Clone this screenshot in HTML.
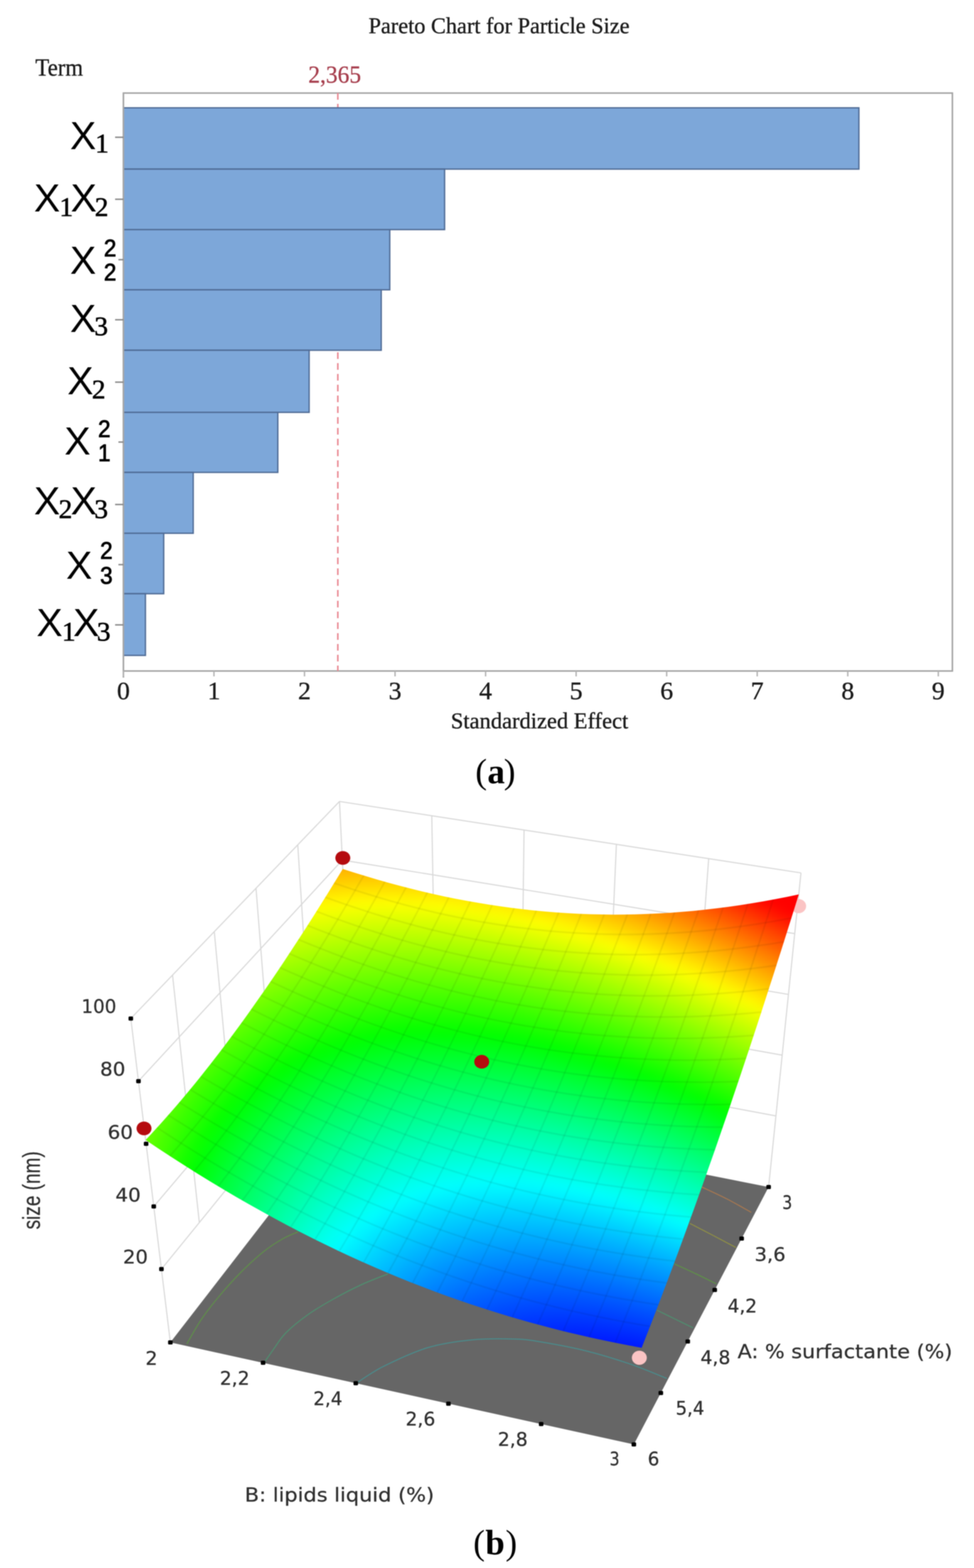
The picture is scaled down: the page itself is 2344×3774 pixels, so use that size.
<!DOCTYPE html>
<html lang="en"><head><meta charset="utf-8"><title>Pareto Chart for Particle Size</title>
<style>html,body{margin:0;padding:0;background:#fff}svg{display:block;filter:blur(0.8px)}text{white-space:pre}</style></head>
<body><svg width="2344" height="3774" viewBox="0 0 2344 3774">
<rect width="2344" height="3774" fill="#fff"/>
<rect x="297" y="224" width="1995" height="1391" fill="#fff" stroke="#a2a2a2" stroke-width="3.6"/>
<line x1="813" y1="224" x2="813" y2="1615" stroke="#ea8c95" stroke-width="3.8" stroke-dasharray="16 10"/>
<rect x="297" y="259.5" width="1770" height="147.5" fill="#7da7d9" stroke="#4f6b95" stroke-width="3.2"/>
<rect x="297" y="407" width="773" height="145.60000000000002" fill="#7da7d9" stroke="#4f6b95" stroke-width="3.2"/>
<rect x="297" y="552.6" width="641" height="144.89999999999998" fill="#7da7d9" stroke="#4f6b95" stroke-width="3.2"/>
<rect x="297" y="697.5" width="620.5" height="145.5" fill="#7da7d9" stroke="#4f6b95" stroke-width="3.2"/>
<rect x="297" y="843" width="447" height="149.5" fill="#7da7d9" stroke="#4f6b95" stroke-width="3.2"/>
<rect x="297" y="992.5" width="371.6" height="144.5" fill="#7da7d9" stroke="#4f6b95" stroke-width="3.2"/>
<rect x="297" y="1137" width="168" height="146.5" fill="#7da7d9" stroke="#4f6b95" stroke-width="3.2"/>
<rect x="297" y="1283.5" width="97" height="145.5" fill="#7da7d9" stroke="#4f6b95" stroke-width="3.2"/>
<rect x="297" y="1429" width="53" height="148.5" fill="#7da7d9" stroke="#4f6b95" stroke-width="3.2"/>
<line x1="297" y1="224" x2="297" y2="1631" stroke="#a8a8a8" stroke-width="3.8"/>
<line x1="277" y1="330.4" x2="297" y2="330.4" stroke="#888" stroke-width="3.4"/>
<line x1="277" y1="479.6" x2="297" y2="479.6" stroke="#888" stroke-width="3.4"/>
<line x1="285" y1="625" x2="297" y2="625" stroke="#888" stroke-width="3.4"/>
<line x1="277" y1="769.6" x2="297" y2="769.6" stroke="#888" stroke-width="3.4"/>
<line x1="277" y1="919.8" x2="297" y2="919.8" stroke="#888" stroke-width="3.4"/>
<line x1="285" y1="1064" x2="297" y2="1064" stroke="#888" stroke-width="3.4"/>
<line x1="277" y1="1214.3" x2="297" y2="1214.3" stroke="#888" stroke-width="3.4"/>
<line x1="285" y1="1359" x2="297" y2="1359" stroke="#888" stroke-width="3.4"/>
<line x1="277" y1="1504" x2="297" y2="1504" stroke="#888" stroke-width="3.4"/>
<line x1="297.0" y1="1615" x2="297.0" y2="1628" stroke="#b4b4b4" stroke-width="3.4"/>
<text x="297.0" y="1682.5" font-family="'Liberation Serif',serif" font-size="62" text-anchor="middle" fill="#1a1a1a" stroke="#1a1a1a" stroke-width="0.7">0</text>
<line x1="514.9" y1="1615" x2="514.9" y2="1628" stroke="#b4b4b4" stroke-width="3.4"/>
<text x="514.9" y="1682.5" font-family="'Liberation Serif',serif" font-size="62" text-anchor="middle" fill="#1a1a1a" stroke="#1a1a1a" stroke-width="0.7">1</text>
<line x1="732.8" y1="1615" x2="732.8" y2="1628" stroke="#b4b4b4" stroke-width="3.4"/>
<text x="732.8" y="1682.5" font-family="'Liberation Serif',serif" font-size="62" text-anchor="middle" fill="#1a1a1a" stroke="#1a1a1a" stroke-width="0.7">2</text>
<line x1="950.7" y1="1615" x2="950.7" y2="1628" stroke="#b4b4b4" stroke-width="3.4"/>
<text x="950.7" y="1682.5" font-family="'Liberation Serif',serif" font-size="62" text-anchor="middle" fill="#1a1a1a" stroke="#1a1a1a" stroke-width="0.7">3</text>
<line x1="1168.6" y1="1615" x2="1168.6" y2="1628" stroke="#b4b4b4" stroke-width="3.4"/>
<text x="1168.6" y="1682.5" font-family="'Liberation Serif',serif" font-size="62" text-anchor="middle" fill="#1a1a1a" stroke="#1a1a1a" stroke-width="0.7">4</text>
<line x1="1386.5" y1="1615" x2="1386.5" y2="1628" stroke="#b4b4b4" stroke-width="3.4"/>
<text x="1386.5" y="1682.5" font-family="'Liberation Serif',serif" font-size="62" text-anchor="middle" fill="#1a1a1a" stroke="#1a1a1a" stroke-width="0.7">5</text>
<line x1="1604.4" y1="1615" x2="1604.4" y2="1628" stroke="#b4b4b4" stroke-width="3.4"/>
<text x="1604.4" y="1682.5" font-family="'Liberation Serif',serif" font-size="62" text-anchor="middle" fill="#1a1a1a" stroke="#1a1a1a" stroke-width="0.7">6</text>
<line x1="1822.3" y1="1615" x2="1822.3" y2="1628" stroke="#b4b4b4" stroke-width="3.4"/>
<text x="1822.3" y="1682.5" font-family="'Liberation Serif',serif" font-size="62" text-anchor="middle" fill="#1a1a1a" stroke="#1a1a1a" stroke-width="0.7">7</text>
<line x1="2040.2" y1="1615" x2="2040.2" y2="1628" stroke="#b4b4b4" stroke-width="3.4"/>
<text x="2040.2" y="1682.5" font-family="'Liberation Serif',serif" font-size="62" text-anchor="middle" fill="#1a1a1a" stroke="#1a1a1a" stroke-width="0.7">8</text>
<line x1="2258.1" y1="1615" x2="2258.1" y2="1628" stroke="#b4b4b4" stroke-width="3.4"/>
<text x="2258.1" y="1682.5" font-family="'Liberation Serif',serif" font-size="62" text-anchor="middle" fill="#1a1a1a" stroke="#1a1a1a" stroke-width="0.7">9</text>
<text x="887" y="79.5" font-family="'Liberation Serif',serif" font-size="55" fill="#1a1a1a" textLength="628" lengthAdjust="spacingAndGlyphs" stroke="#1a1a1a" stroke-width="0.7">Pareto Chart for Particle Size</text>
<text x="85" y="182" font-family="'Liberation Serif',serif" font-size="60" fill="#1a1a1a" textLength="115" lengthAdjust="spacingAndGlyphs" stroke="#1a1a1a" stroke-width="0.7">Term</text>
<text x="742" y="198.6" font-family="'Liberation Serif',serif" font-size="60" fill="#a63d4c" textLength="127" lengthAdjust="spacingAndGlyphs" stroke="#a63d4c" stroke-width="0.6">2,365</text>
<text x="1085" y="1752.5" font-family="'Liberation Serif',serif" font-size="55" fill="#1a1a1a" textLength="427" lengthAdjust="spacingAndGlyphs" stroke="#1a1a1a" stroke-width="0.7">Standardized Effect</text>
<text x="168.4" y="358.5" font-family="'Liberation Sans',sans-serif" font-size="95" fill="#000" textLength="63" lengthAdjust="spacingAndGlyphs">X</text>
<text x="229" y="367" font-family="'Liberation Serif',serif" font-size="66" fill="#000" stroke="#000" stroke-width="1.1">1</text>
<text x="81.7" y="508.5" font-family="'Liberation Sans',sans-serif" font-size="95" fill="#000" textLength="63" lengthAdjust="spacingAndGlyphs">X</text>
<text x="143" y="520" font-family="'Liberation Serif',serif" font-size="66" fill="#000" stroke="#000" stroke-width="1.1">1</text>
<text x="170" y="508.5" font-family="'Liberation Sans',sans-serif" font-size="95" fill="#000" textLength="63" lengthAdjust="spacingAndGlyphs">X</text>
<text x="228" y="520" font-family="'Liberation Serif',serif" font-size="66" fill="#000" stroke="#000" stroke-width="1.1">2</text>
<text x="168.4" y="658.5" font-family="'Liberation Sans',sans-serif" font-size="95" fill="#000" textLength="63" lengthAdjust="spacingAndGlyphs">X</text>
<text x="250" y="616.5" font-family="'Liberation Sans',sans-serif" font-size="57" fill="#000" textLength="30" lengthAdjust="spacingAndGlyphs" stroke="#000" stroke-width="1.6">2</text>
<text x="250" y="675" font-family="'Liberation Sans',sans-serif" font-size="57" fill="#000" textLength="30" lengthAdjust="spacingAndGlyphs" stroke="#000" stroke-width="1.6">2</text>
<text x="168.4" y="798.5" font-family="'Liberation Sans',sans-serif" font-size="95" fill="#000" textLength="63" lengthAdjust="spacingAndGlyphs">X</text>
<text x="227" y="807" font-family="'Liberation Serif',serif" font-size="66" fill="#000" stroke="#000" stroke-width="1.1">3</text>
<text x="162" y="948.5" font-family="'Liberation Sans',sans-serif" font-size="95" fill="#000" textLength="63" lengthAdjust="spacingAndGlyphs">X</text>
<text x="221" y="959" font-family="'Liberation Serif',serif" font-size="66" fill="#000" stroke="#000" stroke-width="1.1">2</text>
<text x="155" y="1093.5" font-family="'Liberation Sans',sans-serif" font-size="95" fill="#000" textLength="63" lengthAdjust="spacingAndGlyphs">X</text>
<text x="236" y="1052" font-family="'Liberation Sans',sans-serif" font-size="57" fill="#000" textLength="30" lengthAdjust="spacingAndGlyphs" stroke="#000" stroke-width="1.6">2</text>
<text x="236" y="1110" font-family="'Liberation Sans',sans-serif" font-size="57" fill="#000" textLength="30" lengthAdjust="spacingAndGlyphs" stroke="#000" stroke-width="1.6">1</text>
<text x="81.7" y="1237.5" font-family="'Liberation Sans',sans-serif" font-size="95" fill="#000" textLength="63" lengthAdjust="spacingAndGlyphs">X</text>
<text x="141" y="1247" font-family="'Liberation Serif',serif" font-size="66" fill="#000" stroke="#000" stroke-width="1.1">2</text>
<text x="170" y="1237.5" font-family="'Liberation Sans',sans-serif" font-size="95" fill="#000" textLength="63" lengthAdjust="spacingAndGlyphs">X</text>
<text x="227" y="1247" font-family="'Liberation Serif',serif" font-size="66" fill="#000" stroke="#000" stroke-width="1.1">3</text>
<text x="159" y="1392.5" font-family="'Liberation Sans',sans-serif" font-size="95" fill="#000" textLength="63" lengthAdjust="spacingAndGlyphs">X</text>
<text x="241" y="1345" font-family="'Liberation Sans',sans-serif" font-size="57" fill="#000" textLength="30" lengthAdjust="spacingAndGlyphs" stroke="#000" stroke-width="1.6">2</text>
<text x="241" y="1405" font-family="'Liberation Sans',sans-serif" font-size="57" fill="#000" textLength="30" lengthAdjust="spacingAndGlyphs" stroke="#000" stroke-width="1.6">3</text>
<text x="87.7" y="1530.5" font-family="'Liberation Sans',sans-serif" font-size="95" fill="#000" textLength="63" lengthAdjust="spacingAndGlyphs">X</text>
<text x="149" y="1542" font-family="'Liberation Serif',serif" font-size="66" fill="#000" stroke="#000" stroke-width="1.1">1</text>
<text x="176" y="1530.5" font-family="'Liberation Sans',sans-serif" font-size="95" fill="#000" textLength="63" lengthAdjust="spacingAndGlyphs">X</text>
<text x="233" y="1542" font-family="'Liberation Serif',serif" font-size="66" fill="#000" stroke="#000" stroke-width="1.1">3</text>
<text y="1885" font-family="'Liberation Serif',serif" font-size="84" fill="#000"><tspan x="1144">(</tspan><tspan x="1173" font-weight="bold">a</tspan><tspan x="1212.5">)</tspan></text>
<text y="3741" font-family="'Liberation Serif',serif" font-size="84" fill="#000"><tspan x="1139">(</tspan><tspan x="1168" font-weight="bold">b</tspan><tspan x="1216.5">)</tspan></text>
<g fill="none" stroke="#d9d9d9" stroke-width="2.7" stroke-linejoin="round"><polyline points="388.5,3054.6 844.6,2493.8 1867.3,2685.9"/><polyline points="370.0,2903.8 837.7,2352.6 1882.4,2539.7"/><polyline points="351.6,2753.0 830.8,2211.4 1897.5,2393.5"/><polyline points="333.2,2602.2 823.9,2070.2 1912.5,2247.2"/><polyline points="314.8,2451.4 817.0,1929.0 1927.6,2101.0"/><polyline points="415.2,2346.9 479.7,2942.4"/><polyline points="515.7,2242.4 570.9,2830.3"/><polyline points="616.1,2138.0 662.1,2718.1"/><polyline points="716.6,2033.5 753.4,2606.0"/><polyline points="817.0,1929.0 844.6,2493.8"/><polyline points="1039.1,1963.4 1049.1,2532.2"/><polyline points="1261.2,1997.8 1253.7,2570.6"/><polyline points="1483.4,2032.2 1458.2,2609.1"/><polyline points="1705.5,2066.6 1662.8,2647.5"/><polyline points="314.8,2451.4 410.0,3231.0"/><polyline points="1927.6,2101.0 1849.7,2857.0"/></g>
<polygon points="410.0,3231.0 1525.4,3476.6 1849.7,2857.0 852.7,2659.0" fill="#666666"/>
<path d="M449.7,3234.5C455.6,3224.6 471.8,3194.4 485.0,3175.0C498.2,3155.6 513.2,3136.8 529.0,3118.0C544.8,3099.2 562.3,3079.7 580.0,3062.0C597.7,3044.3 618.3,3025.3 635.0,3012.0C651.7,2998.7 666.3,2989.8 680.0,2982.0C693.7,2974.2 710.8,2967.8 717.0,2965.0" fill="none" stroke="#5f8f4a" stroke-width="2.5"/>
<path d="M635.0,3281.0C639.2,3275.0 651.2,3257.2 660.0,3245.0C668.8,3232.8 674.7,3221.3 688.0,3208.0C701.3,3194.7 721.3,3178.3 740.0,3165.0C758.7,3151.7 778.3,3140.2 800.0,3128.0C821.7,3115.8 847.7,3102.3 870.0,3092.0C892.3,3081.7 923.3,3070.3 934.0,3066.0" fill="none" stroke="#4f8f6f" stroke-width="2.5"/>
<path d="M857.0,3329.5C868.0,3322.7 894.3,3303.0 923.0,3288.7C951.7,3274.4 993.7,3254.4 1029.0,3243.8C1064.3,3233.2 1099.7,3228.5 1135.0,3225.0C1170.3,3221.5 1212.2,3222.1 1240.7,3223.0C1269.2,3223.9 1277.3,3225.7 1305.8,3230.5C1334.3,3235.3 1376.3,3242.9 1411.6,3251.7C1446.9,3260.5 1485.3,3272.4 1517.5,3283.4C1549.7,3294.4 1590.2,3312.1 1604.8,3317.8" fill="none" stroke="#4a8c8c" stroke-width="2.5"/>
<path d="M1581.0,3153.5C1588.3,3157.1 1610.5,3167.9 1625.0,3175.0C1639.5,3182.1 1660.8,3192.5 1668.0,3196.0" fill="none" stroke="#4f8f6f" stroke-width="2.5"/>
<path d="M1623.0,3042.0C1631.7,3046.0 1658.2,3058.0 1675.0,3066.0C1691.8,3074.0 1715.8,3086.0 1724.0,3090.0" fill="none" stroke="#5f8f4a" stroke-width="2.5"/>
<path d="M1660.0,2944.5C1669.2,2949.2 1696.5,2963.3 1715.0,2973.0C1733.5,2982.7 1761.7,2997.8 1771.0,3002.7" fill="none" stroke="#8f8f45" stroke-width="2.5"/>
<path d="M1689.0,2857.0C1699.2,2861.8 1730.2,2875.8 1750.0,2886.0C1769.8,2896.2 1798.3,2912.7 1808.0,2918.0" fill="none" stroke="#a87850" stroke-width="2.5"/>
<ellipse cx="1922" cy="2181" rx="18" ry="17" fill="#fbc4c4"/>
<ellipse cx="1538.6" cy="3268" rx="18" ry="17" fill="#fbc4c4"/>
<defs><filter id="sb" x="-5%" y="-5%" width="110%" height="110%" color-interpolation-filters="sRGB"><feGaussianBlur stdDeviation="11"/></filter><filter id="mb" x="-5%" y="-5%" width="110%" height="110%"><feGaussianBlur stdDeviation="0.9"/></filter></defs>
<clipPath id="sc"><polygon points="824.9,2091.4 852.3,2100.2 879.5,2108.6 906.8,2116.7 934.0,2124.5 961.1,2131.8 988.3,2138.8 1015.4,2145.5 1042.4,2151.7 1069.5,2157.7 1096.5,2163.2 1123.6,2168.3 1150.6,2173.1 1177.6,2177.6 1204.6,2181.6 1231.7,2185.3 1258.7,2188.6 1285.8,2191.5 1312.9,2194.0 1340.0,2196.2 1367.1,2198.0 1394.3,2199.4 1421.5,2200.4 1448.7,2201.1 1476.0,2201.4 1503.3,2201.2 1530.7,2200.7 1558.2,2199.8 1585.7,2198.6 1613.3,2196.9 1640.9,2194.8 1668.6,2192.4 1696.4,2189.6 1724.3,2186.3 1752.3,2182.7 1780.4,2178.7 1808.5,2174.3 1836.8,2169.5 1865.2,2164.3 1893.7,2158.7 1922.3,2152.7 1912.1,2185.4 1901.9,2217.9 1891.8,2250.0 1881.8,2281.8 1871.7,2313.2 1861.8,2344.4 1851.8,2375.3 1841.9,2405.9 1832.1,2436.2 1822.3,2466.2 1812.5,2496.0 1802.8,2525.4 1793.1,2554.5 1783.4,2583.4 1773.8,2612.0 1764.2,2640.3 1754.7,2668.4 1745.2,2696.1 1735.7,2723.6 1726.3,2750.9 1716.9,2777.9 1707.5,2804.6 1698.2,2831.0 1688.9,2857.2 1679.6,2883.2 1670.4,2908.9 1661.2,2934.3 1652.0,2959.6 1642.9,2984.5 1633.8,3009.3 1624.7,3033.7 1615.6,3058.0 1606.6,3082.0 1597.6,3105.8 1588.6,3129.4 1579.7,3152.7 1570.8,3175.9 1561.9,3198.8 1553.0,3221.4 1544.2,3243.9 1514.8,3238.5 1485.4,3232.7 1456.1,3226.7 1426.7,3220.4 1397.5,3213.8 1368.2,3206.9 1339.0,3199.7 1309.8,3192.1 1280.6,3184.2 1251.4,3176.0 1222.2,3167.5 1193.0,3158.6 1163.8,3149.3 1134.6,3139.7 1105.3,3129.8 1076.0,3119.4 1046.7,3108.7 1017.4,3097.6 988.0,3086.2 958.5,3074.3 929.0,3062.0 899.4,3049.3 869.8,3036.2 840.1,3022.7 810.3,3008.7 780.4,2994.3 750.5,2979.5 720.4,2964.2 690.3,2948.5 660.0,2932.3 629.7,2915.6 599.2,2898.5 568.6,2880.9 537.8,2862.8 507.0,2844.2 476.0,2825.2 444.8,2805.6 413.6,2785.5 382.1,2764.9 350.5,2743.7 362.6,2730.9 374.6,2717.8 386.7,2704.6 398.7,2691.1 410.6,2677.5 422.6,2663.7 434.6,2649.7 446.5,2635.6 458.4,2621.2 470.3,2606.7 482.2,2592.0 494.0,2577.1 505.9,2562.1 517.7,2546.8 529.5,2531.4 541.4,2515.8 553.2,2500.0 565.0,2484.1 576.8,2468.0 588.6,2451.7 600.4,2435.3 612.1,2418.6 623.9,2401.8 635.7,2384.9 647.5,2367.8 659.3,2350.5 671.1,2333.0 682.8,2315.4 694.6,2297.6 706.4,2279.6 718.2,2261.5 730.0,2243.2 741.9,2224.8 753.7,2206.2 765.5,2187.5 777.4,2168.6 789.3,2149.5 801.1,2130.3 813.0,2110.9"/></clipPath>
<g clip-path="url(#sc)"><g filter="url(#sb)"><path d="M794,2033l26,9l-12,18l-26,-8z" fill="#ff8800"/><path d="M818,2041l26,8l-12,19l-26,-8z" fill="#ff9000"/><path d="M842,2049l26,8l-12,19l-26,-8z" fill="#ff9800"/><path d="M866,2056l25,8l-11,19l-26,-8z" fill="#ff9f00"/><path d="M890,2063l25,7l-11,20l-26,-8z" fill="#ffa600"/><path d="M913,2070l26,7l-11,20l-26,-8z" fill="#ffac00"/><path d="M937,2076l26,7l-11,20l-26,-7z" fill="#ffb100"/><path d="M961,2083l26,6l-11,20l-26,-6z" fill="#ffb600"/><path d="M985,2088l25,6l-11,21l-25,-6z" fill="#ffbb00"/><path d="M1009,2094l25,6l-11,21l-25,-6z" fill="#ffbe00"/><path d="M1032,2099l26,6l-11,21l-26,-6z" fill="#ffc100"/><path d="M1056,2104l26,6l-11,21l-26,-5z" fill="#ffc400"/><path d="M1080,2109l25,5l-10,22l-26,-5z" fill="#ffc600"/><path d="M1103,2114l26,4l-11,22l-25,-5z" fill="#ffc700"/><path d="M1127,2118l26,4l-11,22l-26,-4z" fill="#ffc800"/><path d="M1151,2122l25,4l-10,22l-26,-4z" fill="#ffc800"/><path d="M1174,2125l26,4l-11,23l-25,-4z" fill="#ffc800"/><path d="M1198,2129l26,3l-11,23l-25,-4z" fill="#ffc700"/><path d="M1222,2132l25,3l-10,23l-26,-3z" fill="#ffc500"/><path d="M1245,2135l26,2l-10,24l-26,-3z" fill="#ffc300"/><path d="M1269,2137l26,2l-11,24l-25,-2z" fill="#ffc000"/><path d="M1293,2139l26,2l-11,24l-25,-2z" fill="#ffbc00"/><path d="M1317,2141l25,2l-10,24l-26,-2z" fill="#ffb800"/><path d="M1340,2143l26,1l-10,25l-26,-2z" fill="#ffb400"/><path d="M1364,2144l26,1l-10,25l-26,-1z" fill="#ffaf00"/><path d="M1388,2145l26,1l-10,25l-26,-1z" fill="#ffa900"/><path d="M1412,2146l26,0l-11,25l-25,0z" fill="#ffa200"/><path d="M1436,2146l26,0l-11,26l-25,-1z" fill="#ff9c00"/><path d="M1460,2146l25,0l-10,26l-26,0z" fill="#ff9400"/><path d="M1484,2146l25,-1l-10,27l-26,0z" fill="#ff8c00"/><path d="M1507,2145l26,-1l-10,27l-26,1z" fill="#ff8300"/><path d="M1532,2145l25,-2l-10,27l-26,1z" fill="#ff7a00"/><path d="M1556,2143l26,-1l-10,27l-26,1z" fill="#ff7000"/><path d="M1580,2142l26,-2l-10,28l-26,1z" fill="#ff6500"/><path d="M1604,2140l26,-2l-10,28l-26,2z" fill="#ff5a00"/><path d="M1628,2138l26,-2l-10,28l-26,2z" fill="#ff4e00"/><path d="M1652,2136l27,-3l-10,28l-27,3z" fill="#ff4200"/><path d="M1677,2133l26,-3l-10,29l-26,3z" fill="#ff3500"/><path d="M1701,2130l26,-3l-9,29l-27,3z" fill="#ff2800"/><path d="M1725,2127l27,-4l-10,29l-26,4z" fill="#ff1900"/><path d="M1750,2124l27,-5l-10,30l-27,4z" fill="#ff0b00"/><path d="M1775,2120l26,-5l-10,30l-26,4z" fill="#ff0000"/><path d="M1799,2115l27,-4l-10,30l-27,4z" fill="#ff0000"/><path d="M1824,2111l27,-5l-10,30l-27,5z" fill="#ff0000"/><path d="M1849,2106l27,-5l-10,30l-27,6z" fill="#ff0000"/><path d="M1874,2101l27,-6l-10,31l-27,6z" fill="#ff0000"/><path d="M1899,2096l27,-7l-10,32l-27,6z" fill="#ff0000"/><path d="M1924,2090l27,-7l-10,32l-27,6z" fill="#ff0000"/><path d="M1949,2084l27,-7l-9,32l-28,7z" fill="#ff0000"/><path d="M1974,2077l28,-7l-10,33l-27,6z" fill="#ff0000"/><path d="M783,2050l26,9l-11,18l-26,-9z" fill="#ff9700"/><path d="M807,2058l26,9l-11,19l-26,-9z" fill="#ff9f00"/><path d="M831,2066l26,8l-11,19l-26,-8z" fill="#ffa800"/><path d="M855,2074l26,8l-11,19l-26,-8z" fill="#ffaf00"/><path d="M879,2081l26,8l-11,19l-26,-8z" fill="#ffb600"/><path d="M903,2088l26,7l-11,20l-26,-8z" fill="#ffbd00"/><path d="M927,2095l26,7l-11,20l-26,-8z" fill="#ffc300"/><path d="M951,2101l26,7l-11,20l-26,-7z" fill="#ffc800"/><path d="M975,2107l25,7l-11,20l-25,-6z" fill="#ffcd00"/><path d="M998,2113l26,6l-11,21l-26,-6z" fill="#ffd100"/><path d="M1022,2119l26,5l-11,21l-26,-5z" fill="#ffd400"/><path d="M1046,2124l26,5l-11,22l-26,-6z" fill="#ffd700"/><path d="M1070,2129l25,5l-10,22l-26,-6z" fill="#ffda00"/><path d="M1093,2134l26,5l-11,21l-25,-5z" fill="#ffdb00"/><path d="M1117,2138l26,5l-11,22l-25,-5z" fill="#ffdc00"/><path d="M1141,2142l26,5l-11,22l-26,-5z" fill="#ffdd00"/><path d="M1165,2146l25,4l-10,23l-26,-4z" fill="#ffdd00"/><path d="M1188,2150l26,3l-10,23l-26,-4z" fill="#ffdc00"/><path d="M1212,2153l26,3l-11,23l-25,-3z" fill="#ffdb00"/><path d="M1236,2156l25,3l-10,23l-26,-3z" fill="#ffd900"/><path d="M1260,2159l25,2l-10,24l-26,-3z" fill="#ffd700"/><path d="M1283,2161l26,2l-10,24l-26,-2z" fill="#ffd400"/><path d="M1307,2163l26,2l-10,24l-26,-2z" fill="#ffd000"/><path d="M1331,2165l26,2l-11,24l-25,-2z" fill="#ffcc00"/><path d="M1355,2167l25,1l-10,25l-26,-2z" fill="#ffc700"/><path d="M1379,2168l25,1l-10,25l-26,-1z" fill="#ffc200"/><path d="M1402,2169l26,1l-10,25l-26,-1z" fill="#ffbc00"/><path d="M1426,2170l26,0l-10,25l-26,0z" fill="#ffb500"/><path d="M1450,2170l26,0l-10,26l-26,-1z" fill="#ffae00"/><path d="M1474,2170l26,0l-10,26l-26,0z" fill="#ffa600"/><path d="M1498,2170l26,-1l-10,26l-26,1z" fill="#ff9e00"/><path d="M1522,2169l26,-1l-10,27l-26,1z" fill="#ff9500"/><path d="M1546,2168l26,-1l-10,27l-26,1z" fill="#ff8b00"/><path d="M1570,2167l27,-1l-10,27l-27,1z" fill="#ff8100"/><path d="M1595,2166l26,-2l-10,27l-26,2z" fill="#ff7600"/><path d="M1619,2164l26,-2l-10,28l-26,1z" fill="#ff6b00"/><path d="M1643,2162l26,-3l-9,28l-27,3z" fill="#ff5f00"/><path d="M1667,2160l27,-3l-10,28l-26,3z" fill="#ff5300"/><path d="M1692,2157l26,-3l-10,28l-26,3z" fill="#ff4600"/><path d="M1716,2154l27,-4l-10,29l-27,4z" fill="#ff3800"/><path d="M1741,2151l26,-4l-9,29l-27,4z" fill="#ff2a00"/><path d="M1765,2147l27,-4l-10,29l-26,4z" fill="#ff1b00"/><path d="M1790,2143l27,-4l-10,29l-27,5z" fill="#ff0b00"/><path d="M1815,2139l27,-5l-10,30l-27,5z" fill="#ff0000"/><path d="M1840,2134l27,-5l-10,31l-27,5z" fill="#ff0000"/><path d="M1865,2130l27,-6l-10,31l-27,5z" fill="#ff0000"/><path d="M1890,2124l27,-6l-10,32l-27,5z" fill="#ff0000"/><path d="M1915,2119l27,-6l-10,31l-27,6z" fill="#ff0000"/><path d="M1940,2113l27,-6l-9,31l-28,7z" fill="#ff0000"/><path d="M1965,2107l28,-7l-10,32l-27,7z" fill="#ff0000"/><path d="M772,2067l27,9l-12,18l-26,-9z" fill="#ffa500"/><path d="M797,2075l26,9l-12,19l-26,-9z" fill="#ffae00"/><path d="M821,2084l26,8l-12,19l-26,-9z" fill="#ffb700"/><path d="M845,2091l26,8l-12,19l-26,-8z" fill="#ffbf00"/><path d="M869,2099l26,8l-12,19l-25,-8z" fill="#ffc600"/><path d="M893,2106l26,8l-12,19l-25,-8z" fill="#ffcd00"/><path d="M917,2113l25,7l-11,20l-25,-7z" fill="#ffd400"/><path d="M941,2120l25,7l-11,20l-25,-7z" fill="#ffd900"/><path d="M964,2126l26,7l-11,20l-26,-7z" fill="#ffde00"/><path d="M988,2132l26,6l-11,21l-26,-6z" fill="#ffe300"/><path d="M1012,2138l26,6l-11,21l-26,-6z" fill="#ffe700"/><path d="M1036,2144l26,5l-11,21l-26,-6z" fill="#ffea00"/><path d="M1060,2149l25,5l-10,22l-26,-6z" fill="#ffed00"/><path d="M1084,2154l25,5l-10,21l-26,-5z" fill="#ffef00"/><path d="M1107,2158l26,5l-11,22l-25,-5z" fill="#fff000"/><path d="M1131,2163l26,4l-11,22l-25,-4z" fill="#fff100"/><path d="M1155,2167l26,4l-11,22l-26,-4z" fill="#fff200"/><path d="M1179,2171l25,4l-10,22l-26,-4z" fill="#fff100"/><path d="M1202,2174l26,4l-10,23l-26,-4z" fill="#fff100"/><path d="M1226,2177l26,4l-10,23l-26,-4z" fill="#ffef00"/><path d="M1250,2180l26,3l-11,24l-25,-3z" fill="#ffed00"/><path d="M1274,2183l25,3l-10,23l-26,-2z" fill="#ffea00"/><path d="M1298,2185l25,3l-10,24l-26,-3z" fill="#ffe700"/><path d="M1321,2188l26,1l-10,25l-26,-2z" fill="#ffe300"/><path d="M1345,2189l26,2l-10,24l-26,-1z" fill="#ffdf00"/><path d="M1369,2191l26,1l-10,25l-26,-2z" fill="#ffda00"/><path d="M1393,2192l26,1l-10,25l-26,-1z" fill="#ffd400"/><path d="M1417,2193l26,1l-10,25l-26,-1z" fill="#ffce00"/><path d="M1441,2194l26,0l-10,25l-26,0z" fill="#ffc800"/><path d="M1465,2194l26,0l-10,26l-26,-1z" fill="#ffc000"/><path d="M1489,2194l26,0l-10,26l-26,0z" fill="#ffb800"/><path d="M1513,2194l26,-1l-10,26l-26,1z" fill="#ffb000"/><path d="M1537,2193l26,-1l-10,27l-26,0z" fill="#ffa600"/><path d="M1561,2192l26,-1l-10,27l-26,1z" fill="#ff9d00"/><path d="M1585,2191l27,-2l-10,28l-27,1z" fill="#ff9200"/><path d="M1610,2189l26,-2l-10,28l-26,2z" fill="#ff8700"/><path d="M1634,2188l26,-3l-10,28l-26,2z" fill="#ff7c00"/><path d="M1658,2186l27,-3l-10,28l-27,2z" fill="#ff7000"/><path d="M1683,2183l26,-3l-10,29l-26,2z" fill="#ff6300"/><path d="M1707,2180l27,-3l-10,29l-27,3z" fill="#ff5600"/><path d="M1732,2177l26,-3l-9,29l-27,3z" fill="#ff4800"/><path d="M1756,2174l27,-4l-10,30l-26,3z" fill="#ff3900"/><path d="M1781,2171l27,-5l-10,30l-27,4z" fill="#ff2a00"/><path d="M1806,2167l27,-5l-10,30l-27,4z" fill="#ff1b00"/><path d="M1831,2162l27,-5l-10,31l-27,4z" fill="#ff0a00"/><path d="M1856,2158l27,-5l-10,30l-27,5z" fill="#ff0000"/><path d="M1881,2153l27,-6l-10,31l-27,6z" fill="#ff0000"/><path d="M1906,2148l27,-6l-10,31l-27,6z" fill="#ff0000"/><path d="M1931,2142l27,-6l-9,32l-28,6z" fill="#ff0000"/><path d="M1956,2137l28,-7l-10,32l-27,6z" fill="#ff0000"/><path d="M762,2084l26,9l-11,18l-27,-9z" fill="#ffb300"/><path d="M786,2092l26,9l-11,19l-26,-10z" fill="#ffbd00"/><path d="M810,2101l26,8l-11,19l-26,-9z" fill="#ffc600"/><path d="M834,2109l26,8l-11,19l-26,-9z" fill="#ffce00"/><path d="M858,2116l26,9l-11,19l-26,-9z" fill="#ffd600"/><path d="M882,2124l26,8l-11,19l-26,-8z" fill="#ffdd00"/><path d="M906,2131l26,8l-11,19l-26,-7z" fill="#ffe400"/><path d="M930,2138l26,7l-11,20l-26,-7z" fill="#ffea00"/><path d="M954,2145l26,7l-11,20l-26,-7z" fill="#fff000"/><path d="M978,2151l26,7l-11,20l-26,-7z" fill="#fff400"/><path d="M1002,2157l26,6l-11,21l-26,-6z" fill="#fff900"/><path d="M1026,2163l26,6l-11,21l-26,-6z" fill="#fffc00"/><path d="M1050,2168l26,6l-11,21l-26,-6z" fill="#feff00"/><path d="M1074,2174l25,5l-10,21l-26,-5z" fill="#fcff00"/><path d="M1097,2178l26,5l-10,22l-26,-5z" fill="#faff00"/><path d="M1121,2183l26,5l-10,22l-26,-5z" fill="#f9ff00"/><path d="M1145,2187l26,5l-11,22l-25,-5z" fill="#f8ff00"/><path d="M1169,2192l26,4l-11,22l-26,-4z" fill="#f8ff00"/><path d="M1193,2195l25,4l-10,23l-26,-4z" fill="#f8ff00"/><path d="M1217,2199l25,3l-10,23l-26,-3z" fill="#f9ff00"/><path d="M1240,2202l26,3l-10,23l-26,-3z" fill="#fbff00"/><path d="M1264,2205l26,3l-10,23l-26,-3z" fill="#fdff00"/><path d="M1288,2207l26,3l-10,24l-26,-3z" fill="#fffe00"/><path d="M1312,2210l26,2l-10,24l-26,-2z" fill="#fffb00"/><path d="M1336,2212l26,2l-11,24l-25,-2z" fill="#fff700"/><path d="M1360,2214l26,1l-11,25l-25,-2z" fill="#fff200"/><path d="M1384,2215l25,1l-10,25l-26,-1z" fill="#ffed00"/><path d="M1408,2216l25,1l-10,25l-26,-1z" fill="#ffe700"/><path d="M1432,2217l25,1l-10,25l-26,-1z" fill="#ffe100"/><path d="M1456,2218l26,0l-10,26l-26,-1z" fill="#ffda00"/><path d="M1480,2218l26,0l-10,26l-26,0z" fill="#ffd200"/><path d="M1504,2218l26,-1l-10,27l-26,0z" fill="#ffca00"/><path d="M1528,2217l26,0l-10,26l-26,1z" fill="#ffc100"/><path d="M1552,2217l26,-1l-10,27l-26,0z" fill="#ffb800"/><path d="M1576,2216l26,-1l-9,27l-27,1z" fill="#ffae00"/><path d="M1600,2215l27,-2l-10,27l-26,2z" fill="#ffa300"/><path d="M1625,2213l26,-2l-10,28l-26,2z" fill="#ff9800"/><path d="M1649,2211l27,-2l-10,28l-27,2z" fill="#ff8c00"/><path d="M1674,2209l26,-2l-10,28l-26,2z" fill="#ff8000"/><path d="M1698,2207l27,-3l-10,28l-27,3z" fill="#ff7300"/><path d="M1723,2204l26,-3l-9,29l-27,3z" fill="#ff6600"/><path d="M1747,2201l27,-4l-10,30l-26,3z" fill="#ff5800"/><path d="M1772,2198l27,-4l-10,29l-27,4z" fill="#ff4900"/><path d="M1797,2194l27,-4l-10,30l-27,4z" fill="#ff3a00"/><path d="M1822,2190l27,-4l-10,30l-27,4z" fill="#ff2a00"/><path d="M1847,2186l27,-5l-10,30l-27,5z" fill="#ff1900"/><path d="M1872,2181l27,-5l-10,31l-27,5z" fill="#ff0800"/><path d="M1897,2176l27,-5l-10,31l-27,5z" fill="#ff0000"/><path d="M1922,2171l27,-6l-9,32l-28,5z" fill="#ff0000"/><path d="M1947,2166l28,-6l-10,31l-27,6z" fill="#ff0000"/><path d="M751,2100l26,10l-11,18l-26,-10z" fill="#ffc100"/><path d="M775,2109l27,9l-12,19l-26,-10z" fill="#ffcb00"/><path d="M800,2118l26,9l-11,18l-27,-9z" fill="#ffd400"/><path d="M824,2126l26,9l-11,18l-26,-8z" fill="#ffdd00"/><path d="M848,2134l26,8l-11,19l-26,-8z" fill="#ffe500"/><path d="M872,2142l26,8l-11,19l-26,-8z" fill="#ffed00"/><path d="M896,2149l26,8l-11,19l-26,-8z" fill="#fff400"/><path d="M920,2156l26,8l-11,20l-26,-8z" fill="#fffa00"/><path d="M944,2163l26,7l-11,20l-26,-7z" fill="#feff00"/><path d="M968,2170l26,7l-11,20l-26,-7z" fill="#f8ff00"/><path d="M992,2176l26,7l-11,20l-26,-7z" fill="#f4ff00"/><path d="M1016,2182l26,6l-11,21l-26,-6z" fill="#f0ff00"/><path d="M1040,2188l26,6l-11,21l-26,-6z" fill="#ecff00"/><path d="M1064,2193l26,6l-11,21l-26,-6z" fill="#e9ff00"/><path d="M1088,2198l25,6l-10,21l-26,-5z" fill="#e7ff00"/><path d="M1112,2203l25,5l-10,22l-26,-5z" fill="#e5ff00"/><path d="M1135,2208l26,4l-10,23l-26,-5z" fill="#e4ff00"/><path d="M1159,2212l26,4l-10,23l-26,-5z" fill="#e3ff00"/><path d="M1183,2216l26,4l-10,23l-26,-4z" fill="#e4ff00"/><path d="M1207,2220l26,4l-11,22l-25,-3z" fill="#e4ff00"/><path d="M1231,2223l26,4l-11,23l-26,-4z" fill="#e5ff00"/><path d="M1255,2226l25,4l-10,23l-26,-3z" fill="#e7ff00"/><path d="M1279,2229l25,3l-10,24l-26,-3z" fill="#eaff00"/><path d="M1302,2232l26,2l-10,24l-26,-2z" fill="#edff00"/><path d="M1326,2234l26,2l-10,24l-26,-2z" fill="#f0ff00"/><path d="M1350,2236l26,2l-10,24l-26,-2z" fill="#f5ff00"/><path d="M1374,2238l26,1l-10,25l-26,-2z" fill="#f9ff00"/><path d="M1398,2239l26,1l-10,25l-26,-1z" fill="#ffff00"/><path d="M1422,2240l26,1l-10,25l-26,-1z" fill="#fff900"/><path d="M1446,2241l26,1l-10,25l-26,-1z" fill="#fff300"/><path d="M1470,2242l26,0l-10,26l-26,-1z" fill="#ffec00"/><path d="M1494,2242l27,0l-10,26l-26,0z" fill="#ffe400"/><path d="M1519,2242l26,-1l-10,27l-26,0z" fill="#ffdb00"/><path d="M1543,2241l26,0l-10,26l-26,1z" fill="#ffd200"/><path d="M1567,2241l26,-1l-10,27l-26,0z" fill="#ffc900"/><path d="M1591,2240l27,-2l-10,28l-26,1z" fill="#ffbf00"/><path d="M1616,2239l26,-2l-10,27l-26,2z" fill="#ffb400"/><path d="M1640,2237l27,-2l-10,28l-27,1z" fill="#ffa900"/><path d="M1665,2235l26,-2l-10,28l-26,2z" fill="#ff9d00"/><path d="M1689,2233l27,-3l-10,29l-27,2z" fill="#ff9000"/><path d="M1714,2230l26,-2l-9,28l-27,3z" fill="#ff8300"/><path d="M1738,2228l27,-4l-10,29l-26,3z" fill="#ff7600"/><path d="M1763,2225l27,-4l-10,29l-27,4z" fill="#ff6700"/><path d="M1788,2221l27,-4l-10,30l-27,4z" fill="#ff5800"/><path d="M1813,2218l27,-5l-10,30l-27,4z" fill="#ff4900"/><path d="M1838,2214l27,-5l-10,30l-27,5z" fill="#ff3900"/><path d="M1863,2209l27,-4l-10,30l-27,5z" fill="#ff2800"/><path d="M1888,2205l27,-5l-10,30l-27,5z" fill="#ff1700"/><path d="M1913,2200l27,-6l-9,32l-28,5z" fill="#ff0500"/><path d="M1938,2195l28,-6l-10,31l-27,6z" fill="#ff0000"/><path d="M741,2117l26,10l-12,17l-26,-10z" fill="#ffce00"/><path d="M765,2126l26,9l-11,18l-26,-9z" fill="#ffd800"/><path d="M789,2135l26,9l-11,18l-26,-9z" fill="#ffe200"/><path d="M813,2143l27,9l-12,19l-26,-9z" fill="#ffeb00"/><path d="M838,2151l26,9l-11,19l-27,-9z" fill="#fff400"/><path d="M862,2159l26,9l-11,19l-26,-9z" fill="#fffc00"/><path d="M886,2167l26,8l-11,19l-26,-8z" fill="#fbff00"/><path d="M910,2174l26,8l-11,20l-26,-8z" fill="#f4ff00"/><path d="M934,2182l26,7l-11,20l-26,-8z" fill="#edff00"/><path d="M958,2188l26,7l-11,21l-26,-8z" fill="#e8ff00"/><path d="M982,2195l26,7l-11,20l-26,-7z" fill="#e3ff00"/><path d="M1006,2201l26,7l-11,20l-26,-6z" fill="#deff00"/><path d="M1030,2207l26,6l-11,21l-26,-6z" fill="#daff00"/><path d="M1054,2213l26,6l-11,21l-26,-6z" fill="#d7ff00"/><path d="M1078,2218l26,6l-11,21l-26,-6z" fill="#d4ff00"/><path d="M1102,2223l26,5l-11,22l-26,-5z" fill="#d2ff00"/><path d="M1126,2228l25,5l-10,22l-26,-5z" fill="#d1ff00"/><path d="M1150,2233l25,4l-10,22l-26,-4z" fill="#d0ff00"/><path d="M1173,2237l26,4l-10,23l-26,-5z" fill="#cfff00"/><path d="M1197,2241l26,4l-10,23l-26,-5z" fill="#d0ff00"/><path d="M1221,2245l26,3l-10,23l-26,-4z" fill="#d0ff00"/><path d="M1245,2248l26,3l-10,23l-26,-3z" fill="#d2ff00"/><path d="M1269,2251l26,3l-10,24l-26,-4z" fill="#d4ff00"/><path d="M1293,2254l26,3l-10,23l-26,-3z" fill="#d6ff00"/><path d="M1317,2256l26,3l-10,24l-26,-3z" fill="#daff00"/><path d="M1341,2259l26,2l-10,24l-26,-2z" fill="#ddff00"/><path d="M1365,2260l26,2l-10,25l-26,-2z" fill="#e2ff00"/><path d="M1389,2262l26,2l-10,24l-26,-1z" fill="#e7ff00"/><path d="M1413,2263l26,2l-10,25l-26,-2z" fill="#ecff00"/><path d="M1437,2264l26,1l-10,26l-26,-1z" fill="#f3ff00"/><path d="M1461,2265l26,1l-10,25l-26,0z" fill="#f9ff00"/><path d="M1485,2266l26,0l-9,26l-27,-1z" fill="#fffd00"/><path d="M1509,2266l27,0l-10,26l-26,0z" fill="#fff500"/><path d="M1534,2266l26,-1l-10,27l-26,0z" fill="#ffed00"/><path d="M1558,2265l26,0l-10,26l-26,1z" fill="#ffe400"/><path d="M1582,2265l27,-1l-10,27l-27,0z" fill="#ffda00"/><path d="M1607,2264l26,-2l-10,27l-26,2z" fill="#ffcf00"/><path d="M1631,2262l26,-1l-9,27l-27,2z" fill="#ffc500"/><path d="M1656,2261l26,-2l-10,28l-26,1z" fill="#ffb900"/><path d="M1680,2259l27,-2l-10,28l-27,2z" fill="#ffad00"/><path d="M1705,2257l26,-3l-9,28l-27,3z" fill="#ffa000"/><path d="M1729,2254l27,-3l-10,29l-26,3z" fill="#ff9300"/><path d="M1754,2251l27,-3l-10,29l-27,3z" fill="#ff8500"/><path d="M1779,2248l27,-3l-10,29l-27,3z" fill="#ff7700"/><path d="M1804,2245l27,-4l-10,30l-27,3z" fill="#ff6700"/><path d="M1829,2241l27,-4l-10,30l-27,4z" fill="#ff5800"/><path d="M1854,2237l27,-4l-10,30l-27,4z" fill="#ff4800"/><path d="M1879,2233l27,-5l-9,31l-28,4z" fill="#ff3700"/><path d="M1904,2229l27,-6l-9,31l-27,5z" fill="#ff2500"/><path d="M1929,2224l28,-6l-10,31l-27,5z" fill="#ff1300"/><path d="M730,2133l26,10l-11,18l-26,-10z" fill="#ffda00"/><path d="M754,2142l27,10l-12,18l-26,-10z" fill="#ffe500"/><path d="M779,2151l26,10l-11,18l-27,-10z" fill="#fff000"/><path d="M803,2160l26,9l-11,19l-26,-10z" fill="#fff900"/><path d="M827,2169l26,9l-11,18l-26,-9z" fill="#fcff00"/><path d="M852,2177l26,8l-11,19l-27,-8z" fill="#f3ff00"/><path d="M876,2185l26,8l-11,19l-26,-8z" fill="#ebff00"/><path d="M900,2192l26,8l-11,20l-26,-8z" fill="#e4ff00"/><path d="M924,2200l26,7l-11,20l-26,-8z" fill="#deff00"/><path d="M948,2207l26,7l-11,20l-26,-7z" fill="#d7ff00"/><path d="M972,2214l26,7l-11,20l-26,-7z" fill="#d2ff00"/><path d="M996,2220l26,7l-11,20l-26,-7z" fill="#cdff00"/><path d="M1020,2226l26,7l-11,21l-26,-7z" fill="#c9ff00"/><path d="M1044,2232l26,6l-11,21l-25,-6z" fill="#c5ff00"/><path d="M1068,2238l26,6l-11,21l-25,-6z" fill="#c2ff00"/><path d="M1092,2243l26,6l-11,21l-25,-5z" fill="#bfff00"/><path d="M1116,2248l26,5l-11,22l-25,-5z" fill="#beff00"/><path d="M1140,2253l26,5l-11,22l-25,-5z" fill="#bcff00"/><path d="M1164,2257l26,5l-11,22l-25,-4z" fill="#bbff00"/><path d="M1188,2262l26,4l-11,22l-25,-4z" fill="#bbff00"/><path d="M1212,2266l26,3l-11,23l-26,-4z" fill="#bcff00"/><path d="M1236,2269l26,4l-11,23l-26,-4z" fill="#bdff00"/><path d="M1260,2273l26,3l-11,23l-26,-3z" fill="#beff00"/><path d="M1284,2276l26,3l-11,23l-26,-3z" fill="#c1ff00"/><path d="M1308,2278l26,3l-11,24l-26,-3z" fill="#c3ff00"/><path d="M1332,2281l26,2l-10,24l-26,-2z" fill="#c7ff00"/><path d="M1356,2283l26,2l-10,24l-26,-2z" fill="#cbff00"/><path d="M1380,2285l26,2l-10,24l-26,-2z" fill="#cfff00"/><path d="M1404,2286l26,2l-10,25l-26,-2z" fill="#d5ff00"/><path d="M1428,2288l26,1l-10,25l-26,-1z" fill="#daff00"/><path d="M1452,2289l26,0l-10,26l-26,-1z" fill="#e1ff00"/><path d="M1476,2289l26,1l-10,26l-26,-1z" fill="#e8ff00"/><path d="M1500,2290l27,0l-10,26l-27,0z" fill="#efff00"/><path d="M1525,2290l26,0l-10,26l-26,0z" fill="#f8ff00"/><path d="M1549,2290l26,-1l-10,27l-26,0z" fill="#fffe00"/><path d="M1573,2289l27,0l-10,26l-27,1z" fill="#fff400"/><path d="M1598,2289l26,-2l-10,28l-26,0z" fill="#ffea00"/><path d="M1622,2288l26,-2l-9,27l-27,2z" fill="#ffe000"/><path d="M1647,2286l26,-2l-10,28l-26,2z" fill="#ffd500"/><path d="M1671,2285l27,-2l-10,27l-27,2z" fill="#ffc900"/><path d="M1696,2283l26,-3l-9,28l-27,3z" fill="#ffbd00"/><path d="M1720,2280l27,-2l-10,28l-26,3z" fill="#ffb000"/><path d="M1745,2278l27,-3l-10,29l-27,2z" fill="#ffa200"/><path d="M1770,2275l27,-3l-10,29l-27,3z" fill="#ff9400"/><path d="M1795,2272l27,-4l-10,30l-27,3z" fill="#ff8600"/><path d="M1820,2269l27,-4l-10,29l-27,4z" fill="#ff7600"/><path d="M1845,2265l27,-4l-10,30l-27,4z" fill="#ff6600"/><path d="M1870,2261l27,-5l-9,31l-28,4z" fill="#ff5600"/><path d="M1895,2257l28,-5l-10,30l-27,5z" fill="#ff4500"/><path d="M1921,2252l27,-5l-10,31l-27,5z" fill="#ff3300"/><path d="M719,2149l27,11l-12,17l-26,-10z" fill="#ffe700"/><path d="M744,2159l26,10l-11,18l-27,-11z" fill="#fff200"/><path d="M768,2168l27,10l-12,18l-26,-10z" fill="#fffd00"/><path d="M793,2177l26,10l-11,18l-27,-10z" fill="#f7ff00"/><path d="M817,2186l26,9l-11,19l-26,-10z" fill="#eeff00"/><path d="M841,2194l26,9l-11,19l-26,-9z" fill="#e5ff00"/><path d="M866,2202l26,9l-11,19l-26,-9z" fill="#ddff00"/><path d="M890,2210l26,8l-11,20l-26,-9z" fill="#d5ff00"/><path d="M914,2218l26,8l-11,19l-26,-8z" fill="#ceff00"/><path d="M938,2225l26,8l-11,20l-26,-8z" fill="#c8ff00"/><path d="M962,2232l26,7l-11,21l-26,-8z" fill="#c2ff00"/><path d="M986,2239l26,7l-10,20l-26,-7z" fill="#bcff00"/><path d="M1010,2245l26,7l-10,21l-26,-7z" fill="#b8ff00"/><path d="M1034,2251l26,7l-10,21l-26,-7z" fill="#b4ff00"/><path d="M1058,2257l26,6l-10,22l-26,-7z" fill="#b0ff00"/><path d="M1082,2263l26,6l-10,21l-26,-6z" fill="#adff00"/><path d="M1106,2268l26,6l-10,21l-26,-5z" fill="#abff00"/><path d="M1130,2273l26,5l-10,22l-26,-5z" fill="#a9ff00"/><path d="M1154,2278l26,5l-10,22l-26,-5z" fill="#a8ff00"/><path d="M1178,2282l26,5l-10,22l-26,-4z" fill="#a8ff00"/><path d="M1202,2286l26,5l-10,22l-26,-4z" fill="#a8ff00"/><path d="M1226,2290l26,4l-10,23l-26,-4z" fill="#a8ff00"/><path d="M1250,2294l26,3l-10,24l-26,-4z" fill="#a9ff00"/><path d="M1274,2297l26,3l-10,24l-26,-4z" fill="#abff00"/><path d="M1298,2300l26,3l-10,24l-26,-3z" fill="#aeff00"/><path d="M1322,2303l26,2l-10,24l-26,-2z" fill="#b1ff00"/><path d="M1346,2305l26,3l-10,24l-26,-3z" fill="#b4ff00"/><path d="M1370,2307l26,2l-9,25l-27,-2z" fill="#b9ff00"/><path d="M1394,2309l27,2l-10,25l-26,-2z" fill="#bdff00"/><path d="M1419,2311l26,1l-10,25l-26,-2z" fill="#c3ff00"/><path d="M1443,2312l26,1l-10,25l-26,-1z" fill="#c9ff00"/><path d="M1467,2313l26,1l-10,25l-26,-1z" fill="#cfff00"/><path d="M1491,2314l26,0l-9,26l-27,-1z" fill="#d6ff00"/><path d="M1515,2314l27,0l-10,26l-26,0z" fill="#deff00"/><path d="M1540,2314l26,0l-10,26l-26,0z" fill="#e7ff00"/><path d="M1564,2314l27,-1l-10,27l-27,0z" fill="#efff00"/><path d="M1589,2313l26,0l-10,26l-26,1z" fill="#f9ff00"/><path d="M1613,2313l26,-2l-9,28l-27,0z" fill="#fffb00"/><path d="M1638,2312l26,-2l-10,27l-26,2z" fill="#fff000"/><path d="M1662,2310l27,-2l-10,28l-27,2z" fill="#ffe500"/><path d="M1687,2309l26,-3l-9,28l-27,2z" fill="#ffd900"/><path d="M1711,2307l27,-3l-9,28l-27,2z" fill="#ffcc00"/><path d="M1736,2304l27,-2l-10,28l-26,3z" fill="#ffbf00"/><path d="M1761,2302l27,-3l-10,29l-27,2z" fill="#ffb200"/><path d="M1786,2299l27,-3l-10,29l-27,3z" fill="#ffa300"/><path d="M1811,2296l27,-4l-10,30l-27,3z" fill="#ff9400"/><path d="M1836,2292l27,-4l-9,30l-28,4z" fill="#ff8500"/><path d="M1861,2289l27,-5l-9,30l-27,4z" fill="#ff7500"/><path d="M1886,2285l28,-5l-10,30l-27,5z" fill="#ff6400"/><path d="M1912,2280l27,-4l-9,30l-28,5z" fill="#ff5300"/><path d="M709,2165l26,11l-11,17l-27,-11z" fill="#fff300"/><path d="M733,2175l27,10l-11,18l-27,-10z" fill="#fffe00"/><path d="M758,2185l26,10l-11,18l-26,-11z" fill="#f5ff00"/><path d="M782,2194l27,10l-12,18l-26,-10z" fill="#eaff00"/><path d="M807,2203l26,9l-11,19l-26,-10z" fill="#e1ff00"/><path d="M831,2212l26,9l-11,18l-26,-9z" fill="#d7ff00"/><path d="M855,2220l27,9l-11,19l-27,-9z" fill="#cfff00"/><path d="M880,2228l26,8l-11,20l-26,-9z" fill="#c7ff00"/><path d="M904,2236l26,8l-11,20l-26,-9z" fill="#bfff00"/><path d="M928,2243l26,8l-11,20l-26,-8z" fill="#b8ff00"/><path d="M952,2251l26,7l-10,20l-27,-8z" fill="#b2ff00"/><path d="M976,2258l26,7l-10,20l-26,-7z" fill="#acff00"/><path d="M1000,2264l26,7l-10,21l-26,-7z" fill="#a7ff00"/><path d="M1024,2271l26,6l-10,21l-26,-7z" fill="#a3ff00"/><path d="M1049,2277l26,6l-11,21l-26,-6z" fill="#9fff00"/><path d="M1073,2283l26,5l-11,22l-26,-6z" fill="#9bff00"/><path d="M1097,2288l26,6l-11,21l-26,-6z" fill="#99ff00"/><path d="M1121,2293l26,6l-11,21l-26,-5z" fill="#97ff00"/><path d="M1145,2298l26,5l-11,22l-26,-5z" fill="#95ff00"/><path d="M1169,2303l26,5l-11,22l-26,-5z" fill="#94ff00"/><path d="M1193,2307l26,5l-10,22l-26,-4z" fill="#94ff00"/><path d="M1217,2311l26,4l-10,23l-26,-4z" fill="#94ff00"/><path d="M1241,2315l26,4l-10,23l-26,-4z" fill="#95ff00"/><path d="M1265,2319l26,3l-10,23l-26,-3z" fill="#96ff00"/><path d="M1289,2322l26,3l-10,24l-26,-4z" fill="#98ff00"/><path d="M1313,2325l26,3l-10,23l-26,-3z" fill="#9bff00"/><path d="M1337,2327l26,3l-10,24l-26,-3z" fill="#9eff00"/><path d="M1361,2330l26,2l-10,24l-26,-2z" fill="#a2ff00"/><path d="M1385,2332l26,2l-9,24l-27,-2z" fill="#a6ff00"/><path d="M1409,2334l27,1l-10,25l-26,-2z" fill="#abff00"/><path d="M1434,2335l26,1l-10,25l-26,-1z" fill="#b1ff00"/><path d="M1458,2336l26,1l-10,26l-26,-2z" fill="#b7ff00"/><path d="M1482,2337l26,1l-9,25l-27,-1z" fill="#beff00"/><path d="M1506,2338l27,0l-10,26l-26,-1z" fill="#c5ff00"/><path d="M1531,2338l26,0l-10,26l-26,0z" fill="#cdff00"/><path d="M1555,2338l27,0l-10,26l-27,0z" fill="#d6ff00"/><path d="M1580,2338l26,-1l-10,27l-26,0z" fill="#dfff00"/><path d="M1604,2337l27,0l-10,26l-27,1z" fill="#e9ff00"/><path d="M1629,2337l26,-2l-9,28l-27,0z" fill="#f3ff00"/><path d="M1653,2335l27,-1l-10,27l-26,2z" fill="#feff00"/><path d="M1678,2334l27,-2l-10,28l-27,2z" fill="#fff500"/><path d="M1703,2332l26,-2l-9,28l-27,2z" fill="#ffe800"/><path d="M1727,2330l27,-2l-9,28l-27,2z" fill="#ffdc00"/><path d="M1752,2328l27,-3l-9,29l-27,2z" fill="#ffce00"/><path d="M1777,2326l27,-3l-9,28l-27,3z" fill="#ffc100"/><path d="M1802,2323l27,-4l-9,30l-27,3z" fill="#ffb200"/><path d="M1827,2320l27,-4l-9,29l-27,4z" fill="#ffa300"/><path d="M1852,2316l28,-4l-10,30l-27,4z" fill="#ff9300"/><path d="M1878,2313l27,-5l-10,30l-27,4z" fill="#ff8300"/><path d="M1903,2309l27,-5l-9,30l-28,5z" fill="#ff7200"/><path d="M698,2181l27,11l-12,17l-26,-11z" fill="#fffe00"/><path d="M723,2191l26,11l-11,17l-27,-10z" fill="#f4ff00"/><path d="M747,2201l27,10l-11,18l-27,-10z" fill="#e9ff00"/><path d="M772,2211l26,10l-11,18l-26,-11z" fill="#deff00"/><path d="M796,2220l27,9l-11,19l-27,-10z" fill="#d4ff00"/><path d="M821,2229l26,9l-11,19l-26,-10z" fill="#caff00"/><path d="M845,2237l26,9l-11,19l-26,-9z" fill="#c1ff00"/><path d="M869,2246l27,8l-11,20l-26,-9z" fill="#b8ff00"/><path d="M894,2254l26,8l-11,20l-26,-9z" fill="#b1ff00"/><path d="M918,2261l26,9l-11,19l-26,-8z" fill="#a9ff00"/><path d="M942,2269l26,8l-10,20l-26,-8z" fill="#a3ff00"/><path d="M966,2276l27,8l-11,20l-26,-8z" fill="#9dff00"/><path d="M991,2283l26,7l-11,21l-26,-8z" fill="#97ff00"/><path d="M1015,2290l26,6l-11,21l-26,-7z" fill="#92ff00"/><path d="M1039,2296l26,6l-11,21l-26,-6z" fill="#8eff00"/><path d="M1063,2302l26,6l-10,21l-26,-6z" fill="#8aff00"/><path d="M1087,2308l26,6l-10,21l-26,-6z" fill="#87ff00"/><path d="M1111,2313l26,6l-10,21l-26,-5z" fill="#85ff00"/><path d="M1135,2318l26,6l-10,22l-26,-6z" fill="#83ff00"/><path d="M1159,2323l26,5l-10,22l-26,-5z" fill="#81ff00"/><path d="M1183,2328l26,5l-10,22l-26,-5z" fill="#81ff00"/><path d="M1207,2332l26,5l-10,22l-26,-4z" fill="#80ff00"/><path d="M1231,2336l26,4l-10,23l-26,-4z" fill="#81ff00"/><path d="M1256,2340l26,4l-10,23l-27,-4z" fill="#82ff00"/><path d="M1280,2343l26,4l-10,23l-26,-4z" fill="#83ff00"/><path d="M1304,2347l26,3l-10,23l-26,-3z" fill="#86ff00"/><path d="M1328,2349l26,3l-10,24l-26,-3z" fill="#89ff00"/><path d="M1352,2352l26,2l-10,25l-26,-3z" fill="#8cff00"/><path d="M1376,2354l26,2l-10,25l-26,-3z" fill="#90ff00"/><path d="M1400,2356l26,2l-9,25l-27,-2z" fill="#95ff00"/><path d="M1425,2358l26,2l-10,24l-26,-1z" fill="#9aff00"/><path d="M1449,2359l26,2l-10,25l-26,-2z" fill="#9fff00"/><path d="M1473,2361l26,1l-9,25l-27,-1z" fill="#a6ff00"/><path d="M1497,2361l27,1l-10,26l-26,-1z" fill="#adff00"/><path d="M1522,2362l26,0l-10,26l-26,0z" fill="#b4ff00"/><path d="M1546,2362l27,0l-10,26l-27,0z" fill="#bdff00"/><path d="M1571,2362l26,0l-10,26l-26,0z" fill="#c5ff00"/><path d="M1595,2362l27,-1l-10,27l-27,0z" fill="#cfff00"/><path d="M1620,2361l26,0l-9,26l-27,1z" fill="#d9ff00"/><path d="M1644,2361l27,-2l-10,28l-26,1z" fill="#e3ff00"/><path d="M1669,2359l27,-1l-10,27l-27,2z" fill="#eeff00"/><path d="M1694,2358l26,-2l-9,28l-27,2z" fill="#faff00"/><path d="M1718,2356l27,-2l-9,28l-27,2z" fill="#fff800"/><path d="M1743,2354l27,-2l-9,28l-27,2z" fill="#ffeb00"/><path d="M1768,2352l27,-3l-9,29l-27,2z" fill="#ffdd00"/><path d="M1793,2349l27,-3l-9,29l-27,3z" fill="#ffcf00"/><path d="M1818,2347l28,-4l-10,29l-27,4z" fill="#ffc100"/><path d="M1844,2343l27,-3l-10,29l-27,4z" fill="#ffb100"/><path d="M1869,2340l27,-4l-9,30l-28,4z" fill="#ffa100"/><path d="M1894,2336l28,-4l-10,30l-27,4z" fill="#ff9100"/><path d="M688,2197l26,11l-11,17l-27,-11z" fill="#f5ff00"/><path d="M712,2207l27,11l-11,18l-27,-11z" fill="#e9ff00"/><path d="M737,2217l27,11l-12,18l-26,-11z" fill="#ddff00"/><path d="M762,2227l26,10l-11,18l-27,-10z" fill="#d2ff00"/><path d="M786,2237l26,9l-11,19l-26,-10z" fill="#c7ff00"/><path d="M811,2246l26,9l-11,19l-26,-10z" fill="#bdff00"/><path d="M835,2255l26,9l-11,19l-26,-10z" fill="#b4ff00"/><path d="M859,2263l27,9l-11,19l-27,-9z" fill="#abff00"/><path d="M884,2271l26,9l-11,19l-26,-9z" fill="#a2ff00"/><path d="M908,2279l26,9l-10,19l-27,-8z" fill="#9bff00"/><path d="M932,2287l26,8l-10,20l-26,-8z" fill="#94ff00"/><path d="M957,2295l26,7l-11,20l-26,-8z" fill="#8dff00"/><path d="M981,2302l26,7l-11,20l-26,-7z" fill="#87ff00"/><path d="M1005,2309l26,7l-10,20l-27,-7z" fill="#82ff00"/><path d="M1029,2315l26,7l-10,21l-26,-7z" fill="#7dff00"/><path d="M1053,2321l26,7l-10,21l-26,-7z" fill="#79ff00"/><path d="M1077,2327l26,6l-10,22l-26,-7z" fill="#76ff00"/><path d="M1102,2333l26,6l-11,21l-26,-6z" fill="#73ff00"/><path d="M1126,2338l26,6l-10,22l-27,-6z" fill="#71ff00"/><path d="M1150,2344l26,5l-10,22l-26,-6z" fill="#6fff00"/><path d="M1174,2348l26,5l-10,22l-26,-5z" fill="#6eff00"/><path d="M1198,2353l26,4l-10,23l-26,-5z" fill="#6dff00"/><path d="M1222,2357l26,4l-10,23l-26,-4z" fill="#6dff00"/><path d="M1246,2361l26,4l-10,23l-26,-4z" fill="#6eff00"/><path d="M1270,2365l26,3l-10,24l-26,-4z" fill="#6fff00"/><path d="M1294,2368l27,3l-10,24l-26,-4z" fill="#71ff00"/><path d="M1319,2371l26,3l-10,24l-26,-3z" fill="#73ff00"/><path d="M1343,2374l26,3l-10,24l-26,-3z" fill="#76ff00"/><path d="M1367,2377l26,2l-10,24l-26,-3z" fill="#7aff00"/><path d="M1391,2379l26,2l-9,24l-27,-2z" fill="#7eff00"/><path d="M1415,2381l27,2l-10,24l-26,-2z" fill="#83ff00"/><path d="M1440,2382l26,2l-10,25l-26,-2z" fill="#88ff00"/><path d="M1464,2384l26,1l-9,25l-27,-1z" fill="#8eff00"/><path d="M1488,2385l27,1l-10,25l-26,-1z" fill="#95ff00"/><path d="M1513,2386l26,0l-9,26l-27,-1z" fill="#9cff00"/><path d="M1537,2386l27,1l-10,25l-26,0z" fill="#a4ff00"/><path d="M1562,2387l26,-1l-9,27l-27,-1z" fill="#acff00"/><path d="M1586,2386l27,0l-10,27l-26,0z" fill="#b5ff00"/><path d="M1611,2386l26,0l-9,26l-27,1z" fill="#bfff00"/><path d="M1635,2386l27,-1l-9,27l-27,0z" fill="#c9ff00"/><path d="M1660,2385l27,-2l-10,28l-26,1z" fill="#d3ff00"/><path d="M1685,2384l27,-2l-10,27l-27,2z" fill="#dfff00"/><path d="M1710,2382l27,-2l-10,28l-27,2z" fill="#ebff00"/><path d="M1735,2380l26,-2l-9,28l-27,2z" fill="#f7ff00"/><path d="M1759,2378l28,-2l-10,28l-27,2z" fill="#fffa00"/><path d="M1785,2376l27,-3l-10,29l-27,2z" fill="#ffec00"/><path d="M1810,2373l27,-3l-10,29l-27,3z" fill="#ffde00"/><path d="M1835,2370l27,-3l-9,29l-28,3z" fill="#ffcf00"/><path d="M1860,2367l27,-3l-9,29l-27,4z" fill="#ffbf00"/><path d="M1885,2364l28,-4l-10,30l-27,3z" fill="#ffaf00"/><path d="M677,2213l27,11l-12,17l-26,-11z" fill="#ebff00"/><path d="M702,2223l27,11l-12,18l-27,-12z" fill="#deff00"/><path d="M727,2234l26,10l-11,18l-27,-11z" fill="#d2ff00"/><path d="M751,2244l27,10l-11,18l-27,-11z" fill="#c6ff00"/><path d="M776,2253l26,10l-11,18l-26,-10z" fill="#bbff00"/><path d="M800,2263l27,9l-11,19l-27,-10z" fill="#b1ff00"/><path d="M825,2272l26,9l-11,19l-26,-10z" fill="#a7ff00"/><path d="M849,2281l27,9l-11,19l-27,-10z" fill="#9eff00"/><path d="M874,2289l26,9l-11,19l-26,-9z" fill="#95ff00"/><path d="M898,2297l26,9l-10,19l-27,-9z" fill="#8dff00"/><path d="M922,2305l27,8l-11,20l-26,-8z" fill="#85ff00"/><path d="M947,2313l26,8l-11,20l-26,-9z" fill="#7eff00"/><path d="M971,2320l26,8l-10,20l-27,-8z" fill="#78ff00"/><path d="M995,2327l26,8l-10,20l-26,-8z" fill="#72ff00"/><path d="M1019,2334l27,7l-11,21l-26,-8z" fill="#6dff00"/><path d="M1044,2341l26,6l-11,21l-26,-7z" fill="#69ff00"/><path d="M1068,2347l26,6l-10,21l-27,-6z" fill="#65ff00"/><path d="M1092,2353l26,6l-10,21l-26,-6z" fill="#62ff00"/><path d="M1116,2358l26,6l-10,22l-26,-6z" fill="#5fff00"/><path d="M1140,2364l26,5l-10,22l-26,-6z" fill="#5dff00"/><path d="M1164,2369l27,5l-11,22l-26,-6z" fill="#5bff00"/><path d="M1189,2373l26,5l-10,23l-26,-6z" fill="#5aff00"/><path d="M1213,2378l26,4l-10,23l-26,-5z" fill="#5aff00"/><path d="M1237,2382l26,4l-10,23l-26,-4z" fill="#5aff00"/><path d="M1261,2386l26,4l-10,23l-26,-4z" fill="#5bff00"/><path d="M1285,2390l26,3l-9,23l-27,-3z" fill="#5cff00"/><path d="M1309,2393l27,3l-10,24l-26,-4z" fill="#5eff00"/><path d="M1334,2396l26,3l-10,24l-26,-4z" fill="#61ff00"/><path d="M1358,2399l26,2l-10,24l-26,-3z" fill="#64ff00"/><path d="M1382,2401l26,3l-9,24l-27,-3z" fill="#68ff00"/><path d="M1406,2403l27,2l-10,25l-26,-2z" fill="#6dff00"/><path d="M1431,2405l26,2l-10,25l-26,-2z" fill="#72ff00"/><path d="M1455,2407l26,1l-9,25l-27,-1z" fill="#77ff00"/><path d="M1479,2408l27,1l-10,26l-26,-2z" fill="#7dff00"/><path d="M1504,2409l26,1l-9,26l-27,-1z" fill="#84ff00"/><path d="M1528,2410l27,1l-10,25l-26,0z" fill="#8bff00"/><path d="M1553,2411l26,0l-9,26l-27,-1z" fill="#93ff00"/><path d="M1577,2411l27,0l-10,26l-26,0z" fill="#9cff00"/><path d="M1602,2411l27,-1l-10,27l-27,0z" fill="#a5ff00"/><path d="M1627,2410l26,0l-9,26l-27,1z" fill="#afff00"/><path d="M1651,2410l27,-1l-9,27l-27,0z" fill="#b9ff00"/><path d="M1676,2409l27,-2l-10,28l-26,1z" fill="#c4ff00"/><path d="M1701,2408l27,-2l-10,28l-27,1z" fill="#d0ff00"/><path d="M1726,2406l27,-2l-10,28l-27,2z" fill="#dcff00"/><path d="M1751,2404l27,-2l-10,28l-27,2z" fill="#e8ff00"/><path d="M1776,2402l27,-2l-10,28l-27,2z" fill="#f6ff00"/><path d="M1801,2400l27,-3l-9,29l-28,2z" fill="#fffa00"/><path d="M1826,2397l27,-3l-9,29l-27,3z" fill="#ffec00"/><path d="M1851,2394l28,-3l-10,29l-27,3z" fill="#ffdd00"/><path d="M1877,2391l27,-3l-9,29l-28,4z" fill="#ffcd00"/><path d="M666,2228l27,12l-11,17l-27,-12z" fill="#e1ff00"/><path d="M691,2239l27,11l-11,18l-27,-12z" fill="#d3ff00"/><path d="M716,2250l27,11l-11,17l-27,-11z" fill="#c7ff00"/><path d="M741,2260l26,11l-11,17l-26,-11z" fill="#bbff00"/><path d="M765,2270l27,10l-11,18l-27,-10z" fill="#afff00"/><path d="M790,2279l27,10l-11,19l-27,-11z" fill="#a5ff00"/><path d="M815,2289l26,9l-11,19l-26,-10z" fill="#9aff00"/><path d="M839,2298l27,9l-11,19l-27,-10z" fill="#91ff00"/><path d="M864,2307l26,9l-11,19l-26,-10z" fill="#88ff00"/><path d="M888,2315l26,9l-10,19l-27,-9z" fill="#7fff00"/><path d="M912,2323l27,9l-11,19l-26,-9z" fill="#77ff00"/><path d="M937,2331l26,8l-10,20l-27,-9z" fill="#70ff00"/><path d="M961,2339l26,7l-10,20l-26,-8z" fill="#69ff00"/><path d="M985,2346l27,7l-11,21l-26,-8z" fill="#63ff00"/><path d="M1010,2353l26,7l-10,21l-27,-8z" fill="#5eff00"/><path d="M1034,2360l26,7l-10,20l-26,-7z" fill="#59ff00"/><path d="M1058,2366l26,7l-10,21l-26,-7z" fill="#55ff00"/><path d="M1082,2372l27,6l-11,22l-26,-7z" fill="#51ff00"/><path d="M1107,2378l26,6l-10,21l-27,-6z" fill="#4eff00"/><path d="M1131,2384l26,5l-10,22l-26,-6z" fill="#4bff00"/><path d="M1155,2389l26,5l-10,22l-26,-6z" fill="#49ff00"/><path d="M1179,2394l26,5l-10,22l-26,-5z" fill="#48ff00"/><path d="M1203,2399l27,4l-10,23l-27,-5z" fill="#47ff00"/><path d="M1228,2403l26,4l-10,23l-26,-5z" fill="#47ff00"/><path d="M1252,2407l26,4l-10,23l-26,-4z" fill="#47ff00"/><path d="M1276,2411l26,4l-10,23l-26,-4z" fill="#49ff00"/><path d="M1300,2414l26,4l-9,23l-27,-3z" fill="#4aff00"/><path d="M1325,2418l26,3l-10,23l-26,-3z" fill="#4cff00"/><path d="M1349,2421l26,3l-10,23l-26,-3z" fill="#4fff00"/><path d="M1373,2423l26,3l-9,24l-27,-3z" fill="#53ff00"/><path d="M1397,2426l27,2l-10,24l-26,-2z" fill="#57ff00"/><path d="M1422,2428l26,2l-10,24l-26,-2z" fill="#5bff00"/><path d="M1446,2430l26,1l-9,25l-27,-2z" fill="#60ff00"/><path d="M1470,2431l27,2l-10,25l-26,-2z" fill="#66ff00"/><path d="M1495,2433l26,1l-9,25l-27,-1z" fill="#6dff00"/><path d="M1519,2434l27,0l-10,26l-26,-1z" fill="#73ff00"/><path d="M1544,2434l26,1l-9,26l-27,-1z" fill="#7bff00"/><path d="M1568,2435l27,0l-9,26l-27,0z" fill="#83ff00"/><path d="M1593,2435l27,0l-10,26l-26,0z" fill="#8cff00"/><path d="M1618,2435l26,-1l-9,27l-27,0z" fill="#95ff00"/><path d="M1642,2434l27,0l-9,27l-27,0z" fill="#9fff00"/><path d="M1667,2434l27,-1l-9,27l-27,1z" fill="#aaff00"/><path d="M1692,2433l27,-2l-9,28l-27,1z" fill="#b5ff00"/><path d="M1717,2432l27,-2l-9,28l-27,1z" fill="#c1ff00"/><path d="M1742,2430l27,-2l-9,28l-27,2z" fill="#cdff00"/><path d="M1767,2428l27,-2l-9,28l-27,2z" fill="#daff00"/><path d="M1792,2426l27,-2l-9,28l-27,2z" fill="#e7ff00"/><path d="M1817,2424l28,-3l-10,29l-27,2z" fill="#f5ff00"/><path d="M1843,2421l27,-3l-9,29l-28,3z" fill="#fffa00"/><path d="M1868,2418l28,-3l-10,29l-27,3z" fill="#ffeb00"/><path d="M656,2244l27,12l-11,17l-27,-13z" fill="#d7ff00"/><path d="M681,2255l27,11l-12,18l-26,-12z" fill="#c9ff00"/><path d="M706,2266l26,11l-11,17l-27,-11z" fill="#bcff00"/><path d="M730,2276l27,11l-11,18l-27,-12z" fill="#b0ff00"/><path d="M755,2286l27,11l-11,18l-27,-11z" fill="#a4ff00"/><path d="M780,2296l27,10l-11,18l-27,-10z" fill="#99ff00"/><path d="M805,2306l26,10l-11,18l-26,-10z" fill="#8eff00"/><path d="M829,2315l27,10l-11,18l-27,-10z" fill="#84ff00"/><path d="M854,2324l26,9l-11,19l-26,-10z" fill="#7bff00"/><path d="M878,2333l27,9l-11,19l-27,-10z" fill="#72ff00"/><path d="M903,2341l26,9l-11,19l-26,-9z" fill="#6aff00"/><path d="M927,2349l26,8l-10,20l-27,-9z" fill="#62ff00"/><path d="M951,2357l27,8l-11,20l-26,-9z" fill="#5bff00"/><path d="M976,2364l26,8l-10,20l-27,-8z" fill="#55ff00"/><path d="M1000,2372l26,7l-10,20l-26,-7z" fill="#4fff00"/><path d="M1024,2379l27,7l-11,20l-26,-7z" fill="#49ff00"/><path d="M1049,2385l26,7l-10,21l-27,-7z" fill="#45ff00"/><path d="M1073,2392l26,6l-10,21l-26,-7z" fill="#41ff00"/><path d="M1097,2398l26,6l-10,21l-26,-6z" fill="#3dff00"/><path d="M1121,2403l27,6l-10,22l-27,-6z" fill="#3aff00"/><path d="M1146,2409l26,5l-10,22l-26,-6z" fill="#38ff00"/><path d="M1170,2414l26,5l-10,22l-26,-5z" fill="#36ff00"/><path d="M1194,2419l26,5l-10,22l-26,-5z" fill="#35ff00"/><path d="M1218,2424l27,4l-10,23l-27,-5z" fill="#34ff00"/><path d="M1243,2428l26,4l-10,23l-26,-5z" fill="#34ff00"/><path d="M1267,2432l26,4l-10,23l-26,-4z" fill="#35ff00"/><path d="M1291,2436l26,4l-9,23l-27,-4z" fill="#36ff00"/><path d="M1315,2439l27,4l-10,23l-26,-4z" fill="#38ff00"/><path d="M1340,2442l26,4l-10,23l-26,-3z" fill="#3aff00"/><path d="M1364,2445l26,3l-9,24l-27,-3z" fill="#3dff00"/><path d="M1388,2448l27,3l-10,24l-26,-3z" fill="#41ff00"/><path d="M1413,2450l26,3l-10,24l-26,-2z" fill="#45ff00"/><path d="M1437,2452l27,2l-10,25l-27,-2z" fill="#4aff00"/><path d="M1462,2454l26,2l-10,25l-26,-2z" fill="#4fff00"/><path d="M1486,2456l26,1l-9,25l-27,-1z" fill="#55ff00"/><path d="M1511,2457l26,1l-9,25l-27,-1z" fill="#5cff00"/><path d="M1535,2458l27,1l-10,25l-26,-1z" fill="#63ff00"/><path d="M1560,2459l26,0l-9,26l-27,-1z" fill="#6bff00"/><path d="M1584,2459l27,0l-10,26l-26,0z" fill="#73ff00"/><path d="M1609,2459l27,0l-10,26l-26,0z" fill="#7cff00"/><path d="M1634,2459l27,0l-10,26l-27,0z" fill="#86ff00"/><path d="M1659,2459l26,-1l-9,27l-27,0z" fill="#90ff00"/><path d="M1683,2458l27,-1l-9,27l-27,1z" fill="#9bff00"/><path d="M1708,2457l27,-1l-9,27l-27,1z" fill="#a6ff00"/><path d="M1733,2456l27,-2l-9,28l-27,1z" fill="#b2ff00"/><path d="M1758,2454l28,-2l-10,28l-27,2z" fill="#beff00"/><path d="M1783,2452l28,-2l-10,28l-27,2z" fill="#cbff00"/><path d="M1809,2450l27,-2l-9,28l-28,2z" fill="#d9ff00"/><path d="M1834,2448l27,-3l-9,29l-27,2z" fill="#e7ff00"/><path d="M1859,2445l28,-3l-9,29l-28,3z" fill="#f6ff00"/><path d="M645,2259l27,12l-11,17l-27,-12z" fill="#ceff00"/><path d="M670,2270l27,12l-11,17l-27,-12z" fill="#c0ff00"/><path d="M695,2281l27,12l-11,17l-27,-12z" fill="#b3ff00"/><path d="M720,2292l27,11l-11,18l-27,-12z" fill="#a6ff00"/><path d="M745,2302l27,11l-11,18l-27,-11z" fill="#99ff00"/><path d="M770,2313l26,10l-11,18l-26,-11z" fill="#8eff00"/><path d="M794,2322l27,11l-11,18l-27,-11z" fill="#83ff00"/><path d="M819,2332l27,10l-11,18l-27,-10z" fill="#78ff00"/><path d="M844,2341l26,10l-11,18l-26,-9z" fill="#6fff00"/><path d="M868,2350l27,9l-11,19l-27,-9z" fill="#65ff00"/><path d="M893,2359l26,9l-10,19l-27,-9z" fill="#5dff00"/><path d="M917,2367l27,9l-11,19l-26,-9z" fill="#55ff00"/><path d="M942,2375l26,8l-10,20l-27,-9z" fill="#4dff00"/><path d="M966,2383l26,8l-10,20l-26,-9z" fill="#46ff00"/><path d="M990,2390l27,8l-11,20l-26,-8z" fill="#40ff00"/><path d="M1015,2397l26,8l-10,20l-27,-8z" fill="#3aff00"/><path d="M1039,2404l26,7l-10,21l-26,-7z" fill="#35ff00"/><path d="M1063,2411l27,7l-10,20l-27,-7z" fill="#31ff00"/><path d="M1088,2417l26,7l-10,21l-26,-7z" fill="#2dff00"/><path d="M1112,2423l26,6l-10,22l-26,-7z" fill="#29ff00"/><path d="M1136,2429l27,6l-10,21l-27,-6z" fill="#27ff00"/><path d="M1161,2434l26,6l-10,22l-26,-6z" fill="#25ff00"/><path d="M1185,2439l26,6l-10,22l-26,-6z" fill="#23ff00"/><path d="M1209,2444l26,5l-9,22l-27,-5z" fill="#22ff00"/><path d="M1233,2449l27,4l-10,23l-26,-5z" fill="#22ff00"/><path d="M1258,2453l26,4l-10,23l-26,-5z" fill="#22ff00"/><path d="M1282,2457l26,4l-9,23l-27,-4z" fill="#23ff00"/><path d="M1306,2461l27,3l-10,24l-26,-4z" fill="#24ff00"/><path d="M1331,2464l26,4l-10,23l-26,-4z" fill="#26ff00"/><path d="M1355,2467l26,3l-9,24l-27,-3z" fill="#29ff00"/><path d="M1379,2470l27,3l-10,24l-26,-3z" fill="#2cff00"/><path d="M1404,2473l26,2l-9,24l-27,-2z" fill="#30ff00"/><path d="M1428,2475l27,2l-10,25l-26,-3z" fill="#34ff00"/><path d="M1453,2477l26,2l-9,25l-27,-3z" fill="#39ff00"/><path d="M1477,2479l27,1l-10,25l-26,-2z" fill="#3fff00"/><path d="M1502,2480l26,2l-9,25l-27,-2z" fill="#45ff00"/><path d="M1526,2481l27,1l-10,26l-26,-1z" fill="#4cff00"/><path d="M1551,2482l26,1l-9,26l-27,-1z" fill="#53ff00"/><path d="M1576,2483l26,0l-9,26l-27,0z" fill="#5bff00"/><path d="M1600,2483l27,0l-9,27l-27,-1z" fill="#64ff00"/><path d="M1625,2483l27,0l-10,27l-26,0z" fill="#6dff00"/><path d="M1650,2483l27,0l-10,26l-27,1z" fill="#76ff00"/><path d="M1675,2483l27,-1l-10,27l-27,0z" fill="#81ff00"/><path d="M1700,2482l27,-1l-10,27l-27,1z" fill="#8cff00"/><path d="M1725,2481l27,-1l-10,27l-27,1z" fill="#97ff00"/><path d="M1750,2480l27,-2l-9,28l-28,1z" fill="#a3ff00"/><path d="M1775,2478l27,-2l-9,28l-27,2z" fill="#b0ff00"/><path d="M1800,2476l27,-2l-9,28l-27,2z" fill="#bdff00"/><path d="M1825,2474l28,-2l-9,28l-28,2z" fill="#cbff00"/><path d="M1851,2472l27,-3l-9,29l-27,2z" fill="#daff00"/><path d="M635,2274l27,13l-11,16l-28,-12z" fill="#c5ff00"/><path d="M660,2286l27,12l-11,17l-27,-13z" fill="#b7ff00"/><path d="M685,2297l27,12l-11,17l-27,-12z" fill="#a9ff00"/><path d="M710,2308l27,11l-11,18l-27,-12z" fill="#9cff00"/><path d="M735,2319l27,11l-11,17l-27,-11z" fill="#8fff00"/><path d="M760,2329l26,11l-11,18l-26,-11z" fill="#83ff00"/><path d="M784,2339l27,11l-11,18l-27,-11z" fill="#78ff00"/><path d="M809,2349l27,10l-11,18l-27,-10z" fill="#6dff00"/><path d="M834,2358l26,10l-10,19l-27,-11z" fill="#63ff00"/><path d="M858,2367l27,10l-11,19l-26,-10z" fill="#59ff00"/><path d="M883,2376l26,9l-10,19l-27,-9z" fill="#50ff00"/><path d="M907,2385l27,9l-11,19l-26,-9z" fill="#48ff00"/><path d="M932,2393l26,9l-10,19l-27,-9z" fill="#40ff00"/><path d="M956,2401l27,8l-11,20l-26,-9z" fill="#38ff00"/><path d="M981,2409l26,8l-10,20l-27,-9z" fill="#32ff00"/><path d="M1005,2416l27,8l-11,20l-26,-8z" fill="#2cff00"/><path d="M1030,2423l26,7l-10,21l-27,-8z" fill="#26ff00"/><path d="M1054,2430l26,7l-10,21l-26,-8z" fill="#21ff00"/><path d="M1078,2436l27,7l-10,21l-27,-7z" fill="#1dff00"/><path d="M1103,2443l26,6l-10,21l-26,-7z" fill="#19ff00"/><path d="M1127,2448l26,7l-10,21l-26,-6z" fill="#16ff00"/><path d="M1151,2454l27,6l-10,22l-27,-6z" fill="#14ff00"/><path d="M1176,2459l26,6l-10,22l-26,-6z" fill="#12ff00"/><path d="M1200,2465l26,5l-10,22l-26,-6z" fill="#10ff00"/><path d="M1224,2469l27,5l-10,23l-27,-6z" fill="#0fff00"/><path d="M1249,2474l26,4l-10,23l-26,-5z" fill="#0fff00"/><path d="M1273,2478l26,4l-10,23l-26,-4z" fill="#10ff00"/><path d="M1297,2482l27,4l-10,23l-26,-4z" fill="#11ff00"/><path d="M1322,2486l26,3l-10,24l-26,-4z" fill="#12ff00"/><path d="M1346,2489l26,3l-9,24l-27,-4z" fill="#15ff00"/><path d="M1370,2492l27,3l-10,24l-26,-3z" fill="#17ff00"/><path d="M1395,2495l26,3l-9,24l-27,-3z" fill="#1bff00"/><path d="M1419,2497l27,3l-10,24l-26,-3z" fill="#1fff00"/><path d="M1444,2500l26,2l-9,24l-27,-2z" fill="#23ff00"/><path d="M1468,2502l27,1l-10,25l-26,-2z" fill="#29ff00"/><path d="M1493,2503l26,2l-9,25l-27,-2z" fill="#2eff00"/><path d="M1517,2505l27,1l-9,25l-27,-1z" fill="#35ff00"/><path d="M1542,2506l27,1l-10,25l-26,-1z" fill="#3cff00"/><path d="M1567,2507l26,0l-9,26l-27,-1z" fill="#43ff00"/><path d="M1591,2507l27,1l-9,26l-27,-1z" fill="#4bff00"/><path d="M1616,2508l27,0l-9,26l-27,0z" fill="#54ff00"/><path d="M1641,2508l27,-1l-9,27l-27,0z" fill="#5dff00"/><path d="M1666,2507l27,0l-9,27l-27,0z" fill="#67ff00"/><path d="M1691,2507l27,-1l-9,27l-27,1z" fill="#72ff00"/><path d="M1716,2506l27,-1l-9,27l-27,1z" fill="#7dff00"/><path d="M1741,2505l27,-1l-9,27l-27,1z" fill="#89ff00"/><path d="M1766,2504l28,-2l-10,28l-27,1z" fill="#95ff00"/><path d="M1791,2502l28,-2l-9,28l-28,2z" fill="#a2ff00"/><path d="M1817,2500l27,-2l-9,28l-27,2z" fill="#afff00"/><path d="M1842,2498l28,-2l-10,28l-27,3z" fill="#beff00"/><path d="M624,2289l27,13l-11,17l-27,-13z" fill="#bdff00"/><path d="M649,2301l27,13l-11,16l-27,-12z" fill="#aeff00"/><path d="M674,2313l27,12l-11,17l-27,-13z" fill="#a0ff00"/><path d="M699,2324l27,12l-11,17l-27,-12z" fill="#92ff00"/><path d="M724,2335l27,11l-11,18l-27,-12z" fill="#85ff00"/><path d="M749,2345l27,11l-11,18l-27,-11z" fill="#79ff00"/><path d="M774,2355l27,11l-11,18l-27,-11z" fill="#6dff00"/><path d="M799,2365l27,11l-11,18l-27,-11z" fill="#62ff00"/><path d="M824,2375l26,10l-10,19l-27,-11z" fill="#57ff00"/><path d="M848,2384l27,10l-11,19l-26,-10z" fill="#4dff00"/><path d="M873,2394l27,9l-11,19l-27,-10z" fill="#44ff00"/><path d="M898,2402l26,9l-10,20l-27,-10z" fill="#3bff00"/><path d="M922,2411l27,9l-11,19l-26,-9z" fill="#33ff00"/><path d="M947,2419l26,8l-10,20l-27,-9z" fill="#2bff00"/><path d="M971,2427l27,8l-11,20l-26,-9z" fill="#24ff00"/><path d="M996,2434l26,8l-10,20l-27,-8z" fill="#1dff00"/><path d="M1020,2442l26,7l-10,21l-26,-8z" fill="#17ff00"/><path d="M1045,2449l26,7l-10,21l-27,-8z" fill="#12ff00"/><path d="M1069,2455l26,7l-10,21l-26,-7z" fill="#0dff00"/><path d="M1093,2462l27,7l-10,21l-27,-7z" fill="#09ff00"/><path d="M1118,2468l26,6l-10,22l-26,-7z" fill="#06ff00"/><path d="M1142,2474l26,6l-10,21l-26,-6z" fill="#03ff00"/><path d="M1166,2480l27,5l-10,22l-27,-6z" fill="#01ff00"/><path d="M1191,2485l26,5l-10,22l-26,-6z" fill="#00ff01"/><path d="M1215,2490l26,5l-9,22l-27,-5z" fill="#00ff02"/><path d="M1240,2494l26,5l-10,23l-26,-5z" fill="#00ff03"/><path d="M1264,2499l26,4l-10,23l-26,-5z" fill="#00ff03"/><path d="M1288,2503l27,4l-10,23l-26,-4z" fill="#00ff02"/><path d="M1313,2507l26,4l-10,23l-26,-4z" fill="#00ff01"/><path d="M1337,2511l26,3l-9,23l-27,-3z" fill="#01ff00"/><path d="M1362,2514l26,3l-10,24l-26,-4z" fill="#03ff00"/><path d="M1386,2517l26,3l-9,24l-27,-4z" fill="#06ff00"/><path d="M1410,2520l27,2l-10,24l-26,-3z" fill="#0aff00"/><path d="M1435,2522l26,2l-9,25l-27,-3z" fill="#0eff00"/><path d="M1459,2524l27,2l-9,25l-27,-2z" fill="#13ff00"/><path d="M1484,2526l27,2l-10,25l-26,-2z" fill="#18ff00"/><path d="M1509,2528l26,1l-9,25l-27,-1z" fill="#1eff00"/><path d="M1533,2529l27,1l-9,26l-27,-2z" fill="#25ff00"/><path d="M1558,2530l27,1l-10,26l-26,-2z" fill="#2cff00"/><path d="M1583,2531l27,1l-10,25l-27,0z" fill="#34ff00"/><path d="M1608,2532l26,0l-9,26l-27,-1z" fill="#3cff00"/><path d="M1632,2532l27,0l-9,26l-27,0z" fill="#45ff00"/><path d="M1657,2532l27,0l-9,26l-27,0z" fill="#4fff00"/><path d="M1682,2532l27,-1l-9,27l-27,0z" fill="#59ff00"/><path d="M1707,2531l27,-1l-9,27l-27,1z" fill="#63ff00"/><path d="M1732,2530l28,-1l-10,27l-27,1z" fill="#6fff00"/><path d="M1758,2529l27,-1l-9,27l-28,1z" fill="#7bff00"/><path d="M1783,2528l27,-2l-9,28l-27,1z" fill="#87ff00"/><path d="M1808,2526l28,-2l-10,28l-27,2z" fill="#94ff00"/><path d="M1834,2524l27,-2l-9,28l-28,2z" fill="#a2ff00"/><path d="M614,2304l27,13l-11,17l-28,-14z" fill="#b5ff00"/><path d="M639,2316l27,13l-11,17l-27,-13z" fill="#a6ff00"/><path d="M664,2328l27,12l-11,17l-27,-12z" fill="#97ff00"/><path d="M689,2339l27,12l-11,18l-27,-13z" fill="#89ff00"/><path d="M714,2351l27,11l-11,18l-27,-12z" fill="#7cff00"/><path d="M739,2361l27,12l-11,17l-27,-11z" fill="#6fff00"/><path d="M764,2372l27,11l-11,18l-27,-12z" fill="#63ff00"/><path d="M789,2382l27,11l-11,18l-27,-11z" fill="#57ff00"/><path d="M814,2392l26,10l-10,19l-27,-11z" fill="#4cff00"/><path d="M838,2402l27,10l-10,18l-27,-10z" fill="#42ff00"/><path d="M863,2411l27,10l-11,18l-26,-10z" fill="#38ff00"/><path d="M888,2420l26,9l-10,19l-27,-9z" fill="#2fff00"/><path d="M912,2429l27,9l-10,19l-27,-9z" fill="#26ff00"/><path d="M937,2437l27,9l-11,19l-26,-9z" fill="#1eff00"/><path d="M962,2445l26,8l-10,20l-27,-9z" fill="#16ff00"/><path d="M986,2453l27,8l-11,20l-26,-8z" fill="#10ff00"/><path d="M1011,2460l26,8l-10,20l-27,-8z" fill="#09ff00"/><path d="M1035,2468l26,7l-10,20l-26,-7z" fill="#04ff00"/><path d="M1060,2475l26,7l-10,20l-27,-7z" fill="#00ff01"/><path d="M1084,2481l26,7l-10,21l-26,-7z" fill="#00ff06"/><path d="M1108,2488l27,6l-10,21l-27,-7z" fill="#00ff0a"/><path d="M1133,2494l26,6l-10,21l-26,-6z" fill="#00ff0d"/><path d="M1157,2499l27,6l-10,22l-27,-6z" fill="#00ff10"/><path d="M1182,2505l26,5l-10,22l-26,-6z" fill="#00ff12"/><path d="M1206,2510l26,5l-9,22l-27,-5z" fill="#00ff14"/><path d="M1230,2515l27,5l-10,22l-26,-5z" fill="#00ff15"/><path d="M1255,2520l26,4l-10,23l-26,-5z" fill="#00ff15"/><path d="M1279,2524l27,4l-10,23l-26,-5z" fill="#00ff15"/><path d="M1304,2528l26,4l-10,23l-26,-4z" fill="#00ff14"/><path d="M1328,2532l27,4l-10,23l-27,-4z" fill="#00ff12"/><path d="M1353,2535l26,4l-10,23l-26,-3z" fill="#00ff10"/><path d="M1377,2539l27,3l-10,23l-26,-3z" fill="#00ff0e"/><path d="M1402,2542l26,3l-9,23l-27,-3z" fill="#00ff0b"/><path d="M1426,2544l27,3l-10,24l-26,-3z" fill="#00ff07"/><path d="M1451,2547l26,2l-9,24l-27,-2z" fill="#00ff02"/><path d="M1475,2549l27,2l-10,24l-26,-2z" fill="#03ff00"/><path d="M1500,2551l27,1l-10,25l-26,-2z" fill="#08ff00"/><path d="M1525,2552l26,2l-9,25l-27,-2z" fill="#0eff00"/><path d="M1549,2554l27,1l-9,25l-27,-1z" fill="#15ff00"/><path d="M1574,2555l27,0l-9,26l-27,-1z" fill="#1cff00"/><path d="M1599,2555l27,1l-9,26l-27,-1z" fill="#24ff00"/><path d="M1624,2556l27,0l-10,26l-26,0z" fill="#2dff00"/><path d="M1649,2556l27,0l-10,26l-27,0z" fill="#36ff00"/><path d="M1674,2556l27,0l-9,26l-28,0z" fill="#40ff00"/><path d="M1699,2556l27,-1l-9,27l-27,0z" fill="#4aff00"/><path d="M1724,2555l27,-1l-9,27l-27,1z" fill="#55ff00"/><path d="M1749,2554l27,-1l-9,28l-27,0z" fill="#60ff00"/><path d="M1774,2553l28,-1l-9,27l-28,2z" fill="#6dff00"/><path d="M1800,2552l27,-2l-9,28l-27,2z" fill="#79ff00"/><path d="M1825,2550l28,-2l-9,28l-28,2z" fill="#87ff00"/><path d="M603,2319l27,13l-11,17l-27,-14z" fill="#aeff00"/><path d="M628,2331l28,13l-12,17l-27,-13z" fill="#9eff00"/><path d="M654,2343l27,13l-11,17l-28,-13z" fill="#8fff00"/><path d="M679,2355l27,12l-11,17l-27,-12z" fill="#81ff00"/><path d="M704,2366l27,12l-11,17l-27,-12z" fill="#73ff00"/><path d="M729,2377l27,12l-11,17l-27,-11z" fill="#66ff00"/><path d="M754,2388l27,11l-11,18l-27,-11z" fill="#59ff00"/><path d="M779,2399l27,10l-11,18l-27,-11z" fill="#4dff00"/><path d="M804,2409l27,10l-11,18l-27,-10z" fill="#42ff00"/><path d="M829,2418l26,11l-10,18l-27,-10z" fill="#37ff00"/><path d="M853,2428l27,10l-11,19l-26,-11z" fill="#2dff00"/><path d="M878,2437l27,10l-11,19l-26,-10z" fill="#23ff00"/><path d="M903,2446l26,9l-10,19l-27,-9z" fill="#1aff00"/><path d="M927,2455l27,9l-10,19l-27,-9z" fill="#11ff00"/><path d="M952,2463l27,9l-11,19l-26,-9z" fill="#0aff00"/><path d="M977,2471l26,8l-10,20l-27,-8z" fill="#02ff00"/><path d="M1001,2479l27,8l-11,20l-26,-8z" fill="#00ff04"/><path d="M1026,2486l26,8l-10,20l-27,-8z" fill="#00ff0b"/><path d="M1050,2493l27,8l-10,20l-27,-7z" fill="#00ff10"/><path d="M1075,2500l26,7l-10,21l-26,-7z" fill="#00ff15"/><path d="M1099,2507l27,7l-10,21l-27,-7z" fill="#00ff19"/><path d="M1124,2513l26,7l-10,21l-26,-7z" fill="#00ff1d"/><path d="M1148,2519l26,6l-9,22l-27,-7z" fill="#00ff20"/><path d="M1172,2525l27,6l-10,21l-26,-6z" fill="#00ff23"/><path d="M1197,2530l26,6l-9,22l-27,-6z" fill="#00ff25"/><path d="M1221,2535l27,6l-10,22l-26,-6z" fill="#00ff26"/><path d="M1246,2540l26,5l-9,22l-27,-5z" fill="#00ff27"/><path d="M1270,2545l27,4l-10,23l-26,-5z" fill="#00ff27"/><path d="M1295,2549l26,4l-9,23l-27,-4z" fill="#00ff26"/><path d="M1319,2553l27,4l-10,23l-26,-4z" fill="#00ff25"/><path d="M1344,2557l26,4l-9,23l-27,-4z" fill="#00ff24"/><path d="M1368,2560l27,4l-10,23l-26,-4z" fill="#00ff22"/><path d="M1393,2563l26,4l-9,23l-27,-3z" fill="#00ff1f"/><path d="M1417,2566l27,3l-10,24l-26,-3z" fill="#00ff1b"/><path d="M1442,2569l27,3l-10,24l-27,-3z" fill="#00ff17"/><path d="M1467,2571l26,3l-9,24l-27,-3z" fill="#00ff13"/><path d="M1491,2573l27,2l-9,25l-27,-2z" fill="#00ff0e"/><path d="M1516,2575l27,2l-10,25l-26,-2z" fill="#00ff08"/><path d="M1541,2577l26,1l-9,25l-27,-1z" fill="#00ff01"/><path d="M1565,2578l27,1l-9,25l-27,-1z" fill="#06ff00"/><path d="M1590,2579l27,1l-9,25l-27,-1z" fill="#0dff00"/><path d="M1615,2580l27,0l-9,26l-27,-1z" fill="#15ff00"/><path d="M1640,2580l27,0l-9,27l-27,-1z" fill="#1eff00"/><path d="M1665,2580l27,0l-9,27l-27,-1z" fill="#27ff00"/><path d="M1690,2580l27,0l-9,27l-27,0z" fill="#31ff00"/><path d="M1715,2580l28,-1l-10,27l-27,1z" fill="#3cff00"/><path d="M1741,2579l27,0l-9,27l-28,0z" fill="#47ff00"/><path d="M1766,2579l27,-2l-9,28l-27,1z" fill="#53ff00"/><path d="M1791,2578l28,-2l-9,28l-28,1z" fill="#5fff00"/><path d="M1817,2576l27,-2l-9,28l-27,2z" fill="#6cff00"/><path d="M593,2334l27,13l-11,16l-28,-13z" fill="#a7ff00"/><path d="M618,2346l27,14l-11,16l-27,-14z" fill="#97ff00"/><path d="M643,2359l28,12l-12,17l-27,-13z" fill="#87ff00"/><path d="M669,2370l27,13l-11,17l-28,-13z" fill="#79ff00"/><path d="M694,2382l27,12l-11,17l-27,-12z" fill="#6aff00"/><path d="M719,2393l27,12l-11,17l-27,-12z" fill="#5dff00"/><path d="M744,2404l27,12l-11,17l-27,-12z" fill="#50ff00"/><path d="M769,2415l27,11l-11,18l-27,-12z" fill="#43ff00"/><path d="M794,2425l27,11l-11,18l-27,-11z" fill="#38ff00"/><path d="M819,2435l26,11l-10,18l-27,-11z" fill="#2cff00"/><path d="M843,2445l27,10l-10,19l-27,-11z" fill="#22ff00"/><path d="M868,2454l27,10l-10,19l-27,-10z" fill="#18ff00"/><path d="M893,2464l27,9l-11,19l-26,-10z" fill="#0eff00"/><path d="M918,2472l26,10l-10,19l-27,-10z" fill="#05ff00"/><path d="M942,2481l27,9l-10,19l-27,-9z" fill="#00ff03"/><path d="M967,2489l27,9l-11,19l-26,-8z" fill="#00ff0b"/><path d="M992,2497l26,8l-10,20l-27,-8z" fill="#00ff12"/><path d="M1016,2505l27,8l-10,20l-27,-8z" fill="#00ff18"/><path d="M1041,2512l26,8l-10,20l-26,-8z" fill="#00ff1e"/><path d="M1065,2519l27,8l-10,20l-27,-7z" fill="#00ff23"/><path d="M1090,2526l26,7l-10,21l-26,-7z" fill="#00ff28"/><path d="M1114,2532l27,7l-10,21l-27,-7z" fill="#00ff2c"/><path d="M1139,2539l26,6l-10,21l-26,-6z" fill="#00ff30"/><path d="M1163,2545l27,6l-10,21l-27,-6z" fill="#00ff33"/><path d="M1188,2550l26,6l-9,22l-27,-6z" fill="#00ff35"/><path d="M1212,2556l27,5l-10,22l-26,-6z" fill="#00ff37"/><path d="M1237,2561l26,5l-9,22l-27,-5z" fill="#00ff38"/><path d="M1261,2565l27,5l-10,23l-26,-5z" fill="#00ff38"/><path d="M1286,2570l26,4l-9,23l-27,-5z" fill="#00ff38"/><path d="M1310,2574l27,4l-10,23l-26,-4z" fill="#00ff38"/><path d="M1335,2578l26,4l-9,23l-27,-4z" fill="#00ff37"/><path d="M1359,2582l27,3l-10,24l-26,-4z" fill="#00ff35"/><path d="M1384,2585l27,4l-10,23l-27,-4z" fill="#00ff32"/><path d="M1409,2588l26,3l-9,24l-27,-3z" fill="#00ff2f"/><path d="M1433,2591l27,3l-10,24l-26,-3z" fill="#00ff2c"/><path d="M1458,2594l27,2l-10,24l-27,-2z" fill="#00ff28"/><path d="M1483,2596l26,2l-9,25l-27,-3z" fill="#00ff23"/><path d="M1507,2598l27,2l-9,25l-27,-3z" fill="#00ff1d"/><path d="M1532,2600l27,1l-9,25l-27,-2z" fill="#00ff17"/><path d="M1557,2601l27,2l-10,25l-26,-2z" fill="#00ff11"/><path d="M1582,2602l27,2l-10,25l-27,-1z" fill="#00ff0a"/><path d="M1607,2603l27,1l-10,26l-27,-1z" fill="#00ff02"/><path d="M1632,2604l27,1l-10,25l-27,0z" fill="#06ff00"/><path d="M1657,2605l27,0l-9,26l-28,-1z" fill="#0fff00"/><path d="M1682,2605l27,0l-9,26l-27,0z" fill="#19ff00"/><path d="M1707,2605l27,-1l-9,27l-27,0z" fill="#23ff00"/><path d="M1732,2604l27,0l-9,26l-27,1z" fill="#2eff00"/><path d="M1757,2604l28,-1l-9,27l-28,0z" fill="#39ff00"/><path d="M1783,2603l27,-1l-9,27l-27,1z" fill="#45ff00"/><path d="M1808,2602l28,-2l-9,28l-28,1z" fill="#51ff00"/><path d="M582,2348l28,14l-12,16l-27,-14z" fill="#a0ff00"/><path d="M608,2361l27,14l-11,16l-28,-14z" fill="#90ff00"/><path d="M633,2374l27,13l-11,16l-27,-13z" fill="#80ff00"/><path d="M658,2386l27,12l-11,17l-27,-13z" fill="#71ff00"/><path d="M683,2398l28,12l-11,17l-28,-13z" fill="#62ff00"/><path d="M709,2409l27,12l-11,17l-27,-12z" fill="#54ff00"/><path d="M734,2420l27,12l-11,17l-27,-12z" fill="#47ff00"/><path d="M759,2431l27,11l-11,18l-27,-12z" fill="#3aff00"/><path d="M784,2442l27,11l-11,18l-27,-12z" fill="#2eff00"/><path d="M809,2452l27,11l-11,18l-27,-11z" fill="#22ff00"/><path d="M834,2462l27,10l-11,19l-27,-11z" fill="#17ff00"/><path d="M859,2472l26,10l-10,18l-27,-10z" fill="#0dff00"/><path d="M883,2481l27,10l-10,18l-27,-10z" fill="#03ff00"/><path d="M908,2490l27,9l-11,19l-26,-9z" fill="#00ff06"/><path d="M933,2499l26,9l-10,19l-27,-9z" fill="#00ff0f"/><path d="M958,2507l26,9l-10,19l-27,-9z" fill="#00ff17"/><path d="M982,2515l27,9l-10,19l-27,-8z" fill="#00ff1f"/><path d="M1007,2523l26,8l-10,20l-26,-8z" fill="#00ff25"/><path d="M1031,2531l27,8l-10,20l-27,-8z" fill="#00ff2c"/><path d="M1056,2538l27,8l-10,20l-27,-8z" fill="#00ff31"/><path d="M1081,2545l26,7l-10,21l-26,-8z" fill="#00ff37"/><path d="M1105,2552l27,7l-10,20l-27,-7z" fill="#00ff3b"/><path d="M1130,2558l26,7l-10,21l-26,-7z" fill="#00ff3f"/><path d="M1154,2564l27,7l-10,21l-27,-7z" fill="#00ff42"/><path d="M1179,2570l26,6l-10,22l-26,-7z" fill="#00ff45"/><path d="M1203,2576l27,5l-10,22l-26,-6z" fill="#00ff47"/><path d="M1228,2581l26,5l-9,22l-27,-5z" fill="#00ff49"/><path d="M1252,2586l27,5l-10,22l-26,-5z" fill="#00ff4a"/><path d="M1277,2591l26,4l-9,23l-27,-5z" fill="#00ff4a"/><path d="M1301,2595l27,5l-10,22l-26,-5z" fill="#00ff4a"/><path d="M1326,2599l27,4l-10,23l-27,-4z" fill="#00ff49"/><path d="M1351,2603l26,4l-9,23l-27,-4z" fill="#00ff48"/><path d="M1375,2607l27,3l-10,24l-26,-4z" fill="#00ff46"/><path d="M1400,2610l26,3l-9,24l-27,-4z" fill="#00ff43"/><path d="M1424,2613l27,3l-9,24l-27,-3z" fill="#00ff40"/><path d="M1449,2616l27,3l-9,24l-27,-3z" fill="#00ff3c"/><path d="M1474,2618l27,3l-10,24l-26,-3z" fill="#00ff38"/><path d="M1499,2621l26,2l-9,24l-27,-2z" fill="#00ff33"/><path d="M1523,2623l27,1l-9,25l-27,-2z" fill="#00ff2d"/><path d="M1548,2624l27,2l-9,25l-27,-2z" fill="#00ff27"/><path d="M1573,2626l27,1l-9,25l-27,-1z" fill="#00ff20"/><path d="M1598,2627l27,1l-9,25l-27,-1z" fill="#00ff19"/><path d="M1623,2628l27,1l-9,25l-27,-1z" fill="#00ff11"/><path d="M1648,2628l27,1l-9,26l-27,-1z" fill="#00ff08"/><path d="M1673,2629l27,0l-9,26l-27,0z" fill="#01ff00"/><path d="M1698,2629l28,0l-9,26l-28,0z" fill="#0bff00"/><path d="M1724,2629l27,-1l-9,27l-27,0z" fill="#15ff00"/><path d="M1749,2629l27,-1l-9,27l-27,0z" fill="#20ff00"/><path d="M1774,2628l28,-1l-9,27l-28,1z" fill="#2bff00"/><path d="M1800,2627l27,-1l-9,27l-27,1z" fill="#37ff00"/><path d="M571,2363l28,14l-11,16l-28,-15z" fill="#9aff00"/><path d="M597,2376l28,14l-12,16l-27,-14z" fill="#89ff00"/><path d="M623,2389l27,13l-11,16l-28,-13z" fill="#79ff00"/><path d="M648,2401l27,13l-11,16l-27,-13z" fill="#6aff00"/><path d="M673,2413l28,13l-11,16l-28,-13z" fill="#5bff00"/><path d="M698,2425l28,12l-11,17l-27,-13z" fill="#4cff00"/><path d="M724,2436l27,12l-11,17l-27,-12z" fill="#3fff00"/><path d="M749,2447l27,12l-11,17l-27,-12z" fill="#31ff00"/><path d="M774,2458l27,11l-11,18l-27,-12z" fill="#25ff00"/><path d="M799,2468l27,11l-11,18l-27,-11z" fill="#19ff00"/><path d="M824,2479l27,10l-11,18l-27,-10z" fill="#0dff00"/><path d="M849,2488l27,11l-11,18l-27,-10z" fill="#02ff00"/><path d="M874,2498l26,10l-10,19l-27,-11z" fill="#00ff08"/><path d="M898,2507l27,10l-10,19l-27,-10z" fill="#00ff12"/><path d="M923,2516l27,10l-10,19l-27,-10z" fill="#00ff1b"/><path d="M948,2525l27,9l-10,19l-27,-9z" fill="#00ff23"/><path d="M973,2533l26,9l-10,20l-26,-9z" fill="#00ff2b"/><path d="M997,2541l27,9l-10,20l-27,-9z" fill="#00ff32"/><path d="M1022,2549l27,8l-10,20l-27,-8z" fill="#00ff39"/><path d="M1047,2557l26,7l-10,21l-26,-8z" fill="#00ff3f"/><path d="M1071,2564l27,7l-10,21l-27,-8z" fill="#00ff45"/><path d="M1096,2571l26,7l-9,21l-27,-8z" fill="#00ff49"/><path d="M1121,2577l26,7l-10,21l-26,-7z" fill="#00ff4e"/><path d="M1145,2584l27,6l-10,21l-27,-6z" fill="#00ff51"/><path d="M1170,2590l26,6l-10,21l-26,-6z" fill="#00ff55"/><path d="M1194,2596l27,5l-10,22l-26,-6z" fill="#00ff57"/><path d="M1219,2601l26,6l-9,21l-27,-5z" fill="#00ff59"/><path d="M1243,2606l27,6l-10,22l-26,-6z" fill="#00ff5a"/><path d="M1268,2611l27,5l-10,22l-27,-5z" fill="#00ff5b"/><path d="M1293,2616l26,4l-9,23l-27,-5z" fill="#00ff5b"/><path d="M1317,2620l27,5l-10,22l-26,-4z" fill="#00ff5b"/><path d="M1342,2624l26,4l-9,23l-27,-4z" fill="#00ff5a"/><path d="M1366,2628l27,4l-9,23l-27,-4z" fill="#00ff58"/><path d="M1391,2632l27,3l-10,23l-26,-3z" fill="#00ff56"/><path d="M1416,2635l26,3l-9,24l-27,-4z" fill="#00ff53"/><path d="M1440,2638l27,3l-9,24l-27,-4z" fill="#00ff50"/><path d="M1465,2641l27,2l-9,24l-27,-3z" fill="#00ff4c"/><path d="M1490,2643l27,2l-9,25l-27,-3z" fill="#00ff47"/><path d="M1515,2645l27,2l-10,25l-26,-3z" fill="#00ff42"/><path d="M1540,2647l27,2l-10,25l-27,-2z" fill="#00ff3c"/><path d="M1565,2649l27,1l-10,25l-27,-2z" fill="#00ff36"/><path d="M1590,2650l27,1l-10,26l-27,-2z" fill="#00ff2f"/><path d="M1615,2651l27,1l-10,26l-27,-2z" fill="#00ff27"/><path d="M1640,2652l27,1l-9,25l-28,0z" fill="#00ff1f"/><path d="M1665,2653l27,0l-9,26l-27,-1z" fill="#00ff17"/><path d="M1690,2653l27,0l-9,26l-27,0z" fill="#00ff0d"/><path d="M1715,2653l28,0l-10,26l-27,0z" fill="#00ff03"/><path d="M1741,2653l27,0l-9,26l-28,0z" fill="#07ff00"/><path d="M1766,2653l27,-1l-9,27l-27,0z" fill="#12ff00"/><path d="M1791,2652l28,-1l-9,27l-28,1z" fill="#1eff00"/><path d="M561,2377l28,15l-12,15l-27,-14z" fill="#95ff00"/><path d="M587,2390l27,14l-11,16l-28,-14z" fill="#83ff00"/><path d="M612,2403l28,14l-11,16l-28,-14z" fill="#73ff00"/><path d="M638,2416l27,13l-11,17l-28,-14z" fill="#63ff00"/><path d="M663,2428l27,13l-11,17l-27,-13z" fill="#54ff00"/><path d="M688,2440l28,13l-11,17l-28,-13z" fill="#45ff00"/><path d="M714,2452l27,12l-11,17l-27,-12z" fill="#37ff00"/><path d="M739,2463l27,12l-11,17l-27,-12z" fill="#29ff00"/><path d="M764,2474l27,12l-11,17l-27,-12z" fill="#1cff00"/><path d="M789,2485l27,11l-11,18l-27,-12z" fill="#0fff00"/><path d="M814,2495l27,11l-10,18l-28,-11z" fill="#04ff00"/><path d="M839,2505l27,11l-10,18l-27,-11z" fill="#00ff08"/><path d="M864,2515l27,10l-11,19l-26,-11z" fill="#00ff12"/><path d="M889,2525l27,9l-11,19l-27,-10z" fill="#00ff1c"/><path d="M914,2534l26,9l-10,19l-27,-10z" fill="#00ff26"/><path d="M939,2543l26,9l-10,19l-27,-9z" fill="#00ff2f"/><path d="M963,2551l27,9l-10,20l-27,-10z" fill="#00ff37"/><path d="M988,2559l27,9l-10,20l-27,-9z" fill="#00ff3f"/><path d="M1013,2567l26,9l-10,20l-26,-9z" fill="#00ff46"/><path d="M1037,2575l27,8l-10,20l-27,-8z" fill="#00ff4c"/><path d="M1062,2583l27,7l-10,21l-27,-8z" fill="#00ff52"/><path d="M1087,2590l26,7l-9,21l-27,-8z" fill="#00ff57"/><path d="M1111,2597l27,7l-10,20l-26,-7z" fill="#00ff5c"/><path d="M1136,2603l27,7l-10,21l-27,-7z" fill="#00ff60"/><path d="M1161,2609l26,7l-9,21l-27,-7z" fill="#00ff64"/><path d="M1185,2615l27,6l-10,22l-26,-7z" fill="#00ff67"/><path d="M1210,2621l26,6l-9,21l-27,-6z" fill="#00ff69"/><path d="M1234,2626l27,6l-10,22l-26,-6z" fill="#00ff6b"/><path d="M1259,2631l27,6l-10,22l-26,-6z" fill="#00ff6c"/><path d="M1284,2636l26,5l-9,23l-27,-6z" fill="#00ff6c"/><path d="M1308,2641l27,5l-9,22l-27,-5z" fill="#00ff6c"/><path d="M1333,2645l27,5l-10,22l-26,-4z" fill="#00ff6c"/><path d="M1358,2649l26,4l-9,23l-27,-4z" fill="#00ff6b"/><path d="M1382,2653l27,4l-9,23l-27,-4z" fill="#00ff69"/><path d="M1407,2656l27,4l-10,23l-26,-3z" fill="#00ff66"/><path d="M1432,2660l27,3l-10,23l-26,-3z" fill="#00ff63"/><path d="M1457,2663l26,2l-9,24l-27,-3z" fill="#00ff60"/><path d="M1481,2665l27,3l-9,24l-27,-3z" fill="#00ff5c"/><path d="M1506,2668l27,2l-9,24l-27,-2z" fill="#00ff57"/><path d="M1531,2670l27,2l-9,24l-27,-2z" fill="#00ff51"/><path d="M1556,2672l27,1l-9,25l-27,-2z" fill="#00ff4b"/><path d="M1581,2673l27,2l-9,25l-27,-2z" fill="#00ff45"/><path d="M1606,2675l27,1l-9,25l-27,-1z" fill="#00ff3e"/><path d="M1631,2676l27,1l-9,25l-27,-1z" fill="#00ff36"/><path d="M1656,2677l28,0l-10,26l-27,-1z" fill="#00ff2e"/><path d="M1682,2677l27,0l-9,26l-28,0z" fill="#00ff25"/><path d="M1707,2677l27,1l-9,26l-27,-1z" fill="#00ff1b"/><path d="M1732,2678l28,-1l-9,27l-28,0z" fill="#00ff11"/><path d="M1758,2677l27,0l-9,27l-28,0z" fill="#00ff06"/><path d="M1783,2677l28,-1l-9,27l-28,1z" fill="#05ff00"/><path d="M550,2391l28,15l-11,15l-28,-14z" fill="#8fff00"/><path d="M576,2405l28,14l-11,16l-28,-15z" fill="#7eff00"/><path d="M602,2418l27,14l-11,16l-27,-14z" fill="#6dff00"/><path d="M627,2431l28,13l-11,17l-28,-14z" fill="#5dff00"/><path d="M653,2443l27,13l-11,17l-27,-13z" fill="#4dff00"/><path d="M678,2455l28,13l-11,17l-28,-13z" fill="#3eff00"/><path d="M704,2467l27,13l-11,17l-27,-13z" fill="#2fff00"/><path d="M729,2479l27,12l-11,17l-27,-12z" fill="#21ff00"/><path d="M754,2490l27,12l-10,17l-28,-12z" fill="#14ff00"/><path d="M779,2501l27,12l-10,17l-27,-12z" fill="#07ff00"/><path d="M804,2512l27,11l-10,18l-27,-12z" fill="#00ff06"/><path d="M829,2522l27,11l-10,18l-27,-11z" fill="#00ff11"/><path d="M854,2532l27,10l-10,19l-27,-11z" fill="#00ff1c"/><path d="M879,2542l27,10l-10,18l-27,-10z" fill="#00ff27"/><path d="M904,2551l27,10l-10,19l-27,-10z" fill="#00ff30"/><path d="M929,2560l27,10l-10,19l-27,-10z" fill="#00ff3a"/><path d="M954,2569l27,9l-10,19l-27,-9z" fill="#00ff42"/><path d="M979,2577l26,9l-10,20l-26,-9z" fill="#00ff4a"/><path d="M1003,2586l27,8l-10,20l-27,-9z" fill="#00ff52"/><path d="M1028,2594l27,8l-10,20l-27,-9z" fill="#00ff59"/><path d="M1053,2601l27,8l-10,20l-27,-8z" fill="#00ff5f"/><path d="M1078,2608l26,8l-10,20l-26,-7z" fill="#00ff65"/><path d="M1102,2616l27,7l-10,20l-27,-7z" fill="#00ff6a"/><path d="M1127,2622l27,7l-10,21l-27,-7z" fill="#00ff6e"/><path d="M1152,2629l26,6l-9,21l-27,-6z" fill="#00ff72"/><path d="M1176,2635l27,6l-10,21l-26,-6z" fill="#00ff76"/><path d="M1201,2641l27,6l-10,21l-27,-6z" fill="#00ff78"/><path d="M1226,2646l26,6l-9,22l-27,-6z" fill="#00ff7b"/><path d="M1250,2652l27,5l-10,22l-26,-6z" fill="#00ff7c"/><path d="M1275,2657l27,5l-10,22l-27,-5z" fill="#00ff7d"/><path d="M1300,2662l26,4l-9,23l-27,-5z" fill="#00ff7d"/><path d="M1324,2666l27,5l-9,22l-27,-5z" fill="#00ff7d"/><path d="M1349,2670l27,4l-10,23l-26,-4z" fill="#00ff7c"/><path d="M1374,2674l26,4l-9,23l-27,-4z" fill="#00ff7b"/><path d="M1398,2678l27,4l-9,23l-27,-4z" fill="#00ff79"/><path d="M1423,2681l27,4l-9,23l-27,-4z" fill="#00ff76"/><path d="M1448,2684l27,3l-9,24l-27,-3z" fill="#00ff73"/><path d="M1473,2687l27,3l-10,24l-26,-3z" fill="#00ff6f"/><path d="M1498,2690l27,2l-10,24l-26,-2z" fill="#00ff6b"/><path d="M1523,2692l27,2l-10,25l-27,-3z" fill="#00ff66"/><path d="M1548,2694l27,2l-10,25l-27,-2z" fill="#00ff60"/><path d="M1573,2696l27,2l-9,25l-28,-2z" fill="#00ff5a"/><path d="M1598,2698l27,1l-9,25l-27,-2z" fill="#00ff54"/><path d="M1623,2699l27,1l-9,25l-27,-1z" fill="#00ff4c"/><path d="M1648,2700l27,1l-9,25l-27,-1z" fill="#00ff44"/><path d="M1673,2701l27,0l-9,26l-27,-1z" fill="#00ff3c"/><path d="M1698,2701l28,1l-9,26l-28,-1z" fill="#00ff33"/><path d="M1724,2702l27,0l-9,26l-27,0z" fill="#00ff29"/><path d="M1749,2702l28,0l-9,26l-28,0z" fill="#00ff1f"/><path d="M1775,2702l27,-1l-9,27l-27,0z" fill="#00ff14"/><path d="M540,2405l28,15l-12,16l-28,-15z" fill="#8bff00"/><path d="M566,2419l27,15l-11,15l-28,-15z" fill="#79ff00"/><path d="M591,2433l28,14l-11,15l-28,-14z" fill="#67ff00"/><path d="M617,2446l28,13l-11,16l-28,-14z" fill="#57ff00"/><path d="M643,2458l27,14l-11,16l-28,-14z" fill="#46ff00"/><path d="M668,2471l27,13l-10,16l-28,-13z" fill="#37ff00"/><path d="M693,2483l28,13l-11,16l-27,-13z" fill="#28ff00"/><path d="M719,2495l27,12l-11,17l-27,-13z" fill="#19ff00"/><path d="M744,2506l27,12l-10,17l-28,-12z" fill="#0cff00"/><path d="M769,2517l27,12l-10,17l-27,-12z" fill="#00ff02"/><path d="M794,2528l28,11l-11,18l-27,-11z" fill="#00ff0e"/><path d="M820,2539l27,11l-11,18l-27,-12z" fill="#00ff1a"/><path d="M845,2549l27,10l-11,19l-27,-11z" fill="#00ff26"/><path d="M870,2559l27,10l-11,18l-27,-10z" fill="#00ff31"/><path d="M895,2568l27,10l-11,19l-27,-10z" fill="#00ff3b"/><path d="M920,2578l26,9l-10,19l-27,-10z" fill="#00ff44"/><path d="M944,2587l27,9l-10,19l-27,-10z" fill="#00ff4d"/><path d="M969,2595l27,9l-10,20l-27,-10z" fill="#00ff56"/><path d="M994,2604l27,8l-10,20l-27,-9z" fill="#00ff5e"/><path d="M1019,2612l27,8l-10,20l-27,-9z" fill="#00ff65"/><path d="M1044,2620l26,8l-9,20l-27,-9z" fill="#00ff6c"/><path d="M1068,2627l27,8l-10,20l-26,-8z" fill="#00ff72"/><path d="M1093,2634l27,8l-10,20l-27,-7z" fill="#00ff77"/><path d="M1118,2641l27,7l-10,21l-27,-7z" fill="#00ff7c"/><path d="M1143,2648l26,7l-9,21l-27,-7z" fill="#00ff81"/><path d="M1167,2654l27,7l-10,21l-26,-7z" fill="#00ff84"/><path d="M1192,2660l27,7l-10,21l-27,-7z" fill="#00ff88"/><path d="M1217,2666l26,6l-9,22l-27,-6z" fill="#00ff8a"/><path d="M1241,2672l27,5l-9,22l-27,-6z" fill="#00ff8c"/><path d="M1266,2677l27,5l-10,22l-26,-5z" fill="#00ff8d"/><path d="M1291,2682l26,5l-9,22l-27,-5z" fill="#00ff8e"/><path d="M1316,2687l26,4l-9,23l-27,-5z" fill="#00ff8e"/><path d="M1340,2691l27,5l-9,22l-27,-5z" fill="#00ff8e"/><path d="M1365,2695l27,4l-10,23l-26,-4z" fill="#00ff8d"/><path d="M1390,2699l27,4l-10,23l-27,-4z" fill="#00ff8b"/><path d="M1415,2703l26,3l-9,24l-27,-4z" fill="#00ff89"/><path d="M1439,2706l27,3l-9,24l-27,-4z" fill="#00ff86"/><path d="M1464,2709l27,3l-9,24l-27,-3z" fill="#00ff83"/><path d="M1489,2712l27,3l-9,24l-27,-3z" fill="#00ff7f"/><path d="M1514,2715l27,2l-9,24l-27,-3z" fill="#00ff7a"/><path d="M1539,2717l27,2l-9,24l-27,-2z" fill="#00ff75"/><path d="M1564,2719l27,2l-9,24l-27,-2z" fill="#00ff6f"/><path d="M1589,2721l27,1l-9,25l-27,-2z" fill="#00ff69"/><path d="M1614,2722l28,2l-10,25l-27,-2z" fill="#00ff62"/><path d="M1639,2723l28,2l-9,25l-28,-2z" fill="#00ff5a"/><path d="M1665,2724l27,1l-9,26l-27,-1z" fill="#00ff52"/><path d="M1690,2725l27,1l-9,25l-27,0z" fill="#00ff4a"/><path d="M1715,2726l28,0l-9,26l-28,-1z" fill="#00ff40"/><path d="M1741,2726l27,0l-9,26l-27,0z" fill="#00ff36"/><path d="M1766,2726l28,0l-9,26l-28,0z" fill="#00ff2c"/><path d="M529,2419l28,15l-11,16l-28,-16z" fill="#86ff00"/><path d="M555,2433l28,15l-11,15l-28,-15z" fill="#74ff00"/><path d="M581,2447l28,14l-11,16l-28,-15z" fill="#62ff00"/><path d="M607,2460l27,14l-11,16l-27,-14z" fill="#51ff00"/><path d="M632,2473l28,14l-11,16l-28,-14z" fill="#41ff00"/><path d="M658,2486l27,13l-10,17l-28,-14z" fill="#31ff00"/><path d="M683,2498l28,13l-11,17l-28,-13z" fill="#21ff00"/><path d="M709,2510l27,13l-11,17l-27,-13z" fill="#12ff00"/><path d="M734,2522l27,12l-10,17l-28,-12z" fill="#04ff00"/><path d="M759,2533l28,12l-11,17l-27,-12z" fill="#00ff09"/><path d="M785,2544l27,12l-11,17l-27,-11z" fill="#00ff16"/><path d="M810,2555l27,11l-10,18l-28,-11z" fill="#00ff23"/><path d="M835,2565l27,11l-10,18l-27,-11z" fill="#00ff2f"/><path d="M860,2576l27,10l-10,18l-27,-10z" fill="#00ff3a"/><path d="M885,2585l27,11l-10,18l-27,-10z" fill="#00ff45"/><path d="M910,2595l27,10l-10,19l-27,-11z" fill="#00ff4f"/><path d="M935,2604l27,10l-10,19l-27,-10z" fill="#00ff58"/><path d="M960,2613l27,9l-10,19l-27,-9z" fill="#00ff61"/><path d="M985,2622l27,9l-10,19l-27,-9z" fill="#00ff69"/><path d="M1010,2630l26,9l-9,19l-27,-9z" fill="#00ff71"/><path d="M1034,2638l27,8l-10,20l-26,-8z" fill="#00ff78"/><path d="M1059,2646l27,8l-10,20l-27,-9z" fill="#00ff7f"/><path d="M1084,2653l27,8l-10,20l-27,-8z" fill="#00ff84"/><path d="M1109,2660l27,8l-10,20l-27,-8z" fill="#00ff8a"/><path d="M1134,2667l26,7l-9,21l-27,-7z" fill="#00ff8e"/><path d="M1158,2674l27,6l-10,21l-26,-7z" fill="#00ff93"/><path d="M1183,2680l27,6l-10,22l-27,-7z" fill="#00ff96"/><path d="M1208,2686l27,6l-10,21l-27,-6z" fill="#00ff99"/><path d="M1233,2692l26,6l-9,21l-27,-6z" fill="#00ff9b"/><path d="M1257,2697l27,6l-9,21l-27,-5z" fill="#00ff9d"/><path d="M1282,2702l27,6l-10,22l-26,-6z" fill="#00ff9e"/><path d="M1307,2707l27,5l-10,22l-27,-5z" fill="#00ff9f"/><path d="M1332,2712l26,4l-9,23l-27,-5z" fill="#00ff9f"/><path d="M1356,2716l27,5l-9,22l-27,-4z" fill="#00ff9e"/><path d="M1381,2720l27,4l-9,23l-27,-4z" fill="#00ff9d"/><path d="M1406,2724l27,4l-9,23l-27,-4z" fill="#00ff9b"/><path d="M1431,2728l27,3l-9,23l-27,-3z" fill="#00ff99"/><path d="M1456,2731l27,3l-9,24l-27,-4z" fill="#00ff96"/><path d="M1481,2734l27,3l-9,24l-27,-4z" fill="#00ff92"/><path d="M1506,2737l27,2l-9,24l-27,-3z" fill="#00ff8e"/><path d="M1531,2739l27,3l-9,24l-27,-3z" fill="#00ff89"/><path d="M1556,2741l27,3l-9,24l-27,-3z" fill="#00ff84"/><path d="M1581,2743l27,2l-9,25l-27,-2z" fill="#00ff7e"/><path d="M1606,2745l27,2l-9,24l-27,-1z" fill="#00ff77"/><path d="M1631,2747l27,1l-9,25l-27,-2z" fill="#00ff70"/><path d="M1656,2748l28,1l-9,25l-28,-1z" fill="#00ff68"/><path d="M1682,2749l27,1l-9,25l-27,-1z" fill="#00ff60"/><path d="M1707,2750l28,0l-9,26l-28,-1z" fill="#00ff57"/><path d="M1733,2750l27,0l-9,26l-27,0z" fill="#00ff4e"/><path d="M1758,2750l28,0l-9,26l-28,0z" fill="#00ff44"/><path d="M519,2433l28,16l-12,15l-28,-16z" fill="#83ff00"/><path d="M545,2447l28,15l-12,16l-28,-16z" fill="#70ff00"/><path d="M571,2461l27,15l-11,15l-28,-15z" fill="#5eff00"/><path d="M596,2475l28,14l-11,16l-28,-15z" fill="#4cff00"/><path d="M622,2488l28,14l-11,16l-28,-14z" fill="#3bff00"/><path d="M648,2501l27,13l-11,17l-27,-14z" fill="#2bff00"/><path d="M673,2513l28,14l-11,16l-28,-13z" fill="#1bff00"/><path d="M699,2526l27,12l-10,17l-28,-13z" fill="#0cff00"/><path d="M724,2537l28,13l-11,17l-28,-13z" fill="#00ff03"/><path d="M750,2549l27,12l-11,17l-27,-12z" fill="#00ff11"/><path d="M775,2560l27,12l-10,18l-28,-12z" fill="#00ff1e"/><path d="M800,2571l27,12l-10,17l-27,-11z" fill="#00ff2b"/><path d="M825,2582l27,11l-10,18l-27,-11z" fill="#00ff37"/><path d="M850,2592l28,11l-11,18l-27,-11z" fill="#00ff43"/><path d="M876,2602l27,11l-11,18l-27,-11z" fill="#00ff4e"/><path d="M901,2612l27,10l-11,19l-27,-11z" fill="#00ff58"/><path d="M926,2621l27,10l-10,19l-28,-10z" fill="#00ff62"/><path d="M951,2631l27,9l-11,19l-26,-10z" fill="#00ff6c"/><path d="M976,2639l26,10l-10,19l-26,-10z" fill="#00ff74"/><path d="M1000,2648l27,9l-10,19l-27,-9z" fill="#00ff7c"/><path d="M1025,2656l27,9l-10,19l-27,-8z" fill="#00ff84"/><path d="M1050,2664l27,8l-10,20l-27,-8z" fill="#00ff8b"/><path d="M1075,2672l27,8l-10,20l-27,-8z" fill="#00ff91"/><path d="M1100,2679l27,8l-10,20l-27,-8z" fill="#00ff97"/><path d="M1125,2686l26,7l-9,21l-27,-8z" fill="#00ff9c"/><path d="M1149,2693l27,7l-9,21l-27,-8z" fill="#00ffa0"/><path d="M1174,2699l27,7l-10,21l-26,-7z" fill="#00ffa4"/><path d="M1199,2705l27,7l-10,21l-27,-7z" fill="#00ffa8"/><path d="M1224,2711l27,6l-10,22l-27,-6z" fill="#00ffaa"/><path d="M1249,2717l26,6l-9,21l-27,-6z" fill="#00ffac"/><path d="M1273,2722l27,6l-9,22l-27,-6z" fill="#00ffae"/><path d="M1298,2727l27,6l-9,22l-27,-6z" fill="#00ffaf"/><path d="M1323,2732l27,5l-10,22l-26,-5z" fill="#00ffaf"/><path d="M1348,2737l27,4l-10,23l-27,-5z" fill="#00ffaf"/><path d="M1373,2741l26,4l-9,23l-27,-4z" fill="#00ffae"/><path d="M1397,2745l27,4l-9,23l-27,-4z" fill="#00ffad"/><path d="M1422,2749l27,4l-9,23l-27,-4z" fill="#00ffab"/><path d="M1447,2752l27,4l-9,23l-27,-4z" fill="#00ffa8"/><path d="M1472,2756l27,3l-9,23l-27,-3z" fill="#00ffa5"/><path d="M1497,2759l27,2l-9,24l-27,-3z" fill="#00ffa1"/><path d="M1522,2761l27,3l-9,24l-27,-3z" fill="#00ff9d"/><path d="M1547,2764l27,2l-9,24l-27,-2z" fill="#00ff98"/><path d="M1572,2766l28,2l-9,24l-28,-2z" fill="#00ff92"/><path d="M1598,2768l27,2l-9,24l-27,-2z" fill="#00ff8c"/><path d="M1623,2770l27,1l-9,25l-27,-2z" fill="#00ff85"/><path d="M1648,2771l27,1l-9,25l-27,-1z" fill="#00ff7e"/><path d="M1673,2772l28,1l-9,25l-28,-1z" fill="#00ff76"/><path d="M1699,2773l27,1l-9,25l-27,-1z" fill="#00ff6e"/><path d="M1724,2774l28,0l-9,26l-28,-1z" fill="#00ff65"/><path d="M1750,2774l27,1l-8,26l-28,-1z" fill="#00ff5b"/><path d="M508,2447l28,15l-11,15l-28,-16z" fill="#7fff00"/><path d="M534,2461l28,15l-11,16l-28,-16z" fill="#6cff00"/><path d="M560,2475l28,15l-11,16l-28,-16z" fill="#5aff00"/><path d="M586,2489l28,15l-11,15l-28,-15z" fill="#48ff00"/><path d="M612,2503l28,14l-11,16l-28,-15z" fill="#36ff00"/><path d="M638,2516l27,13l-11,17l-27,-14z" fill="#25ff00"/><path d="M663,2528l28,14l-11,16l-28,-13z" fill="#15ff00"/><path d="M689,2541l27,13l-10,17l-28,-14z" fill="#06ff00"/><path d="M714,2553l28,13l-11,17l-27,-13z" fill="#00ff09"/><path d="M740,2565l27,12l-10,17l-28,-12z" fill="#00ff18"/><path d="M765,2576l27,12l-10,18l-27,-13z" fill="#00ff26"/><path d="M790,2587l28,12l-11,18l-27,-12z" fill="#00ff33"/><path d="M816,2598l27,12l-10,17l-28,-11z" fill="#00ff3f"/><path d="M841,2609l27,11l-10,18l-27,-11z" fill="#00ff4b"/><path d="M866,2619l27,11l-10,18l-27,-11z" fill="#00ff57"/><path d="M891,2629l27,10l-10,19l-27,-11z" fill="#00ff62"/><path d="M916,2639l27,10l-10,18l-27,-10z" fill="#00ff6c"/><path d="M941,2648l27,10l-10,19l-27,-10z" fill="#00ff76"/><path d="M966,2657l27,9l-10,19l-27,-9z" fill="#00ff7f"/><path d="M991,2666l27,9l-10,19l-27,-9z" fill="#00ff87"/><path d="M1016,2674l27,9l-10,19l-27,-9z" fill="#00ff8f"/><path d="M1041,2682l27,9l-10,19l-27,-8z" fill="#00ff96"/><path d="M1066,2690l27,8l-10,20l-27,-8z" fill="#00ff9d"/><path d="M1091,2698l27,7l-10,21l-27,-8z" fill="#00ffa3"/><path d="M1116,2705l26,7l-9,21l-27,-8z" fill="#00ffa9"/><path d="M1140,2712l27,7l-9,21l-27,-8z" fill="#00ffae"/><path d="M1165,2718l27,7l-9,21l-27,-7z" fill="#00ffb2"/><path d="M1190,2725l27,6l-10,21l-26,-6z" fill="#00ffb6"/><path d="M1215,2731l27,6l-10,21l-27,-6z" fill="#00ffb9"/><path d="M1240,2737l27,6l-10,21l-27,-6z" fill="#00ffbb"/><path d="M1265,2742l26,6l-9,22l-27,-6z" fill="#00ffbd"/><path d="M1289,2748l27,5l-9,22l-27,-6z" fill="#00ffbf"/><path d="M1314,2753l27,5l-9,22l-27,-5z" fill="#00ffbf"/><path d="M1339,2757l27,5l-9,22l-27,-5z" fill="#00ffc0"/><path d="M1364,2762l27,4l-9,23l-27,-5z" fill="#00ffbf"/><path d="M1389,2766l27,4l-9,23l-27,-4z" fill="#00ffbe"/><path d="M1414,2770l27,4l-9,23l-27,-4z" fill="#00ffbd"/><path d="M1439,2774l27,3l-9,24l-27,-4z" fill="#00ffba"/><path d="M1464,2777l27,4l-9,23l-27,-4z" fill="#00ffb8"/><path d="M1489,2780l27,3l-9,24l-27,-3z" fill="#00ffb4"/><path d="M1514,2783l27,3l-9,24l-27,-3z" fill="#00ffb0"/><path d="M1539,2786l27,2l-9,24l-27,-2z" fill="#00ffac"/><path d="M1564,2788l27,3l-9,24l-27,-3z" fill="#00ffa6"/><path d="M1589,2790l28,2l-9,25l-28,-2z" fill="#00ffa1"/><path d="M1614,2792l28,2l-9,25l-27,-2z" fill="#00ff9a"/><path d="M1640,2794l27,1l-9,25l-27,-1z" fill="#00ff93"/><path d="M1665,2795l28,2l-9,25l-28,-2z" fill="#00ff8c"/><path d="M1691,2797l27,1l-9,25l-27,-1z" fill="#00ff84"/><path d="M1716,2797l28,1l-9,26l-28,-1z" fill="#00ff7b"/><path d="M1742,2798l27,1l-9,25l-27,0z" fill="#00ff72"/><path d="M497,2460l29,16l-12,15l-28,-16z" fill="#7cff00"/><path d="M524,2475l28,16l-11,14l-29,-15z" fill="#69ff00"/><path d="M550,2489l28,15l-11,16l-29,-16z" fill="#56ff00"/><path d="M576,2503l28,15l-11,16l-28,-15z" fill="#43ff00"/><path d="M602,2517l27,14l-11,16l-27,-15z" fill="#32ff00"/><path d="M627,2530l28,14l-11,16l-28,-14z" fill="#20ff00"/><path d="M653,2543l28,14l-11,16l-28,-14z" fill="#10ff00"/><path d="M679,2556l27,13l-10,17l-28,-14z" fill="#00ff00"/><path d="M704,2568l28,13l-11,17l-27,-13z" fill="#00ff10"/><path d="M730,2580l27,13l-10,17l-28,-13z" fill="#00ff1e"/><path d="M755,2592l28,12l-11,18l-27,-13z" fill="#00ff2d"/><path d="M781,2603l27,12l-10,18l-28,-12z" fill="#00ff3a"/><path d="M806,2615l27,11l-10,18l-27,-12z" fill="#00ff47"/><path d="M831,2625l28,12l-11,17l-27,-11z" fill="#00ff54"/><path d="M857,2636l27,11l-10,18l-28,-11z" fill="#00ff5f"/><path d="M882,2646l27,10l-10,19l-28,-11z" fill="#00ff6b"/><path d="M907,2656l27,10l-10,18l-27,-10z" fill="#00ff75"/><path d="M932,2665l27,10l-10,19l-27,-10z" fill="#00ff7f"/><path d="M957,2674l27,10l-10,19l-27,-10z" fill="#00ff89"/><path d="M982,2683l27,10l-10,19l-27,-10z" fill="#00ff92"/><path d="M1007,2692l27,9l-10,19l-27,-9z" fill="#00ff9a"/><path d="M1032,2700l27,9l-10,20l-27,-9z" fill="#00ffa2"/><path d="M1057,2708l27,9l-10,19l-27,-8z" fill="#00ffa9"/><path d="M1082,2716l27,8l-10,20l-27,-8z" fill="#00ffaf"/><path d="M1107,2723l27,8l-10,20l-27,-8z" fill="#00ffb5"/><path d="M1132,2731l26,7l-9,20l-27,-7z" fill="#00ffbb"/><path d="M1156,2738l27,7l-9,20l-27,-7z" fill="#00ffbf"/><path d="M1181,2744l27,7l-9,21l-27,-7z" fill="#00ffc3"/><path d="M1206,2750l27,7l-9,21l-27,-7z" fill="#00ffc7"/><path d="M1231,2756l27,7l-9,21l-27,-7z" fill="#00ffca"/><path d="M1256,2762l27,6l-10,22l-26,-7z" fill="#00ffcc"/><path d="M1281,2768l27,5l-10,22l-27,-6z" fill="#00ffce"/><path d="M1306,2773l27,5l-10,22l-27,-5z" fill="#00ffcf"/><path d="M1331,2778l26,5l-9,22l-27,-5z" fill="#00ffd0"/><path d="M1355,2782l27,5l-9,23l-27,-5z" fill="#00ffd0"/><path d="M1380,2787l27,4l-9,23l-27,-5z" fill="#00ffcf"/><path d="M1405,2791l27,4l-9,23l-27,-4z" fill="#00ffce"/><path d="M1430,2795l27,4l-9,23l-27,-4z" fill="#00ffcc"/><path d="M1455,2799l27,3l-9,23l-27,-4z" fill="#00ffca"/><path d="M1480,2802l27,3l-9,24l-27,-4z" fill="#00ffc7"/><path d="M1505,2805l28,3l-9,24l-28,-4z" fill="#00ffc3"/><path d="M1531,2808l27,3l-9,23l-27,-3z" fill="#00ffbf"/><path d="M1556,2810l27,3l-9,24l-27,-3z" fill="#00ffba"/><path d="M1581,2813l27,2l-9,24l-27,-2z" fill="#00ffb5"/><path d="M1606,2815l28,2l-9,24l-28,-2z" fill="#00ffaf"/><path d="M1632,2817l27,1l-9,25l-27,-2z" fill="#00ffa8"/><path d="M1657,2818l27,2l-9,25l-27,-2z" fill="#00ffa1"/><path d="M1682,2820l28,1l-9,25l-28,-1z" fill="#00ff99"/><path d="M1708,2821l27,1l-8,25l-28,-1z" fill="#00ff91"/><path d="M1733,2822l28,0l-9,26l-27,-1z" fill="#00ff88"/><path d="M487,2474l28,16l-11,14l-29,-16z" fill="#7aff00"/><path d="M513,2489l28,15l-11,15l-28,-16z" fill="#66ff00"/><path d="M539,2503l28,16l-11,15l-28,-16z" fill="#52ff00"/><path d="M565,2517l28,15l-11,16l-28,-15z" fill="#40ff00"/><path d="M591,2531l28,15l-11,16l-28,-15z" fill="#2eff00"/><path d="M617,2545l28,14l-11,16l-28,-15z" fill="#1cff00"/><path d="M643,2558l28,14l-11,16l-28,-14z" fill="#0bff00"/><path d="M669,2571l27,14l-10,16l-28,-14z" fill="#00ff05"/><path d="M694,2584l28,13l-11,16l-27,-13z" fill="#00ff15"/><path d="M720,2596l28,13l-11,16l-28,-13z" fill="#00ff24"/><path d="M746,2608l27,12l-10,17l-28,-12z" fill="#00ff33"/><path d="M771,2619l27,13l-10,17l-28,-13z" fill="#00ff41"/><path d="M796,2631l28,11l-11,18l-27,-12z" fill="#00ff4e"/><path d="M822,2642l27,11l-10,18l-28,-12z" fill="#00ff5b"/><path d="M847,2652l27,11l-10,18l-27,-11z" fill="#00ff68"/><path d="M872,2663l27,10l-10,19l-27,-12z" fill="#00ff73"/><path d="M897,2673l28,10l-10,18l-28,-10z" fill="#00ff7e"/><path d="M923,2682l27,10l-10,19l-27,-10z" fill="#00ff89"/><path d="M948,2692l27,10l-10,18l-27,-10z" fill="#00ff93"/><path d="M973,2701l27,9l-10,19l-27,-9z" fill="#00ff9c"/><path d="M998,2710l27,9l-10,19l-27,-9z" fill="#00ffa4"/><path d="M1023,2718l27,9l-10,20l-27,-10z" fill="#00ffad"/><path d="M1048,2726l27,9l-10,20l-27,-9z" fill="#00ffb4"/><path d="M1073,2734l27,9l-10,19l-27,-8z" fill="#00ffbb"/><path d="M1098,2742l27,8l-10,20l-27,-8z" fill="#00ffc1"/><path d="M1123,2749l27,8l-10,20l-27,-8z" fill="#00ffc7"/><path d="M1148,2756l26,8l-9,20l-27,-7z" fill="#00ffcc"/><path d="M1173,2763l26,7l-9,21l-27,-7z" fill="#00ffd1"/><path d="M1197,2770l27,6l-9,21l-27,-7z" fill="#00ffd5"/><path d="M1222,2776l27,6l-9,21l-27,-6z" fill="#00ffd8"/><path d="M1247,2782l27,6l-9,21l-27,-6z" fill="#00ffdb"/><path d="M1272,2788l27,5l-9,22l-27,-6z" fill="#00ffdd"/><path d="M1297,2793l27,5l-9,22l-27,-6z" fill="#00ffde"/><path d="M1322,2798l27,5l-9,22l-27,-5z" fill="#00ffdf"/><path d="M1347,2803l27,5l-9,22l-27,-5z" fill="#00ffe0"/><path d="M1372,2808l27,4l-9,23l-27,-5z" fill="#00ffdf"/><path d="M1397,2812l27,4l-9,23l-27,-5z" fill="#00ffdf"/><path d="M1422,2816l27,4l-9,23l-27,-5z" fill="#00ffdd"/><path d="M1447,2820l27,4l-9,22l-27,-4z" fill="#00ffdb"/><path d="M1472,2823l27,4l-9,23l-27,-4z" fill="#00ffd9"/><path d="M1497,2827l27,3l-9,23l-27,-3z" fill="#00ffd5"/><path d="M1522,2830l27,3l-9,23l-27,-3z" fill="#00ffd2"/><path d="M1547,2832l28,3l-9,24l-28,-3z" fill="#00ffcd"/><path d="M1573,2835l27,2l-9,24l-27,-2z" fill="#00ffc8"/><path d="M1598,2837l27,2l-9,25l-27,-3z" fill="#00ffc3"/><path d="M1623,2839l28,2l-9,25l-28,-2z" fill="#00ffbd"/><path d="M1649,2841l27,2l-9,24l-27,-1z" fill="#00ffb6"/><path d="M1674,2843l28,1l-9,25l-28,-2z" fill="#00ffae"/><path d="M1700,2844l27,1l-9,25l-27,-1z" fill="#00ffa7"/><path d="M1725,2845l28,1l-9,25l-28,-1z" fill="#00ff9e"/><path d="M476,2487l29,16l-12,15l-28,-17z" fill="#78ff00"/><path d="M503,2502l28,16l-11,15l-29,-16z" fill="#63ff00"/><path d="M529,2517l28,16l-11,15l-28,-16z" fill="#50ff00"/><path d="M555,2531l28,16l-11,15l-28,-16z" fill="#3cff00"/><path d="M581,2546l28,14l-11,16l-28,-15z" fill="#2aff00"/><path d="M607,2559l28,15l-11,16l-28,-15z" fill="#18ff00"/><path d="M633,2573l28,14l-11,16l-28,-15z" fill="#07ff00"/><path d="M659,2586l28,14l-11,16l-28,-14z" fill="#00ff0a"/><path d="M684,2599l28,13l-10,17l-28,-14z" fill="#00ff1a"/><path d="M710,2611l28,13l-11,17l-27,-13z" fill="#00ff2a"/><path d="M736,2623l27,13l-10,17l-28,-13z" fill="#00ff39"/><path d="M761,2635l28,12l-11,18l-27,-13z" fill="#00ff47"/><path d="M787,2647l27,12l-10,17l-28,-12z" fill="#00ff55"/><path d="M812,2658l28,11l-11,18l-27,-12z" fill="#00ff63"/><path d="M838,2669l27,11l-10,18l-28,-12z" fill="#00ff6f"/><path d="M863,2679l27,11l-10,18l-27,-11z" fill="#00ff7b"/><path d="M888,2689l27,11l-10,18l-27,-11z" fill="#00ff87"/><path d="M913,2699l27,11l-10,18l-27,-10z" fill="#00ff91"/><path d="M938,2709l28,10l-10,19l-28,-11z" fill="#00ff9c"/><path d="M964,2718l27,10l-10,19l-27,-10z" fill="#00ffa5"/><path d="M989,2727l27,10l-10,19l-27,-10z" fill="#00ffae"/><path d="M1014,2736l27,9l-10,19l-27,-9z" fill="#00ffb7"/><path d="M1039,2744l27,9l-10,20l-27,-9z" fill="#00ffbf"/><path d="M1064,2753l27,8l-10,20l-27,-9z" fill="#00ffc6"/><path d="M1089,2760l27,9l-10,19l-27,-8z" fill="#00ffcd"/><path d="M1114,2768l27,8l-10,20l-27,-8z" fill="#00ffd3"/><path d="M1139,2775l27,8l-10,20l-27,-8z" fill="#00ffd8"/><path d="M1164,2782l27,7l-10,21l-27,-8z" fill="#00ffdd"/><path d="M1189,2789l27,7l-10,20l-27,-7z" fill="#00ffe2"/><path d="M1214,2795l27,7l-10,21l-27,-7z" fill="#00ffe5"/><path d="M1239,2801l26,7l-9,21l-27,-7z" fill="#00ffe9"/><path d="M1263,2807l27,6l-9,22l-27,-7z" fill="#00ffeb"/><path d="M1288,2813l27,6l-9,21l-27,-6z" fill="#00ffed"/><path d="M1313,2818l27,6l-9,21l-27,-5z" fill="#00ffee"/><path d="M1338,2823l27,5l-9,22l-27,-5z" fill="#00ffef"/><path d="M1363,2828l27,5l-9,22l-27,-5z" fill="#00ffef"/><path d="M1388,2833l27,4l-9,22l-27,-4z" fill="#00ffef"/><path d="M1413,2837l28,4l-10,23l-27,-5z" fill="#00ffee"/><path d="M1439,2841l27,4l-9,23l-28,-5z" fill="#00ffec"/><path d="M1464,2845l27,3l-9,23l-27,-4z" fill="#00ffea"/><path d="M1489,2848l27,3l-9,24l-27,-4z" fill="#00ffe7"/><path d="M1514,2851l27,3l-9,24l-27,-4z" fill="#00ffe4"/><path d="M1539,2854l27,3l-8,24l-28,-3z" fill="#00ffe0"/><path d="M1564,2857l28,3l-9,23l-28,-2z" fill="#00ffdb"/><path d="M1590,2859l27,3l-9,24l-27,-3z" fill="#00ffd6"/><path d="M1615,2862l27,2l-8,24l-28,-2z" fill="#00ffd0"/><path d="M1640,2864l28,2l-9,24l-27,-2z" fill="#00ffca"/><path d="M1666,2866l27,1l-8,25l-28,-2z" fill="#00ffc3"/><path d="M1691,2867l28,1l-9,25l-27,-1z" fill="#00ffbc"/><path d="M1717,2868l28,2l-9,25l-28,-2z" fill="#00ffb3"/><path d="M466,2500l28,17l-11,14l-29,-17z" fill="#76ff00"/><path d="M492,2516l29,16l-12,14l-28,-16z" fill="#61ff00"/><path d="M518,2531l29,15l-11,15l-29,-16z" fill="#4dff00"/><path d="M545,2545l28,16l-11,15l-29,-16z" fill="#3aff00"/><path d="M571,2560l28,15l-11,15l-28,-15z" fill="#27ff00"/><path d="M597,2574l28,14l-11,16l-28,-15z" fill="#14ff00"/><path d="M623,2587l28,15l-11,15l-28,-14z" fill="#03ff00"/><path d="M649,2601l28,14l-11,16l-28,-15z" fill="#00ff0f"/><path d="M675,2614l27,13l-10,17l-28,-14z" fill="#00ff1f"/><path d="M700,2626l28,14l-11,16l-27,-13z" fill="#00ff2f"/><path d="M726,2639l28,13l-11,16l-28,-13z" fill="#00ff3f"/><path d="M752,2651l27,12l-10,17l-28,-13z" fill="#00ff4d"/><path d="M777,2662l28,13l-11,17l-27,-13z" fill="#00ff5c"/><path d="M803,2674l27,12l-10,17l-28,-12z" fill="#00ff69"/><path d="M828,2685l27,11l-10,18l-27,-12z" fill="#00ff76"/><path d="M853,2696l28,11l-10,18l-28,-12z" fill="#00ff83"/><path d="M879,2706l27,11l-10,18l-27,-11z" fill="#00ff8f"/><path d="M904,2716l27,11l-10,18l-27,-11z" fill="#00ff9a"/><path d="M929,2726l27,10l-10,19l-27,-11z" fill="#00ffa4"/><path d="M954,2736l28,9l-10,19l-28,-10z" fill="#00ffaf"/><path d="M980,2745l27,9l-10,19l-27,-10z" fill="#00ffb8"/><path d="M1005,2754l27,9l-10,19l-27,-9z" fill="#00ffc1"/><path d="M1030,2762l27,9l-10,20l-27,-10z" fill="#00ffc9"/><path d="M1055,2771l27,8l-10,20l-27,-9z" fill="#00ffd1"/><path d="M1080,2779l27,8l-10,20l-27,-9z" fill="#00ffd8"/><path d="M1105,2786l27,8l-10,20l-27,-8z" fill="#00ffde"/><path d="M1130,2794l27,8l-10,20l-27,-8z" fill="#00ffe4"/><path d="M1155,2801l27,7l-9,21l-28,-8z" fill="#00ffea"/><path d="M1180,2808l27,7l-9,20l-27,-7z" fill="#00ffee"/><path d="M1205,2814l27,7l-9,21l-27,-7z" fill="#00fff3"/><path d="M1230,2821l27,6l-9,21l-27,-7z" fill="#00fff6"/><path d="M1255,2827l27,6l-9,21l-27,-6z" fill="#00fff9"/><path d="M1280,2833l27,6l-9,21l-27,-6z" fill="#00fffb"/><path d="M1305,2838l27,6l-9,21l-27,-6z" fill="#00fffd"/><path d="M1330,2843l27,6l-9,21l-27,-5z" fill="#00fffe"/><path d="M1355,2848l27,5l-9,22l-27,-5z" fill="#00ffff"/><path d="M1380,2853l27,5l-9,22l-27,-5z" fill="#00ffff"/><path d="M1405,2857l27,5l-9,22l-27,-4z" fill="#00fffe"/><path d="M1430,2862l27,4l-9,22l-27,-4z" fill="#00fffd"/><path d="M1455,2866l27,4l-9,22l-27,-4z" fill="#00fffb"/><path d="M1480,2869l28,4l-9,23l-28,-4z" fill="#00fff9"/><path d="M1506,2873l27,3l-9,23l-27,-3z" fill="#00fff6"/><path d="M1531,2876l27,3l-9,23l-27,-3z" fill="#00fff2"/><path d="M1556,2879l27,3l-8,23l-28,-3z" fill="#00ffee"/><path d="M1581,2881l28,3l-9,24l-27,-3z" fill="#00ffe9"/><path d="M1607,2884l27,2l-8,24l-28,-2z" fill="#00ffe4"/><path d="M1632,2886l28,2l-9,25l-28,-3z" fill="#00ffde"/><path d="M1658,2888l27,2l-8,24l-28,-2z" fill="#00ffd7"/><path d="M1683,2890l28,2l-9,24l-27,-2z" fill="#00ffd0"/><path d="M1709,2891l28,2l-9,25l-28,-2z" fill="#00ffc9"/><path d="M455,2513l29,17l-12,14l-28,-17z" fill="#75ff00"/><path d="M482,2529l28,16l-11,15l-29,-17z" fill="#60ff00"/><path d="M508,2544l28,16l-11,15l-28,-17z" fill="#4bff00"/><path d="M534,2559l29,16l-11,15l-29,-16z" fill="#37ff00"/><path d="M561,2574l28,15l-11,15l-29,-16z" fill="#24ff00"/><path d="M587,2588l28,15l-11,15l-28,-15z" fill="#11ff00"/><path d="M613,2602l28,14l-11,16l-28,-15z" fill="#00ff01"/><path d="M639,2615l28,15l-11,15l-28,-14z" fill="#00ff13"/><path d="M665,2628l27,14l-10,17l-28,-15z" fill="#00ff24"/><path d="M690,2641l28,14l-10,16l-28,-14z" fill="#00ff34"/><path d="M716,2654l28,13l-11,17l-27,-14z" fill="#00ff44"/><path d="M742,2666l28,13l-11,17l-28,-13z" fill="#00ff53"/><path d="M767,2678l28,13l-10,17l-28,-13z" fill="#00ff62"/><path d="M793,2690l28,12l-11,17l-27,-12z" fill="#00ff70"/><path d="M819,2701l27,12l-10,17l-28,-12z" fill="#00ff7d"/><path d="M844,2712l27,11l-10,18l-27,-12z" fill="#00ff8a"/><path d="M869,2723l28,11l-10,18l-28,-12z" fill="#00ff96"/><path d="M895,2733l27,11l-10,18l-27,-11z" fill="#00ffa2"/><path d="M920,2743l27,10l-10,19l-27,-11z" fill="#00ffad"/><path d="M945,2753l27,10l-9,18l-28,-10z" fill="#00ffb7"/><path d="M970,2762l28,10l-10,19l-27,-10z" fill="#00ffc1"/><path d="M996,2771l27,10l-10,19l-27,-10z" fill="#00ffca"/><path d="M1021,2780l27,9l-10,19l-27,-9z" fill="#00ffd3"/><path d="M1046,2788l27,9l-10,20l-27,-9z" fill="#00ffdb"/><path d="M1071,2797l27,8l-9,20l-28,-9z" fill="#00ffe3"/><path d="M1096,2805l27,8l-9,20l-27,-9z" fill="#00ffea"/><path d="M1121,2812l27,8l-9,20l-27,-8z" fill="#00fff0"/><path d="M1146,2820l27,7l-9,20l-27,-7z" fill="#00fff6"/><path d="M1171,2827l27,7l-9,20l-27,-7z" fill="#00fffb"/><path d="M1196,2833l27,7l-9,21l-27,-7z" fill="#00ffff"/><path d="M1221,2840l27,7l-9,20l-27,-6z" fill="#00fbff"/><path d="M1246,2846l27,7l-9,21l-27,-7z" fill="#00f8ff"/><path d="M1271,2852l27,6l-9,21l-27,-6z" fill="#00f5ff"/><path d="M1296,2858l27,6l-9,21l-27,-6z" fill="#00f3ff"/><path d="M1321,2863l27,6l-9,21l-27,-5z" fill="#00f1ff"/><path d="M1346,2868l28,6l-9,21l-28,-5z" fill="#00f0ff"/><path d="M1372,2873l27,5l-9,22l-28,-5z" fill="#00f0ff"/><path d="M1397,2878l27,5l-9,22l-27,-5z" fill="#00f0ff"/><path d="M1422,2882l27,5l-9,22l-27,-4z" fill="#00f1ff"/><path d="M1447,2886l27,5l-9,22l-27,-4z" fill="#00f2ff"/><path d="M1472,2890l27,4l-9,23l-27,-4z" fill="#00f4ff"/><path d="M1497,2894l28,4l-9,23l-28,-4z" fill="#00f7ff"/><path d="M1523,2897l27,4l-9,23l-27,-4z" fill="#00faff"/><path d="M1548,2900l27,4l-9,23l-27,-3z" fill="#00feff"/><path d="M1573,2903l28,3l-9,24l-28,-3z" fill="#00fffc"/><path d="M1599,2906l27,3l-9,23l-27,-2z" fill="#00fff7"/><path d="M1624,2908l28,3l-9,24l-28,-3z" fill="#00fff1"/><path d="M1650,2911l27,2l-9,24l-27,-2z" fill="#00ffeb"/><path d="M1675,2913l28,1l-9,25l-28,-2z" fill="#00ffe5"/><path d="M1701,2914l28,2l-9,24l-28,-1z" fill="#00ffdd"/><path d="M444,2526l29,17l-11,14l-29,-17z" fill="#74ff00"/><path d="M471,2542l29,17l-12,14l-28,-17z" fill="#5fff00"/><path d="M498,2557l28,17l-11,14l-29,-16z" fill="#4aff00"/><path d="M524,2573l28,16l-11,14l-28,-16z" fill="#35ff00"/><path d="M550,2587l29,16l-11,15l-29,-16z" fill="#22ff00"/><path d="M577,2602l28,15l-11,15l-28,-15z" fill="#0eff00"/><path d="M603,2616l28,15l-11,15l-28,-15z" fill="#00ff04"/><path d="M629,2630l28,14l-11,16l-28,-15z" fill="#00ff16"/><path d="M655,2643l28,14l-11,16l-28,-14z" fill="#00ff28"/><path d="M681,2656l27,14l-10,16l-28,-14z" fill="#00ff38"/><path d="M706,2669l28,14l-10,16l-28,-14z" fill="#00ff49"/><path d="M732,2682l28,13l-11,16l-27,-13z" fill="#00ff58"/><path d="M758,2694l27,12l-10,17l-28,-13z" fill="#00ff67"/><path d="M783,2705l28,13l-10,17l-28,-13z" fill="#00ff76"/><path d="M809,2717l28,12l-11,17l-27,-12z" fill="#00ff83"/><path d="M835,2728l27,12l-10,17l-28,-12z" fill="#00ff91"/><path d="M860,2739l27,11l-10,18l-27,-12z" fill="#00ff9d"/><path d="M885,2749l28,12l-10,17l-28,-11z" fill="#00ffa9"/><path d="M911,2760l27,10l-10,19l-27,-11z" fill="#00ffb5"/><path d="M936,2770l27,10l-10,18l-27,-10z" fill="#00ffc0"/><path d="M961,2779l28,10l-10,19l-28,-10z" fill="#00ffca"/><path d="M987,2789l27,9l-10,19l-27,-10z" fill="#00ffd3"/><path d="M1012,2798l27,9l-10,19l-27,-10z" fill="#00ffdd"/><path d="M1037,2806l27,9l-10,19l-27,-9z" fill="#00ffe5"/><path d="M1062,2815l27,8l-9,20l-28,-9z" fill="#00ffed"/><path d="M1087,2823l27,8l-9,20l-27,-9z" fill="#00fff4"/><path d="M1112,2831l27,8l-9,20l-27,-9z" fill="#00fffb"/><path d="M1137,2838l28,8l-10,20l-27,-8z" fill="#00fdff"/><path d="M1162,2845l28,8l-10,20l-27,-8z" fill="#00f7ff"/><path d="M1188,2852l27,8l-10,20l-27,-7z" fill="#00f3ff"/><path d="M1213,2859l27,7l-10,21l-27,-8z" fill="#00eeff"/><path d="M1238,2865l27,7l-9,21l-28,-7z" fill="#00eaff"/><path d="M1263,2872l27,6l-9,21l-27,-7z" fill="#00e7ff"/><path d="M1288,2877l27,7l-9,21l-27,-7z" fill="#00e5ff"/><path d="M1313,2883l27,6l-9,21l-27,-6z" fill="#00e3ff"/><path d="M1338,2888l27,6l-9,21l-27,-5z" fill="#00e1ff"/><path d="M1363,2893l27,6l-9,21l-27,-5z" fill="#00e1ff"/><path d="M1388,2898l27,5l-8,22l-28,-5z" fill="#00e1ff"/><path d="M1413,2903l28,5l-9,22l-28,-5z" fill="#00e1ff"/><path d="M1439,2907l27,5l-9,22l-27,-5z" fill="#00e2ff"/><path d="M1464,2911l27,4l-9,23l-27,-4z" fill="#00e4ff"/><path d="M1489,2915l27,4l-8,23l-28,-4z" fill="#00e6ff"/><path d="M1514,2919l28,3l-9,23l-27,-4z" fill="#00e9ff"/><path d="M1540,2922l27,3l-9,23l-27,-3z" fill="#00ecff"/><path d="M1565,2925l28,3l-9,23l-28,-3z" fill="#00f0ff"/><path d="M1591,2928l27,3l-9,23l-27,-3z" fill="#00f4ff"/><path d="M1616,2930l28,3l-9,24l-28,-3z" fill="#00faff"/><path d="M1642,2933l27,2l-9,24l-27,-2z" fill="#00ffff"/><path d="M1667,2935l28,2l-9,24l-28,-2z" fill="#00fff8"/><path d="M1693,2937l27,2l-8,24l-28,-2z" fill="#00fff1"/><path d="M434,2539l29,17l-12,14l-29,-18z" fill="#74ff00"/><path d="M460,2555l29,17l-11,14l-29,-17z" fill="#5eff00"/><path d="M487,2571l29,16l-11,15l-29,-17z" fill="#49ff00"/><path d="M514,2586l28,16l-11,15l-29,-17z" fill="#34ff00"/><path d="M540,2601l28,16l-11,15l-28,-16z" fill="#20ff00"/><path d="M566,2616l29,15l-11,15l-29,-15z" fill="#0cff00"/><path d="M593,2630l28,15l-11,16l-28,-16z" fill="#00ff07"/><path d="M619,2644l28,15l-11,15l-28,-15z" fill="#00ff19"/><path d="M645,2658l28,14l-11,16l-28,-15z" fill="#00ff2b"/><path d="M671,2671l28,14l-11,16l-28,-14z" fill="#00ff3c"/><path d="M697,2684l28,14l-11,16l-28,-14z" fill="#00ff4d"/><path d="M722,2697l28,13l-10,17l-28,-14z" fill="#00ff5d"/><path d="M748,2709l28,13l-10,17l-28,-13z" fill="#00ff6c"/><path d="M774,2721l28,13l-11,17l-27,-13z" fill="#00ff7b"/><path d="M800,2733l27,12l-10,17l-28,-12z" fill="#00ff89"/><path d="M825,2744l28,12l-10,17l-28,-12z" fill="#00ff97"/><path d="M851,2755l27,12l-10,17l-27,-11z" fill="#00ffa4"/><path d="M876,2766l28,11l-10,18l-28,-11z" fill="#00ffb0"/><path d="M901,2776l28,11l-10,18l-27,-11z" fill="#00ffbc"/><path d="M927,2786l27,11l-10,18l-27,-11z" fill="#00ffc7"/><path d="M952,2796l28,10l-10,19l-28,-11z" fill="#00ffd2"/><path d="M977,2806l28,10l-10,18l-27,-10z" fill="#00ffdc"/><path d="M1003,2815l27,10l-10,18l-27,-9z" fill="#00ffe6"/><path d="M1028,2824l27,9l-9,19l-28,-9z" fill="#00ffee"/><path d="M1053,2832l27,9l-9,20l-27,-10z" fill="#00fff7"/><path d="M1078,2841l28,8l-10,20l-27,-9z" fill="#00fffe"/><path d="M1104,2849l27,8l-10,20l-27,-9z" fill="#00f8ff"/><path d="M1129,2856l27,8l-10,20l-27,-8z" fill="#00f2ff"/><path d="M1154,2864l27,8l-9,20l-28,-8z" fill="#00ecff"/><path d="M1179,2871l27,7l-9,21l-27,-8z" fill="#00e7ff"/><path d="M1204,2878l27,7l-9,20l-27,-7z" fill="#00e2ff"/><path d="M1229,2885l27,6l-9,21l-27,-7z" fill="#00deff"/><path d="M1254,2891l27,6l-9,21l-27,-7z" fill="#00daff"/><path d="M1279,2897l28,6l-10,21l-27,-6z" fill="#00d7ff"/><path d="M1305,2903l27,6l-9,21l-28,-6z" fill="#00d5ff"/><path d="M1330,2908l27,6l-9,21l-27,-6z" fill="#00d3ff"/><path d="M1355,2913l27,6l-9,22l-27,-6z" fill="#00d2ff"/><path d="M1380,2918l27,6l-9,21l-27,-5z" fill="#00d2ff"/><path d="M1405,2923l27,5l-9,22l-27,-5z" fill="#00d2ff"/><path d="M1430,2928l28,4l-9,23l-28,-5z" fill="#00d2ff"/><path d="M1456,2932l27,4l-9,23l-27,-5z" fill="#00d3ff"/><path d="M1481,2936l27,4l-9,23l-27,-5z" fill="#00d5ff"/><path d="M1506,2940l28,3l-9,23l-28,-4z" fill="#00d8ff"/><path d="M1532,2943l27,4l-9,23l-27,-4z" fill="#00dbff"/><path d="M1557,2946l27,4l-8,23l-28,-4z" fill="#00deff"/><path d="M1582,2950l28,3l-9,23l-27,-3z" fill="#00e2ff"/><path d="M1608,2952l27,3l-8,24l-28,-3z" fill="#00e7ff"/><path d="M1633,2955l28,2l-9,24l-27,-3z" fill="#00ecff"/><path d="M1659,2957l28,2l-9,24l-28,-2z" fill="#00f2ff"/><path d="M1685,2959l27,2l-8,25l-28,-3z" fill="#00f9ff"/><path d="M423,2551l29,18l-11,14l-29,-18z" fill="#74ff00"/><path d="M450,2568l29,17l-12,14l-28,-18z" fill="#5eff00"/><path d="M477,2584l28,16l-11,15l-29,-17z" fill="#48ff00"/><path d="M503,2599l29,17l-11,14l-29,-17z" fill="#33ff00"/><path d="M530,2615l28,16l-11,14l-28,-16z" fill="#1eff00"/><path d="M556,2629l29,16l-11,15l-29,-16z" fill="#0aff00"/><path d="M582,2644l29,15l-11,16l-28,-16z" fill="#00ff09"/><path d="M609,2658l28,15l-11,16l-28,-16z" fill="#00ff1c"/><path d="M635,2672l28,15l-11,15l-28,-14z" fill="#00ff2e"/><path d="M661,2686l28,14l-11,16l-28,-15z" fill="#00ff40"/><path d="M687,2699l28,14l-11,16l-28,-14z" fill="#00ff51"/><path d="M713,2712l28,13l-11,17l-28,-14z" fill="#00ff61"/><path d="M739,2724l27,14l-10,16l-28,-13z" fill="#00ff71"/><path d="M764,2737l28,12l-10,17l-28,-13z" fill="#00ff80"/><path d="M790,2748l28,13l-10,17l-28,-13z" fill="#00ff8f"/><path d="M816,2760l27,12l-10,17l-28,-12z" fill="#00ff9d"/><path d="M841,2771l28,12l-10,18l-28,-12z" fill="#00ffaa"/><path d="M867,2782l27,12l-10,17l-27,-11z" fill="#00ffb7"/><path d="M892,2793l28,11l-10,18l-28,-11z" fill="#00ffc3"/><path d="M918,2803l27,11l-10,18l-27,-11z" fill="#00ffcf"/><path d="M943,2813l27,11l-9,18l-28,-11z" fill="#00ffda"/><path d="M968,2823l28,10l-10,18l-27,-10z" fill="#00ffe4"/><path d="M994,2832l27,10l-10,19l-27,-10z" fill="#00ffee"/><path d="M1019,2841l27,10l-9,19l-28,-10z" fill="#00fff7"/><path d="M1044,2850l28,9l-10,19l-27,-9z" fill="#00feff"/><path d="M1070,2859l27,8l-10,20l-27,-9z" fill="#00f6ff"/><path d="M1095,2867l27,8l-9,20l-28,-9z" fill="#00eeff"/><path d="M1120,2875l27,8l-9,20l-27,-9z" fill="#00e7ff"/><path d="M1145,2882l27,8l-9,20l-27,-8z" fill="#00e1ff"/><path d="M1170,2890l27,7l-9,20l-27,-7z" fill="#00dbff"/><path d="M1195,2897l28,7l-10,20l-27,-7z" fill="#00d6ff"/><path d="M1221,2903l27,7l-9,21l-28,-7z" fill="#00d2ff"/><path d="M1246,2910l27,7l-9,20l-27,-7z" fill="#00ceff"/><path d="M1271,2916l27,7l-9,21l-27,-7z" fill="#00caff"/><path d="M1296,2922l27,6l-9,21l-27,-6z" fill="#00c8ff"/><path d="M1321,2928l27,6l-9,21l-27,-6z" fill="#00c6ff"/><path d="M1346,2933l28,6l-9,21l-28,-5z" fill="#00c4ff"/><path d="M1372,2939l27,5l-9,21l-27,-5z" fill="#00c3ff"/><path d="M1397,2943l27,5l-9,22l-27,-5z" fill="#00c3ff"/><path d="M1422,2948l27,5l-8,22l-28,-5z" fill="#00c3ff"/><path d="M1447,2953l28,4l-9,22l-27,-4z" fill="#00c4ff"/><path d="M1473,2957l27,4l-9,22l-27,-4z" fill="#00c5ff"/><path d="M1498,2961l27,4l-8,22l-28,-4z" fill="#00c7ff"/><path d="M1523,2964l28,4l-9,23l-27,-4z" fill="#00caff"/><path d="M1549,2968l27,3l-8,23l-28,-3z" fill="#00cdff"/><path d="M1574,2971l28,3l-9,23l-27,-3z" fill="#00d1ff"/><path d="M1600,2974l27,3l-8,23l-28,-3z" fill="#00d5ff"/><path d="M1625,2977l28,2l-9,24l-27,-3z" fill="#00daff"/><path d="M1651,2979l28,3l-9,24l-28,-3z" fill="#00dfff"/><path d="M1677,2982l27,2l-8,24l-28,-3z" fill="#00e6ff"/><path d="M412,2564l30,18l-12,13l-29,-18z" fill="#75ff00"/><path d="M439,2580l29,18l-11,14l-29,-18z" fill="#5eff00"/><path d="M466,2597l29,17l-11,14l-29,-18z" fill="#48ff00"/><path d="M493,2612l29,17l-12,14l-28,-17z" fill="#32ff00"/><path d="M519,2628l29,16l-11,15l-29,-17z" fill="#1dff00"/><path d="M546,2643l28,16l-11,15l-28,-16z" fill="#09ff00"/><path d="M572,2658l29,16l-11,15l-29,-16z" fill="#00ff0b"/><path d="M599,2672l28,16l-11,15l-28,-16z" fill="#00ff1e"/><path d="M625,2686l28,15l-11,16l-28,-15z" fill="#00ff31"/><path d="M651,2700l28,15l-10,16l-29,-15z" fill="#00ff43"/><path d="M677,2714l28,14l-10,16l-29,-15z" fill="#00ff54"/><path d="M703,2727l28,14l-10,16l-28,-14z" fill="#00ff65"/><path d="M729,2740l28,13l-11,16l-27,-13z" fill="#00ff75"/><path d="M755,2752l28,13l-11,17l-28,-14z" fill="#00ff85"/><path d="M781,2764l27,13l-10,17l-28,-13z" fill="#00ff94"/><path d="M806,2776l28,12l-10,17l-28,-12z" fill="#00ffa2"/><path d="M832,2787l28,12l-10,18l-28,-13z" fill="#00ffb0"/><path d="M857,2798l28,12l-10,18l-28,-12z" fill="#00ffbd"/><path d="M883,2809l28,12l-10,17l-28,-11z" fill="#00ffca"/><path d="M909,2820l27,11l-10,18l-27,-12z" fill="#00ffd6"/><path d="M934,2830l27,11l-9,18l-28,-11z" fill="#00ffe1"/><path d="M959,2840l28,10l-10,18l-27,-10z" fill="#00ffec"/><path d="M985,2849l27,10l-9,19l-28,-10z" fill="#00fff6"/><path d="M1010,2859l27,9l-9,19l-28,-10z" fill="#00feff"/><path d="M1035,2868l28,9l-10,19l-27,-10z" fill="#00f5ff"/><path d="M1061,2876l27,9l-9,19l-28,-9z" fill="#00ecff"/><path d="M1086,2885l27,8l-9,20l-27,-9z" fill="#00e5ff"/><path d="M1111,2893l27,8l-9,20l-27,-9z" fill="#00ddff"/><path d="M1136,2901l28,8l-10,19l-27,-8z" fill="#00d7ff"/><path d="M1162,2908l27,8l-9,20l-28,-8z" fill="#00d0ff"/><path d="M1187,2915l27,8l-9,20l-27,-8z" fill="#00cbff"/><path d="M1212,2922l27,7l-9,21l-27,-8z" fill="#00c6ff"/><path d="M1237,2929l27,7l-9,20l-27,-7z" fill="#00c2ff"/><path d="M1262,2935l28,7l-9,21l-28,-7z" fill="#00beff"/><path d="M1288,2941l27,7l-9,21l-27,-7z" fill="#00bbff"/><path d="M1313,2947l27,6l-9,22l-27,-7z" fill="#00b8ff"/><path d="M1338,2953l27,6l-9,21l-27,-6z" fill="#00b6ff"/><path d="M1363,2958l28,6l-9,21l-28,-5z" fill="#00b5ff"/><path d="M1389,2963l27,6l-9,21l-27,-5z" fill="#00b4ff"/><path d="M1414,2968l27,5l-9,22l-27,-5z" fill="#00b4ff"/><path d="M1439,2973l28,5l-9,22l-28,-5z" fill="#00b4ff"/><path d="M1464,2977l28,5l-9,22l-27,-5z" fill="#00b5ff"/><path d="M1490,2981l27,5l-8,22l-28,-4z" fill="#00b7ff"/><path d="M1515,2985l28,4l-9,23l-27,-4z" fill="#00b9ff"/><path d="M1541,2989l27,4l-8,22l-28,-3z" fill="#00bcff"/><path d="M1566,2992l28,4l-9,23l-28,-4z" fill="#00bfff"/><path d="M1592,2995l27,4l-8,23l-28,-4z" fill="#00c3ff"/><path d="M1617,2998l28,3l-9,24l-27,-3z" fill="#00c8ff"/><path d="M1643,3001l28,3l-9,23l-28,-2z" fill="#00cdff"/><path d="M1669,3004l27,2l-8,24l-28,-3z" fill="#00d3ff"/><path d="M402,2576l29,18l-12,14l-29,-19z" fill="#76ff00"/><path d="M429,2593l29,18l-12,13l-29,-18z" fill="#5eff00"/><path d="M456,2609l29,18l-12,14l-29,-18z" fill="#48ff00"/><path d="M482,2625l29,17l-11,15l-29,-18z" fill="#32ff00"/><path d="M509,2641l29,17l-11,14l-29,-17z" fill="#1dff00"/><path d="M536,2657l28,16l-11,14l-28,-16z" fill="#08ff00"/><path d="M562,2672l29,15l-11,15l-29,-16z" fill="#00ff0c"/><path d="M589,2686l28,16l-11,15l-28,-16z" fill="#00ff20"/><path d="M615,2701l28,15l-10,15l-29,-15z" fill="#00ff33"/><path d="M641,2715l28,14l-10,16l-29,-15z" fill="#00ff45"/><path d="M667,2728l28,15l-10,15l-28,-14z" fill="#00ff57"/><path d="M693,2742l28,14l-10,16l-28,-15z" fill="#00ff68"/><path d="M719,2755l28,13l-10,16l-28,-13z" fill="#00ff79"/><path d="M745,2767l28,13l-10,17l-28,-14z" fill="#00ff89"/><path d="M771,2779l28,13l-10,17l-28,-13z" fill="#00ff98"/><path d="M797,2791l28,13l-10,17l-28,-13z" fill="#00ffa7"/><path d="M823,2803l27,12l-10,17l-28,-12z" fill="#00ffb5"/><path d="M848,2814l28,12l-10,18l-28,-12z" fill="#00ffc3"/><path d="M874,2825l27,12l-9,18l-28,-12z" fill="#00ffd0"/><path d="M899,2836l28,11l-10,18l-28,-11z" fill="#00ffdc"/><path d="M925,2846l27,11l-9,18l-28,-11z" fill="#00ffe8"/><path d="M950,2857l28,10l-10,18l-27,-10z" fill="#00fff3"/><path d="M976,2866l27,11l-9,18l-28,-10z" fill="#00fffe"/><path d="M1001,2876l28,10l-10,18l-27,-10z" fill="#00f6ff"/><path d="M1027,2885l27,9l-10,19l-27,-9z" fill="#00ecff"/><path d="M1052,2894l27,9l-9,19l-28,-9z" fill="#00e4ff"/><path d="M1077,2902l28,9l-10,19l-27,-9z" fill="#00dbff"/><path d="M1103,2911l27,8l-10,20l-27,-9z" fill="#00d4ff"/><path d="M1128,2919l27,8l-9,20l-28,-9z" fill="#00ccff"/><path d="M1153,2926l27,8l-9,20l-27,-8z" fill="#00c6ff"/><path d="M1178,2934l28,7l-10,20l-27,-7z" fill="#00c0ff"/><path d="M1204,2941l27,7l-9,20l-28,-7z" fill="#00bbff"/><path d="M1229,2948l27,7l-9,20l-27,-7z" fill="#00b6ff"/><path d="M1254,2954l27,7l-9,21l-27,-7z" fill="#00b2ff"/><path d="M1279,2961l28,6l-9,21l-28,-7z" fill="#00aeff"/><path d="M1305,2967l27,6l-9,21l-28,-7z" fill="#00abff"/><path d="M1330,2973l27,6l-9,21l-27,-7z" fill="#00a9ff"/><path d="M1355,2978l27,6l-9,21l-27,-6z" fill="#00a7ff"/><path d="M1380,2983l28,6l-9,21l-28,-5z" fill="#00a6ff"/><path d="M1406,2988l27,6l-9,21l-27,-5z" fill="#00a6ff"/><path d="M1431,2993l27,5l-8,22l-28,-5z" fill="#00a6ff"/><path d="M1456,2998l28,4l-9,22l-27,-4z" fill="#00a6ff"/><path d="M1482,3002l27,4l-9,23l-27,-5z" fill="#00a7ff"/><path d="M1507,3006l28,4l-9,23l-28,-5z" fill="#00a9ff"/><path d="M1533,3010l27,4l-8,22l-28,-4z" fill="#00acff"/><path d="M1558,3013l28,4l-9,23l-28,-4z" fill="#00afff"/><path d="M1584,3017l27,3l-8,23l-28,-3z" fill="#00b2ff"/><path d="M1609,3020l28,3l-9,23l-27,-3z" fill="#00b6ff"/><path d="M1635,3023l28,3l-9,23l-28,-3z" fill="#00bbff"/><path d="M1661,3025l28,3l-9,24l-28,-3z" fill="#00c0ff"/><path d="M391,2588l29,19l-11,13l-29,-19z" fill="#77ff00"/><path d="M418,2605l29,18l-11,14l-29,-19z" fill="#60ff00"/><path d="M445,2622l29,18l-11,13l-29,-18z" fill="#49ff00"/><path d="M472,2638l29,18l-11,14l-29,-18z" fill="#32ff00"/><path d="M499,2654l29,17l-11,14l-29,-17z" fill="#1dff00"/><path d="M525,2670l29,16l-11,15l-29,-17z" fill="#07ff00"/><path d="M552,2685l29,16l-11,15l-29,-16z" fill="#00ff0d"/><path d="M579,2700l28,16l-11,15l-28,-16z" fill="#00ff21"/><path d="M605,2715l28,15l-10,15l-29,-15z" fill="#00ff34"/><path d="M631,2729l29,15l-11,15l-28,-15z" fill="#00ff47"/><path d="M657,2743l29,14l-11,16l-28,-15z" fill="#00ff59"/><path d="M684,2756l28,14l-11,16l-28,-14z" fill="#00ff6b"/><path d="M710,2769l28,14l-11,16l-28,-14z" fill="#00ff7c"/><path d="M736,2782l28,14l-11,16l-28,-14z" fill="#00ff8c"/><path d="M762,2795l27,13l-10,16l-28,-13z" fill="#00ff9c"/><path d="M787,2807l28,13l-10,17l-28,-13z" fill="#00ffab"/><path d="M813,2819l28,12l-10,17l-28,-12z" fill="#00ffba"/><path d="M839,2830l28,12l-10,18l-28,-13z" fill="#00ffc8"/><path d="M865,2842l27,11l-10,18l-27,-12z" fill="#00ffd5"/><path d="M890,2852l28,12l-10,17l-28,-11z" fill="#00ffe2"/><path d="M916,2863l27,11l-9,18l-28,-11z" fill="#00ffef"/><path d="M941,2873l28,11l-10,18l-27,-11z" fill="#00fffa"/><path d="M967,2883l27,11l-9,18l-28,-11z" fill="#00f9ff"/><path d="M992,2893l28,10l-10,18l-27,-10z" fill="#00eeff"/><path d="M1018,2902l27,10l-9,19l-28,-10z" fill="#00e4ff"/><path d="M1043,2911l28,10l-10,18l-27,-9z" fill="#00dbff"/><path d="M1068,2920l28,9l-10,19l-27,-9z" fill="#00d2ff"/><path d="M1094,2928l27,9l-9,19l-28,-9z" fill="#00caff"/><path d="M1119,2937l27,8l-9,19l-27,-8z" fill="#00c3ff"/><path d="M1144,2944l28,9l-9,19l-28,-8z" fill="#00bcff"/><path d="M1170,2952l27,8l-9,20l-27,-8z" fill="#00b6ff"/><path d="M1195,2959l27,8l-9,20l-27,-8z" fill="#00b0ff"/><path d="M1220,2966l28,8l-9,20l-28,-8z" fill="#00abff"/><path d="M1246,2973l27,7l-9,21l-27,-8z" fill="#00a6ff"/><path d="M1271,2980l27,6l-9,21l-27,-7z" fill="#00a2ff"/><path d="M1296,2986l27,6l-8,21l-28,-7z" fill="#009fff"/><path d="M1321,2992l28,6l-9,21l-28,-6z" fill="#009cff"/><path d="M1347,2998l27,6l-9,21l-27,-6z" fill="#009aff"/><path d="M1372,3003l27,6l-8,21l-28,-6z" fill="#0098ff"/><path d="M1397,3008l28,6l-9,21l-27,-5z" fill="#0098ff"/><path d="M1423,3013l27,5l-9,22l-27,-5z" fill="#0097ff"/><path d="M1448,3018l28,5l-9,22l-28,-5z" fill="#0097ff"/><path d="M1474,3022l27,5l-9,22l-27,-5z" fill="#0098ff"/><path d="M1499,3027l28,4l-9,22l-28,-4z" fill="#009aff"/><path d="M1525,3031l27,4l-9,22l-27,-4z" fill="#009cff"/><path d="M1550,3034l28,4l-9,23l-28,-4z" fill="#009eff"/><path d="M1576,3038l27,3l-8,23l-28,-3z" fill="#00a1ff"/><path d="M1601,3041l28,4l-9,23l-27,-4z" fill="#00a5ff"/><path d="M1627,3044l28,3l-9,24l-28,-4z" fill="#00a9ff"/><path d="M1653,3047l28,3l-9,23l-28,-3z" fill="#00aeff"/><path d="M380,2600l30,19l-12,13l-29,-19z" fill="#79ff00"/><path d="M408,2617l29,19l-12,13l-29,-18z" fill="#61ff00"/><path d="M435,2634l29,18l-11,14l-30,-18z" fill="#4aff00"/><path d="M462,2651l29,18l-12,13l-29,-17z" fill="#33ff00"/><path d="M488,2667l29,17l-11,14l-29,-17z" fill="#1dff00"/><path d="M515,2683l29,17l-11,14l-29,-17z" fill="#07ff00"/><path d="M542,2699l29,16l-11,15l-29,-17z" fill="#00ff0e"/><path d="M568,2714l29,16l-11,15l-28,-17z" fill="#00ff22"/><path d="M595,2729l28,15l-10,15l-29,-16z" fill="#00ff36"/><path d="M621,2743l29,15l-11,15l-28,-15z" fill="#00ff49"/><path d="M648,2757l28,15l-11,15l-28,-15z" fill="#00ff5b"/><path d="M674,2771l28,14l-10,16l-29,-15z" fill="#00ff6d"/><path d="M700,2784l28,14l-10,16l-28,-14z" fill="#00ff7f"/><path d="M726,2797l28,14l-10,16l-28,-14z" fill="#00ff90"/><path d="M752,2810l28,13l-10,17l-28,-14z" fill="#00ffa0"/><path d="M778,2822l28,13l-10,17l-28,-13z" fill="#00ffaf"/><path d="M804,2834l28,13l-10,17l-28,-13z" fill="#00ffbe"/><path d="M830,2846l27,12l-10,17l-27,-12z" fill="#00ffcd"/><path d="M855,2857l28,12l-10,18l-28,-12z" fill="#00ffdb"/><path d="M881,2869l28,11l-10,18l-28,-12z" fill="#00ffe8"/><path d="M907,2879l27,12l-9,17l-28,-11z" fill="#00fff5"/><path d="M932,2890l28,11l-10,18l-27,-12z" fill="#00fdff"/><path d="M958,2900l27,10l-9,19l-28,-11z" fill="#00f2ff"/><path d="M983,2910l28,10l-10,18l-27,-10z" fill="#00e7ff"/><path d="M1009,2919l27,10l-9,19l-28,-10z" fill="#00ddff"/><path d="M1034,2928l28,10l-10,19l-27,-10z" fill="#00d3ff"/><path d="M1060,2937l27,10l-9,19l-28,-10z" fill="#00caff"/><path d="M1085,2946l28,9l-10,19l-27,-9z" fill="#00c2ff"/><path d="M1110,2954l28,9l-9,19l-28,-9z" fill="#00baff"/><path d="M1136,2962l27,9l-9,19l-27,-8z" fill="#00b2ff"/><path d="M1161,2970l28,8l-10,20l-27,-8z" fill="#00acff"/><path d="M1187,2978l27,7l-9,20l-28,-8z" fill="#00a6ff"/><path d="M1212,2985l27,7l-9,20l-27,-7z" fill="#00a0ff"/><path d="M1237,2992l28,7l-10,20l-27,-7z" fill="#009bff"/><path d="M1262,2999l28,6l-9,21l-28,-7z" fill="#0097ff"/><path d="M1288,3005l27,7l-9,20l-27,-7z" fill="#0093ff"/><path d="M1313,3011l28,6l-9,21l-28,-6z" fill="#0090ff"/><path d="M1338,3017l28,6l-9,21l-27,-6z" fill="#008dff"/><path d="M1364,3023l27,5l-9,22l-27,-6z" fill="#008bff"/><path d="M1389,3028l28,6l-9,21l-28,-6z" fill="#008aff"/><path d="M1415,3033l27,5l-9,22l-27,-6z" fill="#0089ff"/><path d="M1440,3038l28,5l-9,22l-28,-5z" fill="#0089ff"/><path d="M1466,3043l27,4l-9,22l-27,-5z" fill="#0089ff"/><path d="M1491,3047l28,5l-9,22l-28,-5z" fill="#008aff"/><path d="M1517,3051l27,4l-9,23l-27,-5z" fill="#008cff"/><path d="M1542,3055l28,4l-9,23l-28,-5z" fill="#008eff"/><path d="M1568,3059l27,4l-8,22l-28,-4z" fill="#0091ff"/><path d="M1593,3062l28,4l-8,23l-28,-4z" fill="#0094ff"/><path d="M1619,3066l28,3l-9,23l-28,-4z" fill="#0098ff"/><path d="M1645,3069l28,3l-9,23l-28,-3z" fill="#009dff"/><path d="M370,2612l29,19l-11,13l-30,-19z" fill="#7bff00"/><path d="M397,2630l29,18l-11,13l-30,-19z" fill="#63ff00"/><path d="M424,2647l29,18l-11,13l-29,-18z" fill="#4bff00"/><path d="M451,2664l29,17l-11,14l-29,-18z" fill="#34ff00"/><path d="M478,2680l29,17l-11,14l-29,-17z" fill="#1eff00"/><path d="M505,2696l29,17l-11,14l-29,-17z" fill="#08ff00"/><path d="M532,2712l29,16l-11,15l-29,-17z" fill="#00ff0e"/><path d="M558,2727l29,16l-11,15l-28,-16z" fill="#00ff22"/><path d="M585,2742l29,16l-11,15l-29,-16z" fill="#00ff37"/><path d="M611,2757l29,15l-11,16l-28,-16z" fill="#00ff4a"/><path d="M638,2771l28,15l-10,16l-29,-16z" fill="#00ff5d"/><path d="M664,2785l28,15l-10,15l-28,-14z" fill="#00ff6f"/><path d="M690,2799l29,14l-11,16l-28,-15z" fill="#00ff81"/><path d="M716,2812l29,14l-11,16l-28,-14z" fill="#00ff92"/><path d="M743,2825l28,14l-11,16l-28,-14z" fill="#00ffa3"/><path d="M769,2838l28,13l-11,16l-28,-13z" fill="#00ffb3"/><path d="M794,2850l28,13l-10,16l-28,-13z" fill="#00ffc2"/><path d="M820,2862l28,12l-10,17l-28,-13z" fill="#00ffd1"/><path d="M846,2873l28,12l-10,18l-28,-13z" fill="#00ffdf"/><path d="M872,2885l28,11l-10,18l-28,-12z" fill="#00ffed"/><path d="M898,2895l27,12l-9,18l-28,-12z" fill="#00fffa"/><path d="M923,2906l28,11l-10,18l-27,-11z" fill="#00f7ff"/><path d="M949,2916l28,11l-10,18l-28,-11z" fill="#00ecff"/><path d="M974,2926l28,11l-9,18l-28,-11z" fill="#00e0ff"/><path d="M1000,2936l28,10l-10,19l-28,-11z" fill="#00d6ff"/><path d="M1026,2946l27,9l-9,19l-28,-10z" fill="#00ccff"/><path d="M1051,2955l27,9l-9,19l-27,-10z" fill="#00c2ff"/><path d="M1076,2964l28,9l-9,19l-28,-10z" fill="#00b9ff"/><path d="M1102,2972l27,9l-9,19l-27,-9z" fill="#00b1ff"/><path d="M1127,2980l28,9l-10,19l-27,-9z" fill="#00a9ff"/><path d="M1153,2988l27,9l-9,19l-28,-8z" fill="#00a2ff"/><path d="M1178,2996l27,8l-9,20l-27,-9z" fill="#009cff"/><path d="M1203,3003l28,8l-9,20l-28,-8z" fill="#0096ff"/><path d="M1229,3010l27,8l-9,20l-27,-8z" fill="#0090ff"/><path d="M1254,3017l28,7l-9,21l-28,-8z" fill="#008cff"/><path d="M1280,3024l27,7l-9,20l-27,-7z" fill="#0087ff"/><path d="M1305,3030l27,7l-9,20l-27,-6z" fill="#0084ff"/><path d="M1330,3036l28,6l-9,21l-28,-6z" fill="#0081ff"/><path d="M1356,3042l27,6l-9,21l-27,-6z" fill="#007fff"/><path d="M1381,3048l28,5l-9,21l-28,-5z" fill="#007dff"/><path d="M1406,3053l28,5l-9,22l-27,-6z" fill="#007cff"/><path d="M1432,3058l27,5l-8,22l-28,-6z" fill="#007bff"/><path d="M1457,3063l28,5l-9,21l-27,-5z" fill="#007bff"/><path d="M1483,3067l28,5l-9,22l-28,-5z" fill="#007cff"/><path d="M1508,3072l28,4l-8,22l-28,-4z" fill="#007dff"/><path d="M1534,3076l28,4l-9,22l-28,-4z" fill="#007fff"/><path d="M1560,3080l27,4l-8,22l-28,-4z" fill="#0081ff"/><path d="M1585,3083l28,4l-8,23l-28,-4z" fill="#0084ff"/><path d="M1611,3087l28,3l-9,23l-27,-4z" fill="#0088ff"/><path d="M1637,3090l28,3l-9,23l-28,-3z" fill="#008cff"/><path d="M359,2624l29,19l-11,13l-30,-20z" fill="#7eff00"/><path d="M386,2642l30,18l-12,13l-29,-19z" fill="#65ff00"/><path d="M414,2659l29,18l-11,14l-30,-19z" fill="#4dff00"/><path d="M441,2676l29,18l-11,14l-30,-19z" fill="#36ff00"/><path d="M468,2693l29,17l-11,14l-29,-18z" fill="#1fff00"/><path d="M495,2709l29,17l-11,14l-29,-17z" fill="#09ff00"/><path d="M522,2725l28,17l-10,14l-29,-17z" fill="#00ff0d"/><path d="M548,2741l29,16l-11,15l-29,-17z" fill="#00ff22"/><path d="M575,2756l29,16l-11,15l-29,-17z" fill="#00ff37"/><path d="M602,2771l28,15l-10,15l-29,-15z" fill="#00ff4b"/><path d="M628,2785l28,16l-10,15l-29,-16z" fill="#00ff5e"/><path d="M654,2799l29,15l-11,16l-28,-15z" fill="#00ff71"/><path d="M681,2813l28,15l-10,15l-29,-14z" fill="#00ff83"/><path d="M707,2827l28,14l-10,16l-28,-15z" fill="#00ff95"/><path d="M733,2840l28,14l-10,16l-28,-14z" fill="#00ffa6"/><path d="M759,2853l28,13l-10,16l-28,-13z" fill="#00ffb6"/><path d="M785,2865l28,13l-10,17l-28,-14z" fill="#00ffc6"/><path d="M811,2877l28,13l-10,17l-28,-13z" fill="#00ffd5"/><path d="M837,2889l28,12l-10,17l-28,-12z" fill="#00ffe4"/><path d="M863,2900l28,12l-10,18l-28,-13z" fill="#00fff2"/><path d="M889,2912l27,11l-9,18l-28,-12z" fill="#00ffff"/><path d="M914,2922l28,12l-10,17l-27,-11z" fill="#00f2ff"/><path d="M940,2933l28,11l-10,18l-28,-12z" fill="#00e6ff"/><path d="M966,2943l27,11l-9,18l-28,-11z" fill="#00daff"/><path d="M991,2953l28,10l-10,19l-27,-11z" fill="#00cfff"/><path d="M1017,2963l27,10l-9,18l-28,-10z" fill="#00c4ff"/><path d="M1042,2972l28,10l-10,18l-27,-10z" fill="#00bbff"/><path d="M1068,2981l27,9l-9,19l-28,-10z" fill="#00b1ff"/><path d="M1093,2990l28,9l-10,19l-27,-10z" fill="#00a9ff"/><path d="M1119,2998l27,9l-9,19l-28,-9z" fill="#00a1ff"/><path d="M1144,3006l28,9l-10,19l-27,-9z" fill="#0099ff"/><path d="M1170,3014l27,8l-9,20l-28,-9z" fill="#0092ff"/><path d="M1195,3022l27,7l-9,20l-27,-8z" fill="#008cff"/><path d="M1220,3029l28,7l-9,20l-28,-8z" fill="#0086ff"/><path d="M1246,3036l27,7l-9,20l-27,-7z" fill="#0081ff"/><path d="M1271,3043l28,7l-9,20l-28,-7z" fill="#007cff"/><path d="M1297,3049l27,7l-9,20l-27,-7z" fill="#0078ff"/><path d="M1322,3055l27,7l-8,20l-28,-6z" fill="#0075ff"/><path d="M1347,3061l28,6l-9,21l-27,-6z" fill="#0072ff"/><path d="M1373,3067l27,6l-8,21l-28,-6z" fill="#0070ff"/><path d="M1398,3072l28,6l-9,21l-27,-6z" fill="#006fff"/><path d="M1424,3078l27,5l-8,21l-28,-5z" fill="#006eff"/><path d="M1449,3083l28,5l-9,21l-27,-5z" fill="#006dff"/><path d="M1475,3087l28,5l-9,22l-28,-5z" fill="#006dff"/><path d="M1500,3092l28,5l-8,21l-28,-4z" fill="#006eff"/><path d="M1526,3096l28,5l-9,22l-27,-5z" fill="#0070ff"/><path d="M1552,3100l28,4l-9,23l-28,-5z" fill="#0072ff"/><path d="M1577,3104l28,4l-8,22l-28,-4z" fill="#0074ff"/><path d="M1603,3108l28,3l-8,23l-28,-4z" fill="#0077ff"/><path d="M1629,3111l28,4l-9,22l-27,-3z" fill="#007bff"/><path d="M348,2635l30,20l-12,12l-30,-19z" fill="#81ff00"/><path d="M376,2653l29,19l-11,13l-30,-19z" fill="#68ff00"/><path d="M403,2671l29,19l-11,13l-29,-19z" fill="#50ff00"/><path d="M430,2688l30,19l-12,13l-29,-18z" fill="#38ff00"/><path d="M457,2705l30,18l-11,14l-30,-18z" fill="#20ff00"/><path d="M484,2722l30,17l-11,14l-30,-17z" fill="#0aff00"/><path d="M511,2738l29,17l-11,14l-29,-17z" fill="#00ff0c"/><path d="M538,2754l29,17l-11,14l-29,-17z" fill="#00ff22"/><path d="M565,2769l29,17l-11,14l-29,-16z" fill="#00ff37"/><path d="M592,2784l28,16l-10,15l-29,-16z" fill="#00ff4b"/><path d="M618,2799l29,16l-11,15l-28,-16z" fill="#00ff5f"/><path d="M645,2814l28,15l-10,15l-29,-15z" fill="#00ff72"/><path d="M671,2828l28,14l-10,16l-28,-15z" fill="#00ff85"/><path d="M697,2841l29,15l-11,15l-28,-14z" fill="#00ff97"/><path d="M724,2855l28,14l-10,16l-29,-15z" fill="#00ffa8"/><path d="M750,2868l28,13l-10,16l-28,-13z" fill="#00ffb9"/><path d="M776,2880l28,13l-10,17l-28,-14z" fill="#00ffc9"/><path d="M802,2893l28,12l-10,17l-28,-13z" fill="#00ffd9"/><path d="M828,2904l28,13l-10,17l-28,-13z" fill="#00ffe8"/><path d="M854,2916l28,12l-10,17l-28,-12z" fill="#00fff6"/><path d="M879,2927l28,12l-9,18l-28,-12z" fill="#00faff"/><path d="M905,2938l28,12l-10,17l-27,-11z" fill="#00edff"/><path d="M931,2949l28,11l-10,18l-28,-11z" fill="#00e0ff"/><path d="M957,2960l27,10l-9,18l-28,-11z" fill="#00d4ff"/><path d="M982,2970l28,10l-9,18l-28,-11z" fill="#00c9ff"/><path d="M1008,2979l28,11l-10,18l-27,-11z" fill="#00beff"/><path d="M1034,2989l27,10l-9,18l-28,-10z" fill="#00b3ff"/><path d="M1059,2998l28,10l-10,18l-27,-10z" fill="#00aaff"/><path d="M1085,3007l27,9l-9,19l-28,-9z" fill="#00a1ff"/><path d="M1110,3016l28,8l-10,19l-27,-9z" fill="#0098ff"/><path d="M1136,3024l27,8l-9,20l-28,-9z" fill="#0090ff"/><path d="M1161,3032l28,8l-9,20l-28,-9z" fill="#0089ff"/><path d="M1187,3040l27,8l-9,19l-28,-8z" fill="#0082ff"/><path d="M1212,3047l28,8l-9,20l-28,-8z" fill="#007cff"/><path d="M1237,3054l28,8l-9,20l-28,-8z" fill="#0077ff"/><path d="M1263,3061l27,7l-8,20l-28,-7z" fill="#0072ff"/><path d="M1288,3068l28,7l-9,20l-28,-7z" fill="#006dff"/><path d="M1314,3074l27,7l-8,20l-28,-7z" fill="#006aff"/><path d="M1339,3080l28,7l-9,20l-28,-6z" fill="#0067ff"/><path d="M1365,3086l27,6l-8,21l-28,-6z" fill="#0064ff"/><path d="M1390,3092l28,6l-9,21l-27,-6z" fill="#0062ff"/><path d="M1416,3097l27,6l-8,21l-28,-6z" fill="#0061ff"/><path d="M1441,3102l28,6l-9,21l-27,-5z" fill="#0060ff"/><path d="M1467,3107l28,5l-9,22l-28,-5z" fill="#0060ff"/><path d="M1493,3112l27,5l-8,22l-28,-5z" fill="#0060ff"/><path d="M1518,3116l28,5l-9,22l-27,-5z" fill="#0061ff"/><path d="M1544,3121l28,4l-9,22l-28,-4z" fill="#0063ff"/><path d="M1570,3125l27,4l-8,22l-28,-4z" fill="#0065ff"/><path d="M1595,3128l28,4l-8,23l-28,-4z" fill="#0068ff"/><path d="M1621,3132l28,4l-8,22l-28,-4z" fill="#006bff"/><path d="M337,2647l30,19l-11,13l-30,-20z" fill="#85ff00"/><path d="M365,2665l30,19l-12,13l-30,-20z" fill="#6cff00"/><path d="M392,2683l30,19l-11,13l-30,-19z" fill="#53ff00"/><path d="M420,2701l29,18l-11,13l-30,-18z" fill="#3aff00"/><path d="M447,2718l29,18l-11,13l-29,-18z" fill="#23ff00"/><path d="M474,2735l29,17l-11,14l-29,-18z" fill="#0bff00"/><path d="M501,2751l29,17l-11,14l-29,-17z" fill="#00ff0b"/><path d="M528,2767l29,17l-11,14l-29,-17z" fill="#00ff21"/><path d="M555,2783l29,16l-11,15l-29,-17z" fill="#00ff36"/><path d="M582,2798l28,16l-10,15l-29,-17z" fill="#00ff4b"/><path d="M608,2813l29,16l-11,15l-28,-16z" fill="#00ff5f"/><path d="M635,2828l28,15l-10,15l-29,-16z" fill="#00ff73"/><path d="M661,2842l29,15l-11,15l-28,-15z" fill="#00ff86"/><path d="M688,2856l28,14l-10,16l-29,-15z" fill="#00ff98"/><path d="M714,2869l28,14l-10,16l-28,-14z" fill="#00ffaa"/><path d="M740,2882l29,14l-11,16l-28,-14z" fill="#00ffbb"/><path d="M766,2895l29,14l-10,16l-29,-14z" fill="#00ffcc"/><path d="M793,2908l28,13l-10,16l-29,-13z" fill="#00ffdc"/><path d="M819,2920l28,13l-10,16l-28,-13z" fill="#00ffeb"/><path d="M844,2932l28,12l-9,17l-28,-13z" fill="#00fffa"/><path d="M870,2943l28,12l-9,17l-28,-12z" fill="#00f6ff"/><path d="M896,2954l28,12l-10,18l-27,-12z" fill="#00e8ff"/><path d="M922,2965l28,12l-10,17l-28,-11z" fill="#00dbff"/><path d="M948,2976l28,11l-10,18l-28,-12z" fill="#00cfff"/><path d="M974,2986l27,11l-9,18l-28,-11z" fill="#00c3ff"/><path d="M999,2996l28,11l-10,18l-27,-11z" fill="#00b8ff"/><path d="M1025,3006l28,10l-10,18l-28,-10z" fill="#00adff"/><path d="M1050,3015l28,10l-9,18l-28,-10z" fill="#00a3ff"/><path d="M1076,3024l28,10l-10,18l-27,-9z" fill="#0099ff"/><path d="M1102,3033l27,9l-9,19l-28,-9z" fill="#0090ff"/><path d="M1127,3041l28,9l-9,19l-28,-9z" fill="#0088ff"/><path d="M1153,3050l27,8l-9,19l-27,-8z" fill="#0080ff"/><path d="M1178,3057l28,9l-9,19l-28,-8z" fill="#0079ff"/><path d="M1204,3065l27,8l-9,20l-27,-8z" fill="#0073ff"/><path d="M1229,3072l28,8l-9,20l-28,-8z" fill="#006dff"/><path d="M1255,3080l27,7l-9,20l-27,-8z" fill="#0068ff"/><path d="M1280,3086l28,8l-9,20l-28,-8z" fill="#0063ff"/><path d="M1306,3093l27,7l-9,20l-27,-7z" fill="#005fff"/><path d="M1331,3099l28,7l-9,20l-28,-6z" fill="#005bff"/><path d="M1357,3105l27,7l-8,20l-28,-6z" fill="#0058ff"/><path d="M1382,3111l28,6l-9,21l-28,-6z" fill="#0056ff"/><path d="M1408,3117l27,5l-8,21l-28,-5z" fill="#0054ff"/><path d="M1433,3122l28,6l-9,21l-27,-6z" fill="#0053ff"/><path d="M1459,3127l28,5l-9,22l-28,-6z" fill="#0052ff"/><path d="M1485,3132l27,5l-8,21l-28,-5z" fill="#0052ff"/><path d="M1510,3137l28,4l-9,22l-27,-5z" fill="#0053ff"/><path d="M1536,3141l28,4l-9,22l-28,-4z" fill="#0054ff"/><path d="M1562,3145l28,4l-9,22l-28,-4z" fill="#0056ff"/><path d="M1587,3149l28,4l-8,22l-28,-4z" fill="#0058ff"/><path d="M1613,3153l28,4l-8,22l-28,-4z" fill="#005bff"/><path d="M327,2658l29,20l-11,12l-30,-20z" fill="#89ff00"/><path d="M354,2677l30,19l-11,13l-30,-20z" fill="#6fff00"/><path d="M382,2695l30,19l-12,13l-30,-20z" fill="#56ff00"/><path d="M409,2713l30,18l-11,13l-30,-19z" fill="#3dff00"/><path d="M437,2730l29,18l-11,14l-30,-19z" fill="#25ff00"/><path d="M464,2747l29,18l-11,14l-29,-19z" fill="#0eff00"/><path d="M491,2764l29,17l-11,14l-29,-18z" fill="#00ff09"/><path d="M518,2780l29,17l-11,14l-29,-17z" fill="#00ff20"/><path d="M545,2796l29,17l-11,14l-29,-17z" fill="#00ff35"/><path d="M572,2811l29,17l-11,14l-29,-16z" fill="#00ff4b"/><path d="M599,2827l28,16l-10,14l-29,-16z" fill="#00ff5f"/><path d="M625,2841l29,16l-11,15l-28,-16z" fill="#00ff73"/><path d="M652,2856l28,15l-10,15l-29,-15z" fill="#00ff86"/><path d="M678,2870l29,15l-11,15l-28,-15z" fill="#00ff99"/><path d="M705,2884l28,14l-10,16l-29,-15z" fill="#00ffab"/><path d="M731,2897l28,14l-10,16l-28,-14z" fill="#00ffbd"/><path d="M757,2910l28,14l-10,16l-28,-14z" fill="#00ffce"/><path d="M783,2923l28,13l-10,16l-28,-13z" fill="#00ffde"/><path d="M809,2935l28,13l-9,17l-29,-13z" fill="#00ffee"/><path d="M835,2947l28,13l-9,17l-29,-13z" fill="#00fffd"/><path d="M861,2959l28,12l-9,17l-28,-12z" fill="#00f2ff"/><path d="M887,2970l28,12l-9,17l-28,-12z" fill="#00e4ff"/><path d="M913,2981l28,12l-10,17l-28,-11z" fill="#00d6ff"/><path d="M939,2992l28,11l-10,18l-28,-12z" fill="#00caff"/><path d="M965,3003l28,10l-10,18l-28,-11z" fill="#00bdff"/><path d="M990,3013l28,10l-9,18l-28,-11z" fill="#00b2ff"/><path d="M1016,3023l28,10l-9,18l-28,-11z" fill="#00a7ff"/><path d="M1042,3032l27,10l-9,18l-28,-10z" fill="#009cff"/><path d="M1067,3041l28,10l-9,18l-28,-9z" fill="#0092ff"/><path d="M1093,3050l28,10l-9,18l-28,-9z" fill="#0089ff"/><path d="M1119,3059l27,9l-9,19l-28,-9z" fill="#0080ff"/><path d="M1144,3067l28,9l-9,19l-28,-9z" fill="#0078ff"/><path d="M1170,3075l27,9l-9,19l-27,-9z" fill="#0071ff"/><path d="M1195,3083l28,8l-9,20l-28,-9z" fill="#006aff"/><path d="M1221,3091l27,7l-8,20l-28,-8z" fill="#0064ff"/><path d="M1246,3098l28,7l-9,20l-28,-8z" fill="#005eff"/><path d="M1272,3105l27,7l-8,20l-28,-7z" fill="#0059ff"/><path d="M1297,3112l28,7l-9,20l-27,-7z" fill="#0054ff"/><path d="M1323,3118l28,7l-9,20l-28,-7z" fill="#0050ff"/><path d="M1349,3124l27,7l-9,20l-27,-6z" fill="#004dff"/><path d="M1374,3130l28,6l-9,21l-28,-6z" fill="#004aff"/><path d="M1400,3136l27,6l-8,21l-28,-6z" fill="#0048ff"/><path d="M1425,3141l28,6l-9,21l-27,-6z" fill="#0046ff"/><path d="M1451,3147l28,5l-9,21l-28,-5z" fill="#0045ff"/><path d="M1477,3152l27,5l-8,21l-28,-5z" fill="#0045ff"/><path d="M1502,3157l28,4l-8,22l-28,-5z" fill="#0045ff"/><path d="M1528,3161l28,5l-9,21l-27,-4z" fill="#0046ff"/><path d="M1554,3165l28,5l-9,22l-28,-5z" fill="#0047ff"/><path d="M1580,3170l28,4l-9,22l-28,-5z" fill="#0049ff"/><path d="M1605,3173l28,4l-8,23l-28,-4z" fill="#004cff"/><path d="M316,2669l30,20l-12,13l-30,-21z" fill="#8eff00"/><path d="M344,2688l29,20l-11,12l-30,-20z" fill="#73ff00"/><path d="M371,2706l30,20l-11,13l-30,-20z" fill="#5aff00"/><path d="M399,2724l29,20l-11,12l-30,-19z" fill="#41ff00"/><path d="M426,2742l30,19l-11,13l-30,-19z" fill="#28ff00"/><path d="M454,2759l29,19l-11,13l-30,-18z" fill="#10ff00"/><path d="M481,2776l29,18l-11,14l-29,-18z" fill="#00ff07"/><path d="M508,2793l29,17l-11,14l-29,-17z" fill="#00ff1e"/><path d="M535,2809l29,17l-11,14l-29,-17z" fill="#00ff34"/><path d="M562,2825l29,16l-11,15l-29,-17z" fill="#00ff4a"/><path d="M589,2840l29,16l-11,15l-29,-16z" fill="#00ff5f"/><path d="M615,2855l29,16l-10,15l-29,-16z" fill="#00ff73"/><path d="M642,2870l29,15l-11,15l-28,-15z" fill="#00ff87"/><path d="M669,2884l28,15l-10,15l-29,-15z" fill="#00ff9a"/><path d="M695,2898l29,15l-11,15l-28,-15z" fill="#00ffac"/><path d="M721,2912l29,14l-10,16l-29,-15z" fill="#00ffbe"/><path d="M748,2925l28,14l-10,16l-28,-14z" fill="#00ffd0"/><path d="M774,2938l28,13l-10,16l-28,-13z" fill="#00ffe1"/><path d="M800,2950l28,14l-10,16l-28,-14z" fill="#00fff1"/><path d="M826,2963l28,12l-9,17l-29,-13z" fill="#00feff"/><path d="M852,2974l28,13l-9,17l-29,-13z" fill="#00efff"/><path d="M878,2986l28,12l-9,17l-28,-12z" fill="#00e0ff"/><path d="M904,2997l28,12l-9,17l-28,-12z" fill="#00d2ff"/><path d="M930,3008l28,12l-10,17l-28,-12z" fill="#00c5ff"/><path d="M956,3019l28,11l-10,18l-28,-12z" fill="#00b8ff"/><path d="M982,3029l27,11l-9,18l-28,-11z" fill="#00acff"/><path d="M1007,3039l28,11l-9,18l-28,-11z" fill="#00a1ff"/><path d="M1033,3049l28,10l-9,18l-28,-10z" fill="#0096ff"/><path d="M1059,3058l28,10l-10,18l-27,-10z" fill="#008cff"/><path d="M1085,3067l27,10l-9,18l-28,-9z" fill="#0082ff"/><path d="M1110,3076l28,9l-9,19l-28,-9z" fill="#0079ff"/><path d="M1136,3085l27,9l-9,18l-27,-9z" fill="#0071ff"/><path d="M1161,3093l28,9l-9,19l-28,-9z" fill="#0069ff"/><path d="M1187,3101l28,8l-9,19l-28,-8z" fill="#0061ff"/><path d="M1213,3109l27,8l-9,19l-27,-8z" fill="#005bff"/><path d="M1238,3116l28,8l-9,19l-28,-8z" fill="#0054ff"/><path d="M1264,3123l27,8l-8,19l-28,-7z" fill="#004fff"/><path d="M1289,3130l28,7l-9,20l-28,-7z" fill="#004aff"/><path d="M1315,3137l27,7l-8,20l-28,-7z" fill="#0046ff"/><path d="M1340,3143l28,7l-9,20l-27,-7z" fill="#0042ff"/><path d="M1366,3149l28,7l-9,20l-28,-6z" fill="#003fff"/><path d="M1392,3155l27,6l-8,21l-28,-6z" fill="#003cff"/><path d="M1417,3161l28,6l-9,20l-27,-6z" fill="#003aff"/><path d="M1443,3166l28,6l-9,21l-28,-6z" fill="#0039ff"/><path d="M1469,3171l27,6l-8,21l-28,-6z" fill="#0038ff"/><path d="M1494,3176l28,5l-8,22l-28,-6z" fill="#0038ff"/><path d="M1520,3181l28,5l-8,21l-28,-5z" fill="#0038ff"/><path d="M1546,3186l28,4l-9,22l-28,-5z" fill="#0039ff"/><path d="M1572,3190l28,4l-9,22l-28,-4z" fill="#003bff"/><path d="M1598,3194l28,4l-9,22l-28,-4z" fill="#003dff"/><path d="M305,2680l30,21l-12,12l-30,-21z" fill="#93ff00"/><path d="M333,2699l30,20l-12,13l-30,-21z" fill="#78ff00"/><path d="M361,2718l29,20l-11,12l-30,-20z" fill="#5eff00"/><path d="M388,2736l30,20l-11,12l-30,-19z" fill="#44ff00"/><path d="M416,2754l29,19l-11,13l-29,-19z" fill="#2cff00"/><path d="M443,2772l30,18l-11,13l-30,-18z" fill="#13ff00"/><path d="M471,2789l29,18l-11,13l-29,-18z" fill="#00ff05"/><path d="M498,2805l29,18l-11,14l-29,-18z" fill="#00ff1c"/><path d="M525,2822l29,17l-11,14l-29,-17z" fill="#00ff32"/><path d="M552,2838l29,17l-11,14l-29,-17z" fill="#00ff48"/><path d="M579,2853l29,17l-11,14l-29,-16z" fill="#00ff5d"/><path d="M606,2869l28,16l-10,14l-29,-16z" fill="#00ff72"/><path d="M632,2884l29,15l-10,15l-29,-16z" fill="#00ff86"/><path d="M659,2898l29,15l-11,16l-28,-16z" fill="#00ff9a"/><path d="M685,2912l29,15l-10,16l-29,-16z" fill="#00ffad"/><path d="M712,2926l28,15l-10,15l-28,-15z" fill="#00ffbf"/><path d="M738,2939l29,15l-10,15l-29,-14z" fill="#00ffd1"/><path d="M765,2953l28,13l-10,16l-28,-14z" fill="#00ffe2"/><path d="M791,2965l28,14l-10,16l-28,-14z" fill="#00fff3"/><path d="M817,2978l28,13l-10,16l-28,-13z" fill="#00fbff"/><path d="M843,2990l28,13l-9,16l-29,-13z" fill="#00ecff"/><path d="M869,3002l28,12l-9,17l-28,-13z" fill="#00ddff"/><path d="M895,3013l28,12l-9,17l-28,-12z" fill="#00cfff"/><path d="M921,3024l28,12l-9,17l-28,-12z" fill="#00c1ff"/><path d="M947,3035l28,11l-9,18l-28,-12z" fill="#00b4ff"/><path d="M973,3045l28,11l-10,18l-28,-11z" fill="#00a7ff"/><path d="M999,3056l28,10l-10,18l-28,-11z" fill="#009cff"/><path d="M1025,3065l27,11l-9,18l-28,-11z" fill="#0090ff"/><path d="M1050,3075l28,10l-9,18l-28,-10z" fill="#0086ff"/><path d="M1076,3084l28,10l-9,18l-28,-10z" fill="#007cff"/><path d="M1102,3093l27,10l-9,18l-27,-9z" fill="#0072ff"/><path d="M1127,3102l28,9l-9,19l-28,-9z" fill="#0069ff"/><path d="M1153,3110l28,9l-9,19l-28,-9z" fill="#0061ff"/><path d="M1179,3119l27,8l-9,19l-27,-9z" fill="#0059ff"/><path d="M1204,3126l28,9l-9,19l-28,-9z" fill="#0052ff"/><path d="M1230,3134l28,8l-9,19l-28,-8z" fill="#004cff"/><path d="M1255,3141l28,8l-9,20l-27,-8z" fill="#0046ff"/><path d="M1281,3148l28,8l-9,20l-28,-8z" fill="#0040ff"/><path d="M1307,3155l27,7l-8,20l-28,-7z" fill="#003cff"/><path d="M1332,3162l28,7l-9,20l-27,-7z" fill="#0037ff"/><path d="M1358,3168l28,7l-9,20l-28,-7z" fill="#0034ff"/><path d="M1384,3174l27,6l-8,21l-28,-7z" fill="#0031ff"/><path d="M1409,3180l28,6l-8,21l-28,-7z" fill="#002fff"/><path d="M1435,3185l28,6l-9,21l-28,-6z" fill="#002dff"/><path d="M1461,3191l28,5l-9,21l-28,-5z" fill="#002cff"/><path d="M1487,3196l27,5l-8,21l-28,-5z" fill="#002bff"/><path d="M1512,3201l28,5l-8,21l-28,-5z" fill="#002bff"/><path d="M1538,3205l28,5l-8,22l-28,-5z" fill="#002cff"/><path d="M1564,3210l28,4l-8,22l-28,-5z" fill="#002dff"/><path d="M1590,3214l28,4l-8,22l-28,-4z" fill="#002fff"/><path d="M294,2691l30,21l-11,12l-31,-22z" fill="#98ff00"/><path d="M322,2710l30,21l-11,12l-31,-21z" fill="#7dff00"/><path d="M350,2729l30,20l-11,13l-31,-21z" fill="#63ff00"/><path d="M378,2748l30,19l-12,13l-30,-20z" fill="#49ff00"/><path d="M405,2766l30,19l-11,13l-30,-19z" fill="#2fff00"/><path d="M433,2784l30,18l-12,14l-29,-19z" fill="#17ff00"/><path d="M460,2801l30,18l-11,14l-30,-19z" fill="#00ff01"/><path d="M488,2818l29,18l-11,14l-29,-19z" fill="#00ff19"/><path d="M515,2835l29,17l-11,14l-29,-18z" fill="#00ff30"/><path d="M542,2851l29,17l-11,14l-29,-17z" fill="#00ff46"/><path d="M569,2867l29,16l-11,15l-29,-17z" fill="#00ff5c"/><path d="M596,2882l29,16l-11,15l-29,-17z" fill="#00ff71"/><path d="M623,2897l28,16l-10,15l-29,-16z" fill="#00ff86"/><path d="M649,2912l29,15l-10,15l-29,-15z" fill="#00ff9a"/><path d="M676,2926l29,15l-11,16l-28,-16z" fill="#00ffad"/><path d="M703,2940l28,15l-10,15l-29,-14z" fill="#00ffc0"/><path d="M729,2954l28,14l-10,16l-28,-15z" fill="#00ffd2"/><path d="M755,2967l29,14l-10,16l-29,-14z" fill="#00ffe4"/><path d="M782,2980l28,14l-10,16l-28,-14z" fill="#00fff5"/><path d="M808,2993l28,13l-10,16l-28,-13z" fill="#00f9ff"/><path d="M834,3005l28,13l-9,16l-29,-13z" fill="#00e9ff"/><path d="M860,3017l28,13l-9,16l-29,-12z" fill="#00daff"/><path d="M886,3029l28,12l-9,17l-28,-13z" fill="#00cbff"/><path d="M912,3040l28,12l-9,17l-28,-12z" fill="#00bdff"/><path d="M938,3051l28,11l-9,18l-28,-12z" fill="#00b0ff"/><path d="M964,3062l28,11l-9,17l-28,-11z" fill="#00a3ff"/><path d="M990,3072l28,11l-9,17l-28,-11z" fill="#0097ff"/><path d="M1016,3082l28,10l-9,18l-28,-10z" fill="#008bff"/><path d="M1042,3092l28,10l-10,18l-28,-10z" fill="#0080ff"/><path d="M1067,3101l28,10l-9,18l-28,-10z" fill="#0076ff"/><path d="M1093,3110l28,10l-9,18l-28,-9z" fill="#006cff"/><path d="M1119,3119l28,9l-9,19l-28,-9z" fill="#0062ff"/><path d="M1145,3128l27,9l-9,18l-27,-9z" fill="#005aff"/><path d="M1170,3136l28,9l-9,19l-28,-9z" fill="#0052ff"/><path d="M1196,3144l28,8l-9,20l-28,-9z" fill="#004aff"/><path d="M1222,3152l27,8l-8,19l-28,-8z" fill="#0043ff"/><path d="M1247,3159l28,8l-9,20l-28,-8z" fill="#003dff"/><path d="M1273,3167l28,7l-9,20l-28,-8z" fill="#0037ff"/><path d="M1299,3174l27,7l-8,20l-28,-8z" fill="#0032ff"/><path d="M1324,3180l28,7l-9,20l-27,-7z" fill="#002dff"/><path d="M1350,3187l28,6l-9,21l-28,-7z" fill="#002aff"/><path d="M1376,3193l27,6l-8,21l-28,-7z" fill="#0026ff"/><path d="M1401,3199l28,6l-8,21l-28,-7z" fill="#0023ff"/><path d="M1427,3205l28,6l-9,20l-27,-6z" fill="#0021ff"/><path d="M1453,3210l28,6l-9,21l-28,-6z" fill="#0020ff"/><path d="M1479,3215l28,6l-9,21l-28,-6z" fill="#001fff"/><path d="M1504,3220l28,6l-8,21l-28,-6z" fill="#001eff"/><path d="M1530,3225l28,5l-8,22l-28,-6z" fill="#001eff"/><path d="M1556,3230l28,5l-8,21l-28,-5z" fill="#001fff"/><path d="M1582,3234l28,5l-8,21l-28,-4z" fill="#0021ff"/><path d="M283,2702l31,21l-12,11l-31,-21z" fill="#9eff00"/><path d="M311,2721l31,21l-12,12l-30,-21z" fill="#83ff00"/><path d="M339,2740l30,21l-11,12l-30,-21z" fill="#68ff00"/><path d="M367,2759l30,20l-11,13l-30,-21z" fill="#4dff00"/><path d="M395,2778l30,19l-11,13l-30,-20z" fill="#34ff00"/><path d="M423,2796l29,19l-11,13l-30,-20z" fill="#1bff00"/><path d="M450,2813l30,19l-11,13l-30,-19z" fill="#02ff00"/><path d="M477,2830l30,19l-11,13l-29,-18z" fill="#00ff16"/><path d="M505,2847l29,18l-11,14l-29,-18z" fill="#00ff2d"/><path d="M532,2864l29,17l-10,14l-30,-18z" fill="#00ff44"/><path d="M559,2880l29,17l-10,14l-30,-17z" fill="#00ff5a"/><path d="M586,2895l29,17l-10,14l-30,-16z" fill="#00ff70"/><path d="M613,2911l29,16l-11,14l-29,-16z" fill="#00ff85"/><path d="M640,2926l29,15l-11,15l-29,-16z" fill="#00ff99"/><path d="M666,2940l29,16l-10,15l-29,-16z" fill="#00ffad"/><path d="M693,2954l29,15l-10,16l-29,-15z" fill="#00ffc0"/><path d="M720,2968l28,15l-10,15l-29,-14z" fill="#00ffd2"/><path d="M746,2982l29,14l-10,16l-29,-15z" fill="#00ffe4"/><path d="M772,2995l29,14l-10,16l-29,-14z" fill="#00fff6"/><path d="M799,3008l28,13l-10,16l-28,-13z" fill="#00f7ff"/><path d="M825,3020l28,13l-9,17l-29,-14z" fill="#00e7ff"/><path d="M851,3032l28,13l-9,17l-29,-13z" fill="#00d8ff"/><path d="M877,3044l29,12l-10,17l-28,-12z" fill="#00c9ff"/><path d="M903,3056l29,12l-10,17l-28,-13z" fill="#00baff"/><path d="M929,3067l29,11l-10,18l-28,-12z" fill="#00acff"/><path d="M955,3078l28,11l-9,17l-28,-11z" fill="#009fff"/><path d="M981,3088l28,11l-9,18l-28,-12z" fill="#0092ff"/><path d="M1007,3098l28,11l-9,18l-28,-11z" fill="#0086ff"/><path d="M1033,3108l28,11l-9,18l-28,-11z" fill="#007bff"/><path d="M1059,3118l28,10l-9,18l-28,-10z" fill="#0070ff"/><path d="M1085,3127l28,10l-9,18l-28,-10z" fill="#0066ff"/><path d="M1111,3136l27,10l-9,18l-28,-10z" fill="#005cff"/><path d="M1136,3145l28,9l-9,19l-28,-10z" fill="#0053ff"/><path d="M1162,3153l28,9l-9,19l-28,-9z" fill="#004aff"/><path d="M1188,3162l27,8l-8,19l-28,-9z" fill="#0043ff"/><path d="M1213,3170l28,8l-9,19l-27,-9z" fill="#003bff"/><path d="M1239,3177l28,8l-9,19l-28,-8z" fill="#0034ff"/><path d="M1265,3185l28,7l-9,20l-28,-8z" fill="#002eff"/><path d="M1291,3192l27,7l-8,20l-28,-8z" fill="#0029ff"/><path d="M1316,3199l28,7l-9,20l-27,-8z" fill="#0024ff"/><path d="M1342,3205l28,7l-9,20l-28,-7z" fill="#0020ff"/><path d="M1368,3212l27,6l-8,20l-28,-6z" fill="#001cff"/><path d="M1393,3218l28,6l-8,20l-28,-6z" fill="#0019ff"/><path d="M1419,3224l28,6l-8,20l-28,-6z" fill="#0016ff"/><path d="M1445,3229l28,6l-9,21l-28,-6z" fill="#0014ff"/><path d="M1471,3235l28,5l-9,21l-28,-6z" fill="#0013ff"/><path d="M1497,3240l28,5l-9,21l-28,-5z" fill="#0012ff"/><path d="M1523,3245l28,5l-9,21l-28,-5z" fill="#0012ff"/><path d="M1548,3250l28,5l-8,21l-28,-5z" fill="#0012ff"/><path d="M1574,3254l28,5l-8,21l-28,-5z" fill="#0013ff"/><path d="M272,2712l31,22l-12,11l-31,-22z" fill="#a4ff00"/><path d="M300,2732l31,21l-12,12l-30,-21z" fill="#89ff00"/><path d="M329,2751l30,21l-12,12l-30,-21z" fill="#6dff00"/><path d="M357,2771l30,20l-12,12l-30,-20z" fill="#53ff00"/><path d="M384,2789l30,20l-11,12l-30,-19z" fill="#38ff00"/><path d="M412,2807l30,20l-11,13l-30,-20z" fill="#1fff00"/><path d="M440,2825l30,19l-11,13l-30,-19z" fill="#06ff00"/><path d="M467,2843l30,18l-11,13l-30,-18z" fill="#00ff12"/><path d="M495,2860l29,18l-11,13l-29,-18z" fill="#00ff2a"/><path d="M522,2876l29,18l-10,14l-30,-18z" fill="#00ff41"/><path d="M549,2893l29,17l-10,14l-30,-17z" fill="#00ff58"/><path d="M576,2909l29,16l-10,15l-29,-17z" fill="#00ff6e"/><path d="M603,2924l29,16l-10,15l-29,-17z" fill="#00ff83"/><path d="M630,2939l29,16l-10,15l-29,-16z" fill="#00ff98"/><path d="M657,2954l29,16l-10,15l-29,-16z" fill="#00ffac"/><path d="M684,2968l28,16l-10,15l-29,-16z" fill="#00ffbf"/><path d="M710,2982l29,15l-10,16l-29,-15z" fill="#00ffd2"/><path d="M737,2996l28,15l-10,15l-28,-14z" fill="#00ffe5"/><path d="M763,3009l29,15l-10,15l-29,-14z" fill="#00fff7"/><path d="M790,3022l28,14l-10,16l-28,-14z" fill="#00f6ff"/><path d="M816,3035l28,13l-9,17l-29,-14z" fill="#00e6ff"/><path d="M842,3047l29,13l-10,17l-29,-13z" fill="#00d6ff"/><path d="M868,3059l29,13l-10,17l-28,-13z" fill="#00c6ff"/><path d="M895,3071l28,12l-10,17l-28,-12z" fill="#00b7ff"/><path d="M921,3082l28,12l-10,17l-28,-12z" fill="#00a9ff"/><path d="M947,3093l28,12l-10,17l-28,-12z" fill="#009bff"/><path d="M973,3104l28,11l-10,18l-28,-12z" fill="#008eff"/><path d="M999,3115l28,10l-10,18l-28,-11z" fill="#0082ff"/><path d="M1025,3125l28,10l-10,18l-28,-11z" fill="#0076ff"/><path d="M1050,3134l28,11l-9,18l-28,-11z" fill="#006bff"/><path d="M1076,3144l28,10l-9,18l-28,-10z" fill="#0060ff"/><path d="M1102,3153l28,10l-9,18l-28,-10z" fill="#0056ff"/><path d="M1128,3162l28,9l-9,19l-28,-10z" fill="#004dff"/><path d="M1154,3171l28,9l-9,18l-28,-9z" fill="#0044ff"/><path d="M1179,3179l28,9l-9,19l-27,-9z" fill="#003bff"/><path d="M1205,3187l28,9l-9,18l-28,-8z" fill="#0034ff"/><path d="M1231,3195l28,8l-9,19l-28,-8z" fill="#002dff"/><path d="M1257,3202l28,8l-9,20l-28,-8z" fill="#0026ff"/><path d="M1282,3210l28,7l-8,20l-28,-8z" fill="#0020ff"/><path d="M1308,3217l28,7l-9,20l-27,-8z" fill="#001bff"/><path d="M1334,3224l28,7l-9,19l-28,-7z" fill="#0016ff"/><path d="M1360,3230l28,7l-9,20l-28,-7z" fill="#0012ff"/><path d="M1386,3236l27,7l-8,20l-28,-7z" fill="#000eff"/><path d="M1411,3242l28,7l-8,20l-28,-6z" fill="#000bff"/><path d="M1437,3248l28,6l-8,21l-28,-6z" fill="#0009ff"/><path d="M1463,3254l28,6l-8,20l-28,-6z" fill="#0007ff"/><path d="M1489,3259l28,6l-9,21l-28,-6z" fill="#0006ff"/><path d="M1515,3264l28,6l-9,21l-28,-6z" fill="#0005ff"/><path d="M1541,3269l28,5l-9,21l-28,-5z" fill="#0005ff"/><path d="M1567,3274l28,5l-8,21l-29,-5z" fill="#0006ff"/></g></g>
<g fill="none" stroke="#000" stroke-opacity="0.085" stroke-width="3.0" filter="url(#mb)"><polyline points="875.4,2107.4 863.6,2127.5 851.9,2147.5 840.2,2167.3 828.4,2186.9 816.8,2206.4 805.1,2225.7 793.4,2244.9 781.8,2263.9 770.1,2282.7 758.5,2301.4 746.8,2319.9 735.2,2338.2 723.6,2356.4 712.0,2374.4 700.4,2392.3 688.8,2410.0 677.2,2427.5 665.6,2444.8 654.0,2462.0 642.4,2479.0 630.8,2495.9 619.2,2512.5 607.6,2529.0 596.0,2545.3 584.4,2561.5 572.8,2577.5 561.2,2593.3 549.5,2608.9 537.9,2624.3 526.2,2639.6 514.5,2654.7 502.8,2669.6 491.1,2684.3 479.4,2698.9 467.7,2713.3 456.0,2727.4 444.2,2741.5 432.4,2755.3 420.6,2768.9 408.8,2782.4"/><polyline points="804.1,2125.5 831.6,2134.8 859.0,2143.9 886.4,2152.5 913.7,2160.8 941.0,2168.7 968.2,2176.2 995.4,2183.4 1022.6,2190.2 1049.8,2196.7 1077.0,2202.7 1104.1,2208.4 1131.2,2213.8 1158.3,2218.7 1185.5,2223.3 1212.6,2227.5 1239.7,2231.4 1266.9,2234.8 1294.0,2237.9 1321.2,2240.7 1348.4,2243.0 1375.6,2245.0 1402.9,2246.5 1430.2,2247.8 1457.6,2248.6 1485.0,2249.0 1512.4,2249.1 1539.9,2248.8 1567.5,2248.1 1595.1,2247.0 1622.8,2245.6 1650.6,2243.7 1678.4,2241.5 1706.3,2238.9 1734.3,2235.9 1762.4,2232.5 1790.6,2228.8 1818.9,2224.6 1847.3,2220.1 1875.8,2215.1 1904.4,2209.8"/><polyline points="926.1,2122.3 914.5,2143.0 902.9,2163.5 891.3,2183.9 879.7,2204.1 868.2,2224.2 856.7,2244.0 845.2,2263.8 833.7,2283.3 822.2,2302.7 810.7,2322.0 799.2,2341.0 787.8,2359.9 776.3,2378.7 764.9,2397.3 753.5,2415.7 742.0,2433.9 730.6,2452.0 719.2,2469.8 707.8,2487.6 696.4,2505.1 685.0,2522.5 673.6,2539.7 662.2,2556.8 650.7,2573.6 639.3,2590.3 627.9,2606.8 616.5,2623.2 605.0,2639.4 593.6,2655.4 582.1,2671.2 570.7,2686.8 559.2,2702.3 547.7,2717.6 536.2,2732.7 524.7,2747.6 513.2,2762.3 501.7,2776.9 490.1,2791.3 478.5,2805.5 467.0,2819.5"/><polyline points="783.0,2159.5 810.6,2169.5 838.2,2179.0 865.7,2188.2 893.2,2197.1 920.6,2205.5 948.0,2213.6 975.3,2221.3 1002.6,2228.7 1029.9,2235.7 1057.2,2242.3 1084.4,2248.5 1111.7,2254.4 1138.9,2259.9 1166.1,2265.0 1193.3,2269.7 1220.6,2274.1 1247.8,2278.1 1275.0,2281.8 1302.3,2285.0 1329.6,2287.9 1356.9,2290.4 1384.2,2292.6 1411.6,2294.3 1439.0,2295.7 1466.5,2296.8 1494.0,2297.4 1521.5,2297.7 1549.1,2297.5 1576.8,2297.1 1604.6,2296.2 1632.4,2294.9 1660.2,2293.3 1688.2,2291.3 1716.3,2288.9 1744.4,2286.2 1772.6,2283.1 1800.9,2279.5 1829.4,2275.6 1857.9,2271.4 1886.5,2266.7"/><polyline points="977.1,2136.0 965.6,2157.3 954.1,2178.4 942.7,2199.4 931.3,2220.1 919.9,2240.8 908.5,2261.2 897.1,2281.5 885.8,2301.6 874.4,2321.6 863.1,2341.4 851.8,2361.0 840.5,2380.5 829.2,2399.8 818.0,2418.9 806.7,2437.8 795.4,2456.6 784.2,2475.2 773.0,2493.6 761.7,2511.9 750.5,2530.0 739.2,2547.9 728.0,2565.7 716.8,2583.2 705.6,2600.7 694.3,2617.9 683.1,2634.9 671.9,2651.8 660.6,2668.5 649.4,2685.1 638.1,2701.4 626.9,2717.6 615.6,2733.6 604.4,2749.4 593.1,2765.1 581.8,2780.5 570.5,2795.8 559.2,2810.9 547.8,2825.9 536.5,2840.6 525.1,2855.2"/><polyline points="761.7,2193.6 789.5,2204.1 817.2,2214.2 844.9,2223.9 872.5,2233.3 900.0,2242.3 927.5,2250.9 955.0,2259.2 982.5,2267.1 1009.9,2274.6 1037.2,2281.8 1064.6,2288.5 1091.9,2294.9 1119.3,2301.0 1146.6,2306.6 1173.9,2311.9 1201.2,2316.8 1228.6,2321.4 1255.9,2325.6 1283.2,2329.4 1310.6,2332.8 1338.0,2335.9 1365.4,2338.5 1392.8,2340.9 1420.3,2342.8 1447.8,2344.4 1475.4,2345.6 1503.0,2346.4 1530.7,2346.9 1558.4,2347.0 1586.2,2346.7 1614.1,2346.0 1642.0,2345.0 1670.0,2343.6 1698.1,2341.8 1726.2,2339.7 1754.5,2337.2 1782.8,2334.3 1811.3,2331.0 1839.8,2327.4 1868.5,2323.4"/><polyline points="1028.4,2148.5 1017.0,2170.4 1005.7,2192.1 994.4,2213.6 983.1,2235.0 971.8,2256.2 960.6,2277.2 949.4,2298.1 938.2,2318.8 927.0,2339.3 915.8,2359.6 904.6,2379.8 893.5,2399.8 882.4,2419.6 871.2,2439.3 860.1,2458.8 849.0,2478.1 837.9,2497.2 826.9,2516.2 815.8,2535.0 804.7,2553.6 793.7,2572.1 782.6,2590.4 771.6,2608.5 760.5,2626.4 749.5,2644.1 738.4,2661.7 727.4,2679.1 716.3,2696.4 705.3,2713.4 694.2,2730.3 683.2,2747.0 672.1,2763.5 661.0,2779.9 649.9,2796.1 638.9,2812.1 627.8,2827.9 616.7,2843.5 605.5,2859.0 594.4,2874.3 583.3,2889.4"/><polyline points="740.1,2227.5 768.1,2238.6 796.0,2249.2 823.8,2259.6 851.5,2269.5 879.2,2279.0 906.9,2288.2 934.5,2297.0 962.1,2305.4 989.6,2313.5 1017.1,2321.2 1044.6,2328.5 1072.0,2335.4 1099.5,2342.0 1126.9,2348.2 1154.3,2354.0 1181.7,2359.5 1209.2,2364.6 1236.6,2369.3 1264.0,2373.6 1291.5,2377.6 1318.9,2381.2 1346.4,2384.4 1373.9,2387.3 1401.5,2389.8 1429.1,2391.9 1456.7,2393.7 1484.4,2395.0 1512.1,2396.1 1539.9,2396.7 1567.7,2397.0 1595.6,2396.9 1623.6,2396.5 1651.6,2395.7 1679.8,2394.5 1708.0,2393.0 1736.3,2391.1 1764.6,2388.8 1793.1,2386.2 1821.7,2383.2 1850.4,2379.8"/><polyline points="1080.0,2159.8 1068.8,2182.3 1057.6,2204.6 1046.4,2226.7 1035.2,2248.6 1024.1,2270.4 1013.0,2292.0 1001.9,2313.4 990.8,2334.7 979.8,2355.7 968.7,2376.6 957.7,2397.4 946.7,2417.9 935.7,2438.3 924.8,2458.5 913.8,2478.5 902.9,2498.3 891.9,2518.0 881.0,2537.5 870.1,2556.8 859.2,2576.0 848.3,2595.0 837.4,2613.8 826.5,2632.4 815.6,2650.8 804.7,2669.1 793.9,2687.2 783.0,2705.1 772.1,2722.9 761.3,2740.5 750.4,2757.9 739.5,2775.1 728.6,2792.1 717.8,2809.0 706.9,2825.7 696.0,2842.2 685.1,2858.6 674.2,2874.7 663.3,2890.7 652.4,2906.5 641.4,2922.2"/><polyline points="718.3,2261.4 746.4,2273.0 774.5,2284.2 802.4,2295.1 830.4,2305.6 858.2,2315.7 886.0,2325.4 913.8,2334.8 941.5,2343.7 969.1,2352.3 996.8,2360.6 1024.4,2368.4 1051.9,2375.9 1079.5,2383.0 1107.0,2389.7 1134.6,2396.1 1162.1,2402.0 1189.6,2407.7 1217.1,2412.9 1244.6,2417.8 1272.2,2422.3 1299.7,2426.4 1327.3,2430.2 1354.9,2433.6 1382.5,2436.6 1410.2,2439.3 1437.9,2441.6 1465.6,2443.6 1493.4,2445.1 1521.2,2446.3 1549.1,2447.2 1577.1,2447.7 1605.1,2447.8 1633.2,2447.6 1661.4,2447.0 1689.6,2446.1 1717.9,2444.8 1746.3,2443.1 1774.8,2441.1 1803.5,2438.7 1832.2,2436.0"/><polyline points="1132.0,2169.9 1120.9,2192.9 1109.8,2215.8 1098.7,2238.5 1087.7,2261.0 1076.7,2283.4 1065.7,2305.5 1054.7,2327.5 1043.8,2349.3 1032.9,2370.9 1022.0,2392.4 1011.1,2413.7 1000.2,2434.8 989.4,2455.7 978.5,2476.4 967.7,2497.0 956.9,2517.3 946.1,2537.5 935.4,2557.6 924.6,2577.4 913.9,2597.1 903.1,2616.6 892.4,2635.9 881.6,2655.0 870.9,2674.0 860.2,2692.8 849.5,2711.4 838.8,2729.8 828.1,2748.1 817.4,2766.2 806.7,2784.1 796.0,2801.8 785.3,2819.4 774.6,2836.7 763.9,2853.9 753.2,2871.0 742.5,2887.8 731.8,2904.5 721.1,2921.0 710.4,2937.3 699.7,2953.4"/><polyline points="696.2,2295.1 724.5,2307.3 752.7,2319.2 780.9,2330.6 808.9,2341.6 836.9,2352.3 864.9,2362.6 892.8,2372.4 920.6,2382.0 948.4,2391.1 976.2,2399.9 1003.9,2408.2 1031.6,2416.2 1059.3,2423.9 1087.0,2431.1 1114.6,2438.0 1142.2,2444.5 1169.9,2450.7 1197.5,2456.4 1225.1,2461.8 1252.7,2466.9 1280.4,2471.6 1308.0,2475.9 1335.7,2479.8 1363.4,2483.4 1391.1,2486.6 1418.9,2489.4 1446.7,2491.9 1474.5,2494.1 1502.4,2495.8 1530.4,2497.2 1558.4,2498.3 1586.5,2499.0 1614.6,2499.3 1642.8,2499.3 1671.1,2499.0 1699.5,2498.3 1727.9,2497.2 1756.5,2495.8 1785.1,2494.0 1813.8,2491.9"/><polyline points="1184.4,2178.6 1173.4,2202.3 1162.4,2225.7 1151.5,2249.0 1140.6,2272.1 1129.7,2295.0 1118.8,2317.8 1107.9,2340.3 1097.1,2362.7 1086.3,2384.9 1075.5,2406.9 1064.8,2428.7 1054.1,2450.3 1043.3,2471.8 1032.6,2493.1 1022.0,2514.2 1011.3,2535.1 1000.6,2555.8 990.0,2576.3 979.4,2596.7 968.8,2616.9 958.2,2636.9 947.6,2656.7 937.0,2676.4 926.5,2695.9 915.9,2715.2 905.4,2734.3 894.8,2753.2 884.3,2772.0 873.8,2790.5 863.2,2808.9 852.7,2827.2 842.2,2845.2 831.7,2863.1 821.2,2880.8 810.6,2898.3 800.1,2915.6 789.6,2932.8 779.1,2949.8 768.5,2966.6 758.0,2983.3"/><polyline points="673.9,2328.8 702.3,2341.6 730.7,2353.9 759.0,2365.9 787.3,2377.5 815.4,2388.8 843.5,2399.6 871.6,2410.0 899.6,2420.1 927.5,2429.8 955.4,2439.1 983.3,2448.0 1011.1,2456.5 1038.9,2464.7 1066.7,2472.5 1094.5,2479.9 1122.2,2486.9 1149.9,2493.6 1177.6,2499.9 1205.4,2505.8 1233.1,2511.4 1260.8,2516.6 1288.6,2521.4 1316.3,2525.9 1344.1,2530.0 1371.9,2533.7 1399.8,2537.1 1427.6,2540.1 1455.6,2542.8 1483.5,2545.1 1511.5,2547.1 1539.6,2548.7 1567.7,2550.0 1595.9,2550.9 1624.2,2551.4 1652.5,2551.7 1680.9,2551.5 1709.4,2551.1 1738.0,2550.2 1766.6,2549.1 1795.4,2547.6"/><polyline points="1237.3,2186.0 1226.4,2210.3 1215.5,2234.3 1204.6,2258.2 1193.8,2281.9 1183.0,2305.4 1172.3,2328.7 1161.6,2351.8 1150.8,2374.8 1140.2,2397.5 1129.5,2420.1 1118.9,2442.4 1108.3,2464.6 1097.7,2486.6 1087.1,2508.4 1076.5,2530.0 1066.0,2551.5 1055.5,2572.7 1045.0,2593.8 1034.5,2614.7 1024.0,2635.4 1013.6,2655.9 1003.1,2676.3 992.7,2696.4 982.3,2716.4 971.9,2736.2 961.5,2755.8 951.1,2775.2 940.7,2794.5 930.3,2813.6 920.0,2832.5 909.6,2851.2 899.2,2869.7 888.9,2888.1 878.5,2906.2 868.2,2924.2 857.8,2942.1 847.5,2959.7 837.2,2977.2 826.8,2994.5 816.5,3011.6"/><polyline points="651.2,2362.3 679.9,2375.7 708.4,2388.6 736.9,2401.2 765.3,2413.3 793.7,2425.1 821.9,2436.5 850.1,2447.5 878.3,2458.1 906.4,2468.3 934.4,2478.2 962.4,2487.6 990.4,2496.7 1018.3,2505.4 1046.2,2513.7 1074.1,2521.6 1102.0,2529.2 1129.8,2536.4 1157.6,2543.2 1185.5,2549.7 1213.3,2555.8 1241.1,2561.5 1269.0,2566.8 1296.8,2571.8 1324.7,2576.5 1352.6,2580.7 1380.5,2584.7 1408.4,2588.2 1436.4,2591.4 1464.4,2594.3 1492.5,2596.8 1520.6,2599.0 1548.8,2600.8 1577.1,2602.2 1605.4,2603.4 1633.8,2604.1 1662.2,2604.6 1690.7,2604.7 1719.3,2604.5 1748.1,2603.9 1776.8,2603.0"/><polyline points="1290.6,2192.0 1279.8,2216.9 1269.0,2241.5 1258.3,2266.0 1247.6,2290.3 1236.9,2314.4 1226.2,2338.3 1215.6,2362.0 1205.0,2385.5 1194.4,2408.8 1183.9,2431.9 1173.3,2454.8 1162.8,2477.6 1152.4,2500.1 1141.9,2522.5 1131.5,2544.6 1121.1,2566.6 1110.7,2588.4 1100.3,2610.0 1089.9,2631.4 1079.6,2652.6 1069.3,2673.6 1059.0,2694.5 1048.7,2715.1 1038.4,2735.6 1028.1,2755.9 1017.9,2776.0 1007.6,2795.9 997.4,2815.7 987.2,2835.2 976.9,2854.6 966.7,2873.8 956.5,2892.8 946.3,2911.7 936.1,2930.3 926.0,2948.8 915.8,2967.1 905.6,2985.2 895.4,3003.2 885.3,3021.0 875.1,3038.6"/><polyline points="628.2,2395.6 657.1,2409.6 685.9,2423.1 714.5,2436.3 743.1,2449.0 771.6,2461.3 800.1,2473.3 828.4,2484.8 856.7,2496.0 885.0,2506.8 913.2,2517.1 941.3,2527.1 969.4,2536.7 997.5,2546.0 1025.5,2554.8 1053.5,2563.3 1081.5,2571.4 1109.5,2579.1 1137.4,2586.4 1165.4,2593.4 1193.3,2600.0 1221.2,2606.2 1249.2,2612.1 1277.1,2617.6 1305.1,2622.8 1333.0,2627.6 1361.0,2632.0 1389.1,2636.1 1417.1,2639.9 1445.2,2643.3 1473.4,2646.3 1501.6,2649.0 1529.8,2651.4 1558.1,2653.4 1586.5,2655.0 1614.9,2656.4 1643.4,2657.4 1672.0,2658.1 1700.6,2658.4 1729.4,2658.4 1758.2,2658.1"/><polyline points="1344.5,2196.5 1333.8,2222.0 1323.1,2247.3 1312.4,2272.4 1301.8,2297.3 1291.2,2322.0 1280.7,2346.5 1270.1,2370.8 1259.6,2394.9 1249.1,2418.7 1238.7,2442.4 1228.3,2465.9 1217.9,2489.2 1207.5,2512.3 1197.2,2535.2 1186.8,2557.9 1176.5,2580.4 1166.3,2602.7 1156.0,2624.8 1145.8,2646.7 1135.5,2668.5 1125.3,2690.0 1115.2,2711.3 1105.0,2732.5 1094.8,2753.5 1084.7,2774.3 1074.6,2794.9 1064.5,2815.3 1054.4,2835.5 1044.3,2855.5 1034.2,2875.4 1024.1,2895.1 1014.1,2914.6 1004.1,2933.9 994.0,2953.0 984.0,2972.0 974.0,2990.7 963.9,3009.3 953.9,3027.8 943.9,3046.0 933.9,3064.1"/><polyline points="605.0,2428.8 634.0,2443.3 663.0,2457.5 691.8,2471.2 720.6,2484.5 749.3,2497.4 777.9,2509.9 806.5,2522.0 834.9,2533.7 863.3,2545.0 891.7,2556.0 920.0,2566.5 948.3,2576.6 976.5,2586.4 1004.6,2595.8 1032.8,2604.8 1060.9,2613.4 1089.0,2621.6 1117.0,2629.5 1145.1,2637.0 1173.1,2644.1 1201.2,2650.9 1229.2,2657.2 1257.2,2663.3 1285.3,2669.0 1313.4,2674.3 1341.4,2679.2 1369.6,2683.9 1397.7,2688.1 1425.9,2692.0 1454.1,2695.6 1482.3,2698.8 1510.6,2701.7 1539.0,2704.3 1567.4,2706.5 1595.9,2708.4 1624.4,2710.0 1653.1,2711.2 1681.8,2712.1 1710.5,2712.7 1739.4,2712.9"/><polyline points="1398.9,2199.6 1388.3,2225.8 1377.7,2251.7 1367.1,2277.4 1356.6,2302.9 1346.1,2328.2 1335.6,2353.3 1325.2,2378.2 1314.8,2402.8 1304.4,2427.3 1294.0,2451.5 1283.7,2475.6 1273.4,2499.4 1263.1,2523.1 1252.9,2546.5 1242.7,2569.8 1232.5,2592.8 1222.3,2615.6 1212.1,2638.3 1202.0,2660.7 1191.9,2683.0 1181.8,2705.0 1171.8,2726.9 1161.7,2748.5 1151.7,2770.0 1141.7,2791.3 1131.7,2812.4 1121.7,2833.3 1111.7,2854.0 1101.8,2874.5 1091.8,2894.9 1081.9,2915.0 1072.0,2935.0 1062.1,2954.8 1052.2,2974.4 1042.3,2993.8 1032.4,3013.0 1022.6,3032.1 1012.7,3050.9 1002.8,3069.6 993.0,3088.2"/><polyline points="581.3,2461.7 610.6,2476.9 639.8,2491.6 668.8,2505.9 697.8,2519.8 726.7,2533.3 755.5,2546.4 784.2,2559.0 812.8,2571.3 841.4,2583.2 869.9,2594.6 898.4,2605.7 926.8,2616.4 955.2,2626.7 983.5,2636.6 1011.8,2646.1 1040.0,2655.2 1068.2,2664.0 1096.4,2672.4 1124.6,2680.4 1152.7,2688.0 1180.9,2695.3 1209.0,2702.2 1237.2,2708.8 1265.3,2715.0 1293.5,2720.8 1321.7,2726.3 1349.9,2731.4 1378.1,2736.2 1406.3,2740.6 1434.6,2744.7 1463.0,2748.5 1491.3,2751.9 1519.7,2755.0 1548.2,2757.7 1576.8,2760.2 1605.4,2762.3 1634.0,2764.0 1662.8,2765.5 1691.6,2766.6 1720.5,2767.5"/><polyline points="1454.0,2201.2 1443.4,2228.0 1432.9,2254.5 1422.4,2280.9 1411.9,2307.0 1401.5,2332.9 1391.1,2358.6 1380.8,2384.1 1370.4,2409.4 1360.1,2434.4 1349.9,2459.2 1339.6,2483.9 1329.4,2508.3 1319.3,2532.5 1309.1,2556.5 1299.0,2580.3 1288.9,2603.8 1278.8,2627.2 1268.8,2650.4 1258.7,2673.4 1248.7,2696.1 1238.8,2718.7 1228.8,2741.1 1218.9,2763.2 1209.0,2785.2 1199.1,2807.0 1189.2,2828.5 1179.3,2849.9 1169.5,2871.1 1159.6,2892.1 1149.8,2912.9 1140.0,2933.6 1130.2,2954.0 1120.5,2974.2 1110.7,2994.3 1101.0,3014.2 1091.2,3033.9 1081.5,3053.4 1071.8,3072.7 1062.1,3091.9 1052.4,3110.8"/><polyline points="557.4,2494.4 586.8,2510.2 616.2,2525.5 645.5,2540.4 674.7,2554.9 703.7,2569.0 732.7,2582.6 761.6,2595.9 790.5,2608.7 819.2,2621.1 847.9,2633.1 876.5,2644.8 905.1,2656.0 933.6,2666.8 962.1,2677.2 990.5,2687.3 1018.9,2696.9 1047.2,2706.2 1075.6,2715.1 1103.9,2723.7 1132.1,2731.8 1160.4,2739.6 1188.7,2747.0 1216.9,2754.1 1245.2,2760.8 1273.4,2767.1 1301.7,2773.1 1330.0,2778.8 1358.3,2784.0 1386.6,2789.0 1415.0,2793.6 1443.4,2797.9 1471.9,2801.8 1500.3,2805.4 1528.9,2808.7 1557.5,2811.7 1586.1,2814.3 1614.9,2816.6 1643.7,2818.6 1672.5,2820.3 1701.5,2821.7"/><polyline points="1509.7,2201.1 1499.2,2228.6 1488.7,2255.8 1478.3,2282.8 1467.9,2309.6 1457.6,2336.1 1447.3,2362.5 1437.0,2388.6 1426.7,2414.4 1416.5,2440.1 1406.3,2465.5 1396.2,2490.7 1386.1,2515.7 1376.0,2540.5 1365.9,2565.0 1355.9,2589.4 1345.9,2613.5 1335.9,2637.4 1325.9,2661.1 1316.0,2684.6 1306.1,2707.9 1296.2,2731.0 1286.4,2753.9 1276.5,2776.5 1266.7,2799.0 1256.9,2821.3 1247.1,2843.4 1237.4,2865.2 1227.7,2886.9 1218.0,2908.4 1208.3,2929.7 1198.6,2950.8 1188.9,2971.7 1179.3,2992.4 1169.6,3012.9 1160.0,3033.2 1150.4,3053.4 1140.8,3073.3 1131.2,3093.1 1121.7,3112.7 1112.1,3132.1"/><polyline points="533.0,2526.9 562.7,2543.3 592.3,2559.2 621.8,2574.7 651.2,2589.8 680.5,2604.5 709.7,2618.7 738.8,2632.5 767.8,2645.9 796.7,2658.9 825.6,2671.5 854.4,2683.6 883.1,2695.4 911.8,2706.7 940.4,2717.7 969.0,2728.3 997.5,2738.5 1026.0,2748.3 1054.5,2757.7 1082.9,2766.7 1111.3,2775.4 1139.7,2783.7 1168.1,2791.6 1196.5,2799.2 1224.8,2806.4 1253.2,2813.3 1281.6,2819.8 1310.0,2825.9 1338.4,2831.7 1366.8,2837.2 1395.2,2842.3 1423.7,2847.1 1452.2,2851.5 1480.8,2855.6 1509.4,2859.4 1538.1,2862.9 1566.8,2866.1 1595.6,2868.9 1624.4,2871.5 1653.3,2873.7 1682.3,2875.6"/><polyline points="1566.1,2199.5 1555.7,2227.7 1545.3,2255.6 1534.9,2283.2 1524.6,2310.6 1514.3,2337.8 1504.1,2364.8 1493.8,2391.5 1483.7,2418.0 1473.5,2444.2 1463.4,2470.3 1453.3,2496.1 1443.3,2521.7 1433.3,2547.0 1423.3,2572.1 1413.3,2597.0 1403.4,2621.7 1393.5,2646.2 1383.7,2670.4 1373.8,2694.5 1364.0,2718.3 1354.2,2741.9 1344.5,2765.3 1334.7,2788.5 1325.0,2811.5 1315.3,2834.2 1305.6,2856.8 1296.0,2879.2 1286.4,2901.3 1276.8,2923.3 1267.2,2945.1 1257.6,2966.6 1248.0,2988.0 1238.5,3009.2 1229.0,3030.1 1219.5,3050.9 1210.0,3071.5 1200.5,3091.9 1191.1,3112.2 1181.6,3132.2 1172.2,3152.0"/><polyline points="508.3,2559.0 538.2,2576.0 568.0,2592.6 597.8,2608.7 627.4,2624.4 656.9,2639.7 686.3,2654.5 715.6,2668.9 744.8,2682.9 773.9,2696.4 803.0,2709.5 832.0,2722.3 860.9,2734.6 889.7,2746.5 918.5,2758.0 947.2,2769.1 975.9,2779.8 1004.6,2790.1 1033.2,2800.1 1061.7,2809.6 1090.3,2818.8 1118.8,2827.6 1147.3,2836.1 1175.8,2844.1 1204.3,2851.8 1232.7,2859.2 1261.2,2866.2 1289.7,2872.8 1318.2,2879.1 1346.7,2885.1 1375.3,2890.7 1403.8,2896.0 1432.4,2901.0 1461.1,2905.6 1489.8,2909.9 1518.5,2913.9 1547.3,2917.6 1576.1,2921.0 1605.0,2924.0 1634.0,2926.8 1663.0,2929.2"/><polyline points="1623.3,2196.2 1612.9,2225.0 1602.5,2253.6 1592.2,2282.0 1582.0,2310.1 1571.8,2337.9 1561.6,2365.5 1551.4,2392.9 1541.3,2420.0 1531.2,2446.9 1521.2,2473.6 1511.2,2500.0 1501.2,2526.1 1491.3,2552.1 1481.4,2577.8 1471.5,2603.3 1461.6,2628.5 1451.8,2653.6 1442.0,2678.4 1432.3,2702.9 1422.5,2727.3 1412.8,2751.4 1403.1,2775.4 1393.5,2799.1 1383.9,2822.6 1374.3,2845.8 1364.7,2868.9 1355.1,2891.8 1345.6,2914.4 1336.1,2936.9 1326.6,2959.1 1317.1,2981.1 1307.7,3003.0 1298.3,3024.6 1288.9,3046.0 1279.5,3067.3 1270.1,3088.3 1260.7,3109.2 1251.4,3129.9 1242.1,3150.3 1232.8,3170.6"/><polyline points="483.1,2590.8 513.3,2608.5 543.4,2625.7 573.3,2642.5 603.2,2658.8 632.9,2674.6 662.5,2690.0 692.0,2705.0 721.5,2719.6 750.8,2733.7 780.0,2747.4 809.2,2760.7 838.3,2773.5 867.3,2786.0 896.3,2798.0 925.2,2809.7 954.0,2820.9 982.8,2831.8 1011.6,2842.2 1040.3,2852.3 1069.0,2862.0 1097.7,2871.3 1126.3,2880.3 1154.9,2888.8 1183.5,2897.0 1212.1,2904.9 1240.7,2912.4 1269.3,2919.5 1297.9,2926.3 1326.5,2932.8 1355.1,2938.9 1383.8,2944.7 1412.5,2950.2 1441.2,2955.3 1470.0,2960.1 1498.8,2964.6 1527.6,2968.8 1556.5,2972.7 1585.5,2976.3 1614.5,2979.5 1643.6,2982.5"/><polyline points="1681.2,2191.2 1670.9,2220.7 1660.6,2250.0 1650.4,2279.1 1640.1,2307.9 1630.0,2336.4 1619.8,2364.7 1609.8,2392.7 1599.7,2420.5 1589.7,2448.0 1579.7,2475.3 1569.8,2502.3 1559.8,2529.1 1550.0,2555.7 1540.1,2582.0 1530.3,2608.0 1520.5,2633.9 1510.8,2659.5 1501.1,2684.8 1491.4,2710.0 1481.7,2734.9 1472.1,2759.6 1462.5,2784.0 1452.9,2808.3 1443.4,2832.3 1433.8,2856.1 1424.4,2879.6 1414.9,2903.0 1405.4,2926.1 1396.0,2949.1 1386.6,2971.8 1377.3,2994.3 1367.9,3016.6 1358.6,3038.7 1349.3,3060.6 1340.0,3082.3 1330.7,3103.8 1321.5,3125.1 1312.2,3146.2 1303.0,3167.1 1293.8,3187.8"/><polyline points="457.5,2622.3 488.0,2640.6 518.3,2658.5 548.5,2675.9 578.6,2692.8 608.5,2709.3 638.4,2725.3 668.1,2740.9 697.8,2756.0 727.3,2770.7 756.8,2785.0 786.1,2798.8 815.4,2812.3 844.6,2825.3 873.8,2837.8 902.9,2850.0 931.9,2861.8 960.8,2873.2 989.8,2884.2 1018.6,2894.8 1047.5,2905.0 1076.3,2914.8 1105.0,2924.2 1133.8,2933.3 1162.5,2942.0 1191.2,2950.4 1219.9,2958.4 1248.6,2966.0 1277.4,2973.3 1306.1,2980.3 1334.8,2986.9 1363.6,2993.2 1392.3,2999.1 1421.1,3004.7 1450.0,3010.1 1478.9,3015.1 1507.8,3019.7 1536.8,3024.1 1565.8,3028.2 1594.9,3032.0 1624.0,3035.5"/><polyline points="1740.0,2184.4 1729.8,2214.7 1719.5,2244.7 1709.3,2274.5 1699.2,2304.0 1689.0,2333.2 1678.9,2362.2 1668.9,2390.9 1658.9,2419.3 1648.9,2447.5 1639.0,2475.5 1629.1,2503.1 1619.3,2530.6 1609.4,2557.7 1599.6,2584.6 1589.9,2611.3 1580.2,2637.7 1570.5,2663.9 1560.8,2689.9 1551.2,2715.6 1541.6,2741.0 1532.1,2766.3 1522.5,2791.3 1513.0,2816.1 1503.6,2840.6 1494.1,2864.9 1484.7,2889.0 1475.3,2912.9 1465.9,2936.5 1456.6,2959.9 1447.3,2983.1 1438.0,3006.1 1428.7,3028.9 1419.5,3051.5 1410.3,3073.9 1401.1,3096.0 1391.9,3118.0 1382.8,3139.7 1373.6,3161.3 1364.5,3182.6 1355.4,3203.8"/><polyline points="431.5,2653.3 462.2,2672.3 492.8,2690.9 523.3,2708.9 553.6,2726.5 583.8,2743.6 613.9,2760.2 643.9,2776.4 673.7,2792.2 703.5,2807.5 733.2,2822.3 762.7,2836.7 792.2,2850.7 821.6,2864.3 851.0,2877.4 880.2,2890.1 909.4,2902.4 938.5,2914.3 967.6,2925.9 996.7,2937.0 1025.6,2947.7 1054.6,2958.0 1083.5,2968.0 1112.4,2977.6 1141.3,2986.8 1170.1,2995.6 1199.0,3004.1 1227.8,3012.2 1256.6,3020.0 1285.4,3027.5 1314.3,3034.6 1343.1,3041.3 1372.0,3047.8 1400.9,3053.9 1429.8,3059.7 1458.8,3065.2 1487.8,3070.4 1516.8,3075.2 1545.9,3079.8 1575.1,3084.1 1604.3,3088.1"/><polyline points="1799.8,2175.7 1789.5,2206.8 1779.3,2237.6 1769.2,2268.1 1759.1,2298.4 1749.0,2328.3 1738.9,2358.0 1728.9,2387.4 1719.0,2416.6 1709.0,2445.4 1699.2,2474.0 1689.3,2502.4 1679.5,2530.4 1669.7,2558.2 1660.0,2585.8 1650.3,2613.1 1640.6,2640.1 1631.0,2666.9 1621.4,2693.4 1611.8,2719.7 1602.3,2745.8 1592.8,2771.6 1583.3,2797.1 1573.9,2822.5 1564.5,2847.5 1555.1,2872.4 1545.8,2897.0 1536.5,2921.4 1527.2,2945.5 1517.9,2969.5 1508.7,2993.2 1499.5,3016.6 1490.3,3039.9 1481.1,3063.0 1472.0,3085.8 1462.9,3108.4 1453.8,3130.8 1444.7,3153.0 1435.7,3175.0 1426.7,3196.8 1417.7,3218.4"/><polyline points="405.0,2683.9 436.0,2703.6 466.9,2722.8 497.6,2741.6 528.2,2759.8 558.6,2777.5 589.0,2794.8 619.2,2811.6 649.3,2828.0 679.3,2843.9 709.2,2859.3 739.0,2874.3 768.7,2888.9 798.3,2903.0 827.8,2916.7 857.3,2930.0 886.6,2942.8 916.0,2955.3 945.2,2967.3 974.4,2978.9 1003.6,2990.2 1032.7,3001.0 1061.7,3011.5 1090.8,3021.6 1119.8,3031.3 1148.8,3040.6 1177.7,3049.6 1206.7,3058.2 1235.6,3066.5 1264.6,3074.4 1293.5,3082.0 1322.5,3089.3 1351.5,3096.2 1380.5,3102.8 1409.5,3109.1 1438.5,3115.0 1467.6,3120.7 1496.8,3126.1 1525.9,3131.1 1555.2,3135.9 1584.4,3140.4"/><polyline points="1860.5,2165.2 1850.3,2197.1 1840.1,2228.7 1830.0,2260.0 1819.9,2291.0 1809.9,2321.7 1799.8,2352.1 1789.9,2382.3 1780.0,2412.1 1770.1,2441.7 1760.2,2471.0 1750.4,2500.0 1740.7,2528.7 1730.9,2557.2 1721.2,2585.4 1711.6,2613.3 1702.0,2641.0 1692.4,2668.4 1682.8,2695.5 1673.3,2722.4 1663.8,2749.1 1654.4,2775.4 1645.0,2801.6 1635.6,2827.4 1626.3,2853.1 1616.9,2878.5 1607.6,2903.6 1598.4,2928.5 1589.2,2953.2 1580.0,2977.7 1570.8,3001.9 1561.7,3025.8 1552.5,3049.6 1543.5,3073.1 1534.4,3096.4 1525.4,3119.5 1516.4,3142.4 1507.4,3165.1 1498.4,3187.5 1489.5,3209.8 1480.6,3231.8"/><polyline points="378.0,2714.1 409.3,2734.5 440.5,2754.4 471.5,2773.8 502.3,2792.7 533.0,2811.1 563.6,2829.0 594.1,2846.5 624.4,2863.4 654.7,2879.9 684.8,2896.0 714.8,2911.6 744.7,2926.7 774.6,2941.4 804.3,2955.7 834.0,2969.5 863.5,2982.9 893.0,2995.9 922.5,3008.4 951.9,3020.6 981.2,3032.4 1010.5,3043.7 1039.7,3054.7 1068.9,3065.3 1098.0,3075.5 1127.2,3085.3 1156.3,3094.8 1185.4,3103.9 1214.4,3112.7 1243.5,3121.1 1272.6,3129.2 1301.7,3136.9 1330.7,3144.3 1359.8,3151.4 1389.0,3158.1 1418.1,3164.6 1447.3,3170.7 1476.5,3176.6 1505.7,3182.1 1535.1,3187.4 1564.4,3192.3"/></g>
<ellipse cx="825" cy="2065" rx="18" ry="16.5" fill="#b50b0f"/>
<ellipse cx="346.6" cy="2716" rx="18" ry="16.5" fill="#b50b0f"/>
<ellipse cx="1159.3" cy="2555.6" rx="18" ry="16.5" fill="#b50b0f"/>
<rect x="383.0" y="3049.6" width="11" height="10" rx="2.5" fill="#000"/>
<rect x="364.5" y="2898.8" width="11" height="10" rx="2.5" fill="#000"/>
<rect x="346.1" y="2748.0" width="11" height="10" rx="2.5" fill="#000"/>
<rect x="327.7" y="2597.2" width="11" height="10" rx="2.5" fill="#000"/>
<rect x="309.3" y="2446.4" width="11" height="10" rx="2.5" fill="#000"/>
<rect x="404.5" y="3226.0" width="11" height="10" rx="2.5" fill="#000"/>
<rect x="627.6" y="3275.1" width="11" height="10" rx="2.5" fill="#000"/>
<rect x="850.7" y="3324.2" width="11" height="10" rx="2.5" fill="#000"/>
<rect x="1073.7" y="3373.4" width="11" height="10" rx="2.5" fill="#000"/>
<rect x="1296.8" y="3422.5" width="11" height="10" rx="2.5" fill="#000"/>
<rect x="1519.9" y="3471.6" width="11" height="10" rx="2.5" fill="#000"/>
<rect x="1844.2" y="2852.0" width="11" height="10" rx="2.5" fill="#000"/>
<rect x="1779.3" y="2975.9" width="11" height="10" rx="2.5" fill="#000"/>
<rect x="1714.5" y="3099.8" width="11" height="10" rx="2.5" fill="#000"/>
<rect x="1649.6" y="3223.8" width="11" height="10" rx="2.5" fill="#000"/>
<rect x="1584.8" y="3347.7" width="11" height="10" rx="2.5" fill="#000"/>
<text x="196" y="2438" font-family="'DejaVu Sans','Liberation Sans',sans-serif" font-size="44" fill="#2e2e2e" textLength="84" lengthAdjust="spacingAndGlyphs" stroke="#2e2e2e" stroke-width="0.5">100</text>
<text x="240.7" y="2589" font-family="'DejaVu Sans','Liberation Sans',sans-serif" font-size="44" fill="#2e2e2e" textLength="61" lengthAdjust="spacingAndGlyphs" stroke="#2e2e2e" stroke-width="0.5">80</text>
<text x="259" y="2741" font-family="'DejaVu Sans','Liberation Sans',sans-serif" font-size="44" fill="#2e2e2e" textLength="61" lengthAdjust="spacingAndGlyphs" stroke="#2e2e2e" stroke-width="0.5">60</text>
<text x="277.8" y="2891.6" font-family="'DejaVu Sans','Liberation Sans',sans-serif" font-size="44" fill="#2e2e2e" textLength="61" lengthAdjust="spacingAndGlyphs" stroke="#2e2e2e" stroke-width="0.5">40</text>
<text x="296" y="3041.4" font-family="'DejaVu Sans','Liberation Sans',sans-serif" font-size="44" fill="#2e2e2e" textLength="60" lengthAdjust="spacingAndGlyphs" stroke="#2e2e2e" stroke-width="0.5">20</text>
<text x="350" y="3285" font-family="'DejaVu Sans','Liberation Sans',sans-serif" font-size="44" fill="#2e2e2e" textLength="29" lengthAdjust="spacingAndGlyphs" stroke="#2e2e2e" stroke-width="0.5">2</text>
<text x="529" y="3333" font-family="'DejaVu Sans','Liberation Sans',sans-serif" font-size="44" fill="#2e2e2e" textLength="71.5" lengthAdjust="spacingAndGlyphs" stroke="#2e2e2e" stroke-width="0.5">2,2</text>
<text x="754" y="3382" font-family="'DejaVu Sans','Liberation Sans',sans-serif" font-size="44" fill="#2e2e2e" textLength="70" lengthAdjust="spacingAndGlyphs" stroke="#2e2e2e" stroke-width="0.5">2,4</text>
<text x="976" y="3431" font-family="'DejaVu Sans','Liberation Sans',sans-serif" font-size="44" fill="#2e2e2e" textLength="71.5" lengthAdjust="spacingAndGlyphs" stroke="#2e2e2e" stroke-width="0.5">2,6</text>
<text x="1198" y="3480" font-family="'DejaVu Sans','Liberation Sans',sans-serif" font-size="44" fill="#2e2e2e" textLength="72" lengthAdjust="spacingAndGlyphs" stroke="#2e2e2e" stroke-width="0.5">2,8</text>
<text x="1467" y="3527" font-family="'DejaVu Sans','Liberation Sans',sans-serif" font-size="44" fill="#2e2e2e" textLength="24" lengthAdjust="spacingAndGlyphs" stroke="#2e2e2e" stroke-width="0.5">3</text>
<text x="1558.7" y="3527" font-family="'DejaVu Sans','Liberation Sans',sans-serif" font-size="44" fill="#2e2e2e" textLength="28" lengthAdjust="spacingAndGlyphs" stroke="#2e2e2e" stroke-width="0.5">6</text>
<text x="1626" y="3405" font-family="'DejaVu Sans','Liberation Sans',sans-serif" font-size="44" fill="#2e2e2e" textLength="69" lengthAdjust="spacingAndGlyphs" stroke="#2e2e2e" stroke-width="0.5">5,4</text>
<text x="1685.7" y="3283.4" font-family="'DejaVu Sans','Liberation Sans',sans-serif" font-size="44" fill="#2e2e2e" textLength="72" lengthAdjust="spacingAndGlyphs" stroke="#2e2e2e" stroke-width="0.5">4,8</text>
<text x="1751" y="3159" font-family="'DejaVu Sans','Liberation Sans',sans-serif" font-size="44" fill="#2e2e2e" textLength="71" lengthAdjust="spacingAndGlyphs" stroke="#2e2e2e" stroke-width="0.5">4,2</text>
<text x="1816" y="3034.5" font-family="'DejaVu Sans','Liberation Sans',sans-serif" font-size="44" fill="#2e2e2e" textLength="74.5" lengthAdjust="spacingAndGlyphs" stroke="#2e2e2e" stroke-width="0.5">3,6</text>
<text x="1882.5" y="2910" font-family="'DejaVu Sans','Liberation Sans',sans-serif" font-size="44" fill="#2e2e2e" textLength="24" lengthAdjust="spacingAndGlyphs" stroke="#2e2e2e" stroke-width="0.5">3</text>
<text x="589" y="3614" font-family="'DejaVu Sans','Liberation Sans',sans-serif" font-size="47" fill="#2e2e2e" textLength="456" lengthAdjust="spacingAndGlyphs" stroke="#2e2e2e" stroke-width="0.5">B: lipids liquid (%)</text>
<text x="1775" y="3269" font-family="'DejaVu Sans','Liberation Sans',sans-serif" font-size="47" fill="#2e2e2e" textLength="517" lengthAdjust="spacingAndGlyphs" stroke="#2e2e2e" stroke-width="0.5">A: % surfactante (%)</text>
<text transform="translate(96,2959) rotate(-90)" font-family="'Liberation Sans','DejaVu Sans',sans-serif" font-size="59" fill="#2e2e2e" stroke="#2e2e2e" stroke-width="0.4" textLength="188" lengthAdjust="spacingAndGlyphs">size (nm)</text>
</svg></body></html>
